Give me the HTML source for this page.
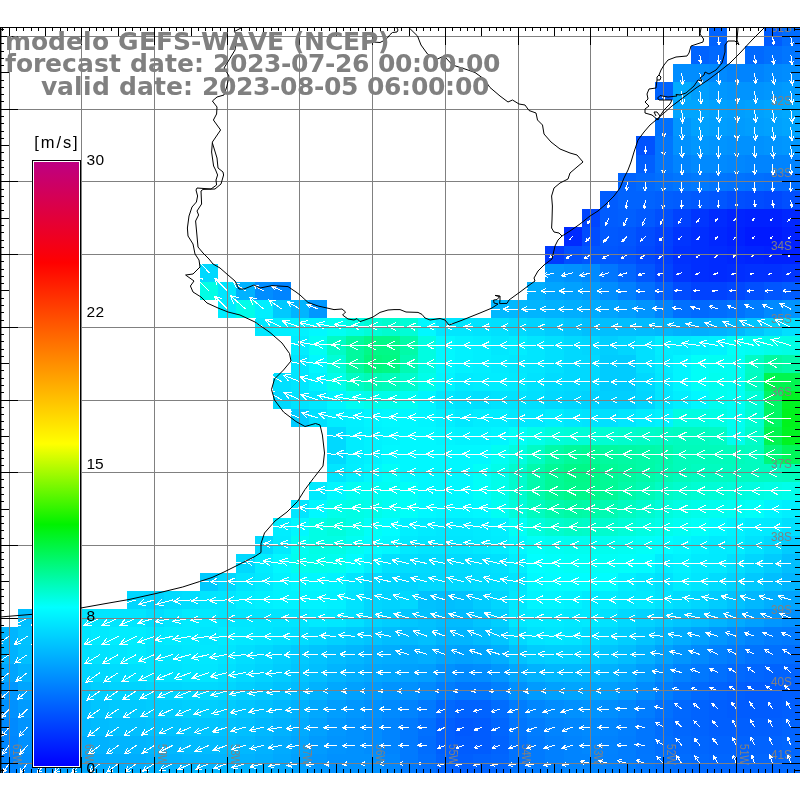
<!DOCTYPE html>
<html><head><meta charset="utf-8"><title>GEFS-WAVE wind forecast</title>
<style>html,body{margin:0;padding:0;background:#fff}body{width:800px;height:800px;overflow:hidden}svg{display:block;will-change:transform}.t{font-family:"DejaVu Sans","Liberation Sans",sans-serif;font-weight:bold;font-size:25px;fill:#808080;font-kerning:none}.n{font-family:"Liberation Sans","DejaVu Sans",sans-serif;font-size:15.5px;fill:#000}.g{font-family:"Liberation Sans","DejaVu Sans",sans-serif;font-size:12.5px;fill:#808080}</style></head><body>
<svg width="800" height="800" viewBox="0 0 800 800">
<rect width="800" height="800" fill="#fff"/>
<g shape-rendering="crispEdges">
<rect x="709" y="27" width="18" height="19" fill="#0063ff"/>
<rect x="764" y="27" width="18" height="19" fill="#005cff"/>
<rect x="782" y="27" width="18" height="19" fill="#006dff"/>
<rect x="691" y="46" width="18" height="18" fill="#0063ff"/>
<rect x="709" y="46" width="18" height="18" fill="#0069ff"/>
<rect x="745" y="46" width="19" height="18" fill="#0069ff"/>
<rect x="764" y="46" width="18" height="18" fill="#0070ff"/>
<rect x="782" y="46" width="18" height="18" fill="#0076ff"/>
<rect x="673" y="64" width="36" height="18" fill="#008dff"/>
<rect x="709" y="64" width="18" height="18" fill="#008aff"/>
<rect x="727" y="64" width="37" height="18" fill="#0084ff"/>
<rect x="764" y="64" width="18" height="18" fill="#008aff"/>
<rect x="782" y="64" width="18" height="18" fill="#008dff"/>
<rect x="655" y="82" width="18" height="18" fill="#0063ff"/>
<rect x="673" y="82" width="18" height="18" fill="#00abff"/>
<rect x="691" y="82" width="18" height="18" fill="#009eff"/>
<rect x="709" y="82" width="18" height="18" fill="#0097ff"/>
<rect x="727" y="82" width="37" height="18" fill="#0094ff"/>
<rect x="764" y="82" width="18" height="18" fill="#0097ff"/>
<rect x="782" y="82" width="18" height="18" fill="#009bff"/>
<rect x="673" y="100" width="36" height="18" fill="#00a5ff"/>
<rect x="709" y="100" width="18" height="18" fill="#00a1ff"/>
<rect x="727" y="100" width="18" height="18" fill="#009eff"/>
<rect x="745" y="100" width="19" height="18" fill="#00a1ff"/>
<rect x="764" y="100" width="18" height="18" fill="#00a5ff"/>
<rect x="782" y="100" width="18" height="18" fill="#00a8ff"/>
<rect x="655" y="118" width="18" height="18" fill="#0070ff"/>
<rect x="673" y="118" width="18" height="18" fill="#0097ff"/>
<rect x="691" y="118" width="18" height="18" fill="#00a1ff"/>
<rect x="709" y="118" width="18" height="18" fill="#009eff"/>
<rect x="727" y="118" width="18" height="18" fill="#009bff"/>
<rect x="745" y="118" width="19" height="18" fill="#009eff"/>
<rect x="764" y="118" width="18" height="18" fill="#00a1ff"/>
<rect x="782" y="118" width="18" height="18" fill="#00a5ff"/>
<rect x="636" y="136" width="19" height="19" fill="#0052ff"/>
<rect x="655" y="136" width="18" height="19" fill="#0076ff"/>
<rect x="673" y="136" width="18" height="19" fill="#0091ff"/>
<rect x="691" y="136" width="18" height="19" fill="#0097ff"/>
<rect x="709" y="136" width="18" height="19" fill="#0094ff"/>
<rect x="727" y="136" width="37" height="19" fill="#0091ff"/>
<rect x="764" y="136" width="18" height="19" fill="#0094ff"/>
<rect x="782" y="136" width="18" height="19" fill="#0097ff"/>
<rect x="636" y="155" width="19" height="18" fill="#005fff"/>
<rect x="655" y="155" width="18" height="18" fill="#0076ff"/>
<rect x="673" y="155" width="18" height="18" fill="#0084ff"/>
<rect x="691" y="155" width="36" height="18" fill="#008aff"/>
<rect x="727" y="155" width="18" height="18" fill="#0087ff"/>
<rect x="745" y="155" width="55" height="18" fill="#0084ff"/>
<rect x="618" y="173" width="18" height="18" fill="#0063ff"/>
<rect x="636" y="173" width="19" height="18" fill="#0069ff"/>
<rect x="655" y="173" width="18" height="18" fill="#0070ff"/>
<rect x="673" y="173" width="18" height="18" fill="#0076ff"/>
<rect x="691" y="173" width="18" height="18" fill="#007aff"/>
<rect x="709" y="173" width="18" height="18" fill="#0076ff"/>
<rect x="727" y="173" width="18" height="18" fill="#0073ff"/>
<rect x="745" y="173" width="19" height="18" fill="#0070ff"/>
<rect x="764" y="173" width="36" height="18" fill="#006dff"/>
<rect x="600" y="191" width="18" height="18" fill="#005cff"/>
<rect x="618" y="191" width="37" height="18" fill="#0063ff"/>
<rect x="655" y="191" width="18" height="18" fill="#005fff"/>
<rect x="673" y="191" width="18" height="18" fill="#005cff"/>
<rect x="691" y="191" width="18" height="18" fill="#0059ff"/>
<rect x="709" y="191" width="18" height="18" fill="#0056ff"/>
<rect x="727" y="191" width="18" height="18" fill="#004fff"/>
<rect x="745" y="191" width="19" height="18" fill="#004cff"/>
<rect x="764" y="191" width="18" height="18" fill="#0048ff"/>
<rect x="782" y="191" width="18" height="18" fill="#004fff"/>
<rect x="582" y="209" width="18" height="18" fill="#0045ff"/>
<rect x="600" y="209" width="18" height="18" fill="#005cff"/>
<rect x="618" y="209" width="18" height="18" fill="#005fff"/>
<rect x="636" y="209" width="19" height="18" fill="#0059ff"/>
<rect x="655" y="209" width="18" height="18" fill="#004fff"/>
<rect x="673" y="209" width="18" height="18" fill="#0042ff"/>
<rect x="691" y="209" width="18" height="18" fill="#0035ff"/>
<rect x="709" y="209" width="18" height="18" fill="#002bff"/>
<rect x="727" y="209" width="18" height="18" fill="#0024ff"/>
<rect x="745" y="209" width="37" height="18" fill="#0021ff"/>
<rect x="782" y="209" width="18" height="18" fill="#0027ff"/>
<rect x="564" y="227" width="18" height="19" fill="#002bff"/>
<rect x="582" y="227" width="18" height="19" fill="#004cff"/>
<rect x="600" y="227" width="18" height="19" fill="#0059ff"/>
<rect x="618" y="227" width="18" height="19" fill="#0056ff"/>
<rect x="636" y="227" width="19" height="19" fill="#004cff"/>
<rect x="655" y="227" width="18" height="19" fill="#0042ff"/>
<rect x="673" y="227" width="18" height="19" fill="#0035ff"/>
<rect x="691" y="227" width="18" height="19" fill="#002eff"/>
<rect x="709" y="227" width="18" height="19" fill="#0027ff"/>
<rect x="727" y="227" width="18" height="19" fill="#0021ff"/>
<rect x="745" y="227" width="37" height="19" fill="#001aff"/>
<rect x="782" y="227" width="18" height="19" fill="#0021ff"/>
<rect x="545" y="246" width="19" height="18" fill="#003bff"/>
<rect x="564" y="246" width="18" height="18" fill="#004fff"/>
<rect x="582" y="246" width="36" height="18" fill="#0056ff"/>
<rect x="618" y="246" width="18" height="18" fill="#0052ff"/>
<rect x="636" y="246" width="19" height="18" fill="#0048ff"/>
<rect x="655" y="246" width="18" height="18" fill="#003fff"/>
<rect x="673" y="246" width="18" height="18" fill="#0031ff"/>
<rect x="691" y="246" width="18" height="18" fill="#002eff"/>
<rect x="709" y="246" width="18" height="18" fill="#002bff"/>
<rect x="727" y="246" width="18" height="18" fill="#0027ff"/>
<rect x="745" y="246" width="19" height="18" fill="#0024ff"/>
<rect x="764" y="246" width="36" height="18" fill="#0021ff"/>
<rect x="200" y="264" width="18" height="18" fill="#00d9ff"/>
<rect x="545" y="264" width="19" height="18" fill="#0097ff"/>
<rect x="564" y="264" width="18" height="18" fill="#0091ff"/>
<rect x="582" y="264" width="18" height="18" fill="#008aff"/>
<rect x="600" y="264" width="18" height="18" fill="#0076ff"/>
<rect x="618" y="264" width="18" height="18" fill="#0066ff"/>
<rect x="636" y="264" width="19" height="18" fill="#0056ff"/>
<rect x="655" y="264" width="18" height="18" fill="#0045ff"/>
<rect x="673" y="264" width="18" height="18" fill="#0035ff"/>
<rect x="691" y="264" width="18" height="18" fill="#002eff"/>
<rect x="709" y="264" width="18" height="18" fill="#002bff"/>
<rect x="727" y="264" width="18" height="18" fill="#002eff"/>
<rect x="745" y="264" width="37" height="18" fill="#0031ff"/>
<rect x="782" y="264" width="18" height="18" fill="#0035ff"/>
<rect x="200" y="282" width="18" height="18" fill="#00fee5"/>
<rect x="218" y="282" width="18" height="18" fill="#00e6ff"/>
<rect x="236" y="282" width="19" height="18" fill="#00b2ff"/>
<rect x="255" y="282" width="18" height="18" fill="#008dff"/>
<rect x="273" y="282" width="18" height="18" fill="#0084ff"/>
<rect x="527" y="282" width="18" height="18" fill="#00aeff"/>
<rect x="545" y="282" width="19" height="18" fill="#00a5ff"/>
<rect x="564" y="282" width="18" height="18" fill="#00a1ff"/>
<rect x="582" y="282" width="18" height="18" fill="#009bff"/>
<rect x="600" y="282" width="18" height="18" fill="#008dff"/>
<rect x="618" y="282" width="18" height="18" fill="#0080ff"/>
<rect x="636" y="282" width="19" height="18" fill="#0070ff"/>
<rect x="655" y="282" width="18" height="18" fill="#005fff"/>
<rect x="673" y="282" width="18" height="18" fill="#004cff"/>
<rect x="691" y="282" width="36" height="18" fill="#0042ff"/>
<rect x="727" y="282" width="18" height="18" fill="#0048ff"/>
<rect x="745" y="282" width="19" height="18" fill="#004fff"/>
<rect x="764" y="282" width="18" height="18" fill="#0056ff"/>
<rect x="782" y="282" width="18" height="18" fill="#005cff"/>
<rect x="218" y="300" width="18" height="18" fill="#00edff"/>
<rect x="236" y="300" width="19" height="18" fill="#00feea"/>
<rect x="255" y="300" width="18" height="18" fill="#00efff"/>
<rect x="273" y="300" width="18" height="18" fill="#00c9ff"/>
<rect x="291" y="300" width="18" height="18" fill="#00b5ff"/>
<rect x="309" y="300" width="18" height="18" fill="#0097ff"/>
<rect x="491" y="300" width="36" height="18" fill="#00b8ff"/>
<rect x="527" y="300" width="18" height="18" fill="#00b5ff"/>
<rect x="545" y="300" width="19" height="18" fill="#00b2ff"/>
<rect x="564" y="300" width="18" height="18" fill="#00aeff"/>
<rect x="582" y="300" width="18" height="18" fill="#00abff"/>
<rect x="600" y="300" width="18" height="18" fill="#00a5ff"/>
<rect x="618" y="300" width="18" height="18" fill="#009eff"/>
<rect x="636" y="300" width="19" height="18" fill="#0094ff"/>
<rect x="655" y="300" width="18" height="18" fill="#0084ff"/>
<rect x="673" y="300" width="18" height="18" fill="#0070ff"/>
<rect x="691" y="300" width="18" height="18" fill="#0069ff"/>
<rect x="709" y="300" width="18" height="18" fill="#006dff"/>
<rect x="727" y="300" width="18" height="18" fill="#0073ff"/>
<rect x="745" y="300" width="19" height="18" fill="#007dff"/>
<rect x="764" y="300" width="18" height="18" fill="#008aff"/>
<rect x="782" y="300" width="18" height="18" fill="#0094ff"/>
<rect x="255" y="318" width="18" height="18" fill="#00e8ff"/>
<rect x="273" y="318" width="18" height="18" fill="#00efff"/>
<rect x="291" y="318" width="18" height="18" fill="#00f2ff"/>
<rect x="309" y="318" width="18" height="18" fill="#00f8ff"/>
<rect x="327" y="318" width="19" height="18" fill="#00fef3"/>
<rect x="346" y="318" width="18" height="18" fill="#00fee5"/>
<rect x="364" y="318" width="18" height="18" fill="#00fdd7"/>
<rect x="382" y="318" width="18" height="18" fill="#00fcce"/>
<rect x="400" y="318" width="18" height="18" fill="#00fdd7"/>
<rect x="418" y="318" width="18" height="18" fill="#00f8ff"/>
<rect x="436" y="318" width="37" height="18" fill="#00e6ff"/>
<rect x="473" y="318" width="18" height="18" fill="#00e3ff"/>
<rect x="491" y="318" width="18" height="18" fill="#00e0ff"/>
<rect x="509" y="318" width="18" height="18" fill="#00d9ff"/>
<rect x="527" y="318" width="18" height="18" fill="#00d3ff"/>
<rect x="545" y="318" width="19" height="18" fill="#00ccff"/>
<rect x="564" y="318" width="18" height="18" fill="#00c5ff"/>
<rect x="582" y="318" width="54" height="18" fill="#00bfff"/>
<rect x="636" y="318" width="19" height="18" fill="#00bcff"/>
<rect x="655" y="318" width="18" height="18" fill="#00b8ff"/>
<rect x="673" y="318" width="18" height="18" fill="#00b2ff"/>
<rect x="691" y="318" width="18" height="18" fill="#00aeff"/>
<rect x="709" y="318" width="18" height="18" fill="#00b2ff"/>
<rect x="727" y="318" width="18" height="18" fill="#00b8ff"/>
<rect x="745" y="318" width="19" height="18" fill="#00c5ff"/>
<rect x="764" y="318" width="18" height="18" fill="#00d3ff"/>
<rect x="782" y="318" width="18" height="18" fill="#00e0ff"/>
<rect x="291" y="336" width="18" height="19" fill="#00edff"/>
<rect x="309" y="336" width="18" height="19" fill="#00fef3"/>
<rect x="327" y="336" width="19" height="19" fill="#00fcc5"/>
<rect x="346" y="336" width="18" height="19" fill="#00fa9f"/>
<rect x="364" y="336" width="36" height="19" fill="#00f988"/>
<rect x="400" y="336" width="18" height="19" fill="#00fba8"/>
<rect x="418" y="336" width="18" height="19" fill="#00fde1"/>
<rect x="436" y="336" width="19" height="19" fill="#00f8ff"/>
<rect x="455" y="336" width="18" height="19" fill="#00f2ff"/>
<rect x="473" y="336" width="18" height="19" fill="#00efff"/>
<rect x="491" y="336" width="18" height="19" fill="#00e8ff"/>
<rect x="509" y="336" width="18" height="19" fill="#00edff"/>
<rect x="527" y="336" width="18" height="19" fill="#00e6ff"/>
<rect x="545" y="336" width="19" height="19" fill="#00e0ff"/>
<rect x="564" y="336" width="18" height="19" fill="#00d9ff"/>
<rect x="582" y="336" width="18" height="19" fill="#00d6ff"/>
<rect x="600" y="336" width="18" height="19" fill="#00cfff"/>
<rect x="618" y="336" width="18" height="19" fill="#00d6ff"/>
<rect x="636" y="336" width="19" height="19" fill="#00e0ff"/>
<rect x="655" y="336" width="18" height="19" fill="#00edff"/>
<rect x="673" y="336" width="18" height="19" fill="#00ebff"/>
<rect x="691" y="336" width="18" height="19" fill="#00efff"/>
<rect x="709" y="336" width="18" height="19" fill="#00f2ff"/>
<rect x="727" y="336" width="18" height="19" fill="#00fff8"/>
<rect x="745" y="336" width="19" height="19" fill="#00fef3"/>
<rect x="764" y="336" width="18" height="19" fill="#00feea"/>
<rect x="782" y="336" width="18" height="19" fill="#00fee5"/>
<rect x="291" y="355" width="18" height="18" fill="#00e6ff"/>
<rect x="309" y="355" width="18" height="18" fill="#00f8ff"/>
<rect x="327" y="355" width="19" height="18" fill="#00fdd7"/>
<rect x="346" y="355" width="18" height="18" fill="#00fa9f"/>
<rect x="364" y="355" width="18" height="18" fill="#00f87e"/>
<rect x="382" y="355" width="18" height="18" fill="#00f983"/>
<rect x="400" y="355" width="18" height="18" fill="#00fbb2"/>
<rect x="418" y="355" width="18" height="18" fill="#00fde1"/>
<rect x="436" y="355" width="19" height="18" fill="#00f8ff"/>
<rect x="455" y="355" width="18" height="18" fill="#00f2ff"/>
<rect x="473" y="355" width="18" height="18" fill="#00efff"/>
<rect x="491" y="355" width="18" height="18" fill="#00ebff"/>
<rect x="509" y="355" width="18" height="18" fill="#00e8ff"/>
<rect x="527" y="355" width="18" height="18" fill="#00e6ff"/>
<rect x="545" y="355" width="19" height="18" fill="#00e0ff"/>
<rect x="564" y="355" width="36" height="18" fill="#00d9ff"/>
<rect x="600" y="355" width="36" height="18" fill="#00ccff"/>
<rect x="636" y="355" width="19" height="18" fill="#00e0ff"/>
<rect x="655" y="355" width="18" height="18" fill="#00ebff"/>
<rect x="673" y="355" width="18" height="18" fill="#00f5ff"/>
<rect x="691" y="355" width="18" height="18" fill="#00fff8"/>
<rect x="709" y="355" width="36" height="18" fill="#00fef3"/>
<rect x="745" y="355" width="19" height="18" fill="#00fcc5"/>
<rect x="764" y="355" width="18" height="18" fill="#00fa9f"/>
<rect x="782" y="355" width="18" height="18" fill="#00fba8"/>
<rect x="273" y="373" width="18" height="18" fill="#00e0ff"/>
<rect x="291" y="373" width="18" height="18" fill="#00e6ff"/>
<rect x="309" y="373" width="18" height="18" fill="#00f2ff"/>
<rect x="327" y="373" width="19" height="18" fill="#00feea"/>
<rect x="346" y="373" width="18" height="18" fill="#00fcc5"/>
<rect x="364" y="373" width="18" height="18" fill="#00fbb6"/>
<rect x="382" y="373" width="18" height="18" fill="#00fcbb"/>
<rect x="400" y="373" width="18" height="18" fill="#00fcce"/>
<rect x="418" y="373" width="18" height="18" fill="#00feea"/>
<rect x="436" y="373" width="19" height="18" fill="#00f5ff"/>
<rect x="455" y="373" width="18" height="18" fill="#00ebff"/>
<rect x="473" y="373" width="36" height="18" fill="#00edff"/>
<rect x="509" y="373" width="18" height="18" fill="#00eaff"/>
<rect x="527" y="373" width="18" height="18" fill="#00e3ff"/>
<rect x="545" y="373" width="19" height="18" fill="#00dcff"/>
<rect x="564" y="373" width="36" height="18" fill="#00d9ff"/>
<rect x="600" y="373" width="36" height="18" fill="#00ccff"/>
<rect x="636" y="373" width="19" height="18" fill="#00d9ff"/>
<rect x="655" y="373" width="18" height="18" fill="#00e8ff"/>
<rect x="673" y="373" width="18" height="18" fill="#00f5ff"/>
<rect x="691" y="373" width="18" height="18" fill="#00fff8"/>
<rect x="709" y="373" width="18" height="18" fill="#00feef"/>
<rect x="727" y="373" width="18" height="18" fill="#00fef3"/>
<rect x="745" y="373" width="19" height="18" fill="#00fcc0"/>
<rect x="764" y="373" width="36" height="18" fill="#00f64f"/>
<rect x="273" y="391" width="18" height="18" fill="#00d9ff"/>
<rect x="291" y="391" width="18" height="18" fill="#00e3ff"/>
<rect x="309" y="391" width="18" height="18" fill="#00e8ff"/>
<rect x="327" y="391" width="19" height="18" fill="#00f5ff"/>
<rect x="346" y="391" width="18" height="18" fill="#00fef3"/>
<rect x="364" y="391" width="36" height="18" fill="#00feea"/>
<rect x="400" y="391" width="18" height="18" fill="#00fef3"/>
<rect x="418" y="391" width="18" height="18" fill="#00f5ff"/>
<rect x="436" y="391" width="19" height="18" fill="#00e8ff"/>
<rect x="455" y="391" width="18" height="18" fill="#00e3ff"/>
<rect x="473" y="391" width="18" height="18" fill="#00e0ff"/>
<rect x="491" y="391" width="36" height="18" fill="#00e3ff"/>
<rect x="527" y="391" width="18" height="18" fill="#00e0ff"/>
<rect x="545" y="391" width="19" height="18" fill="#00d9ff"/>
<rect x="564" y="391" width="18" height="18" fill="#00d6ff"/>
<rect x="582" y="391" width="18" height="18" fill="#00d3ff"/>
<rect x="600" y="391" width="36" height="18" fill="#00cfff"/>
<rect x="636" y="391" width="19" height="18" fill="#00d6ff"/>
<rect x="655" y="391" width="18" height="18" fill="#00e6ff"/>
<rect x="673" y="391" width="18" height="18" fill="#00efff"/>
<rect x="691" y="391" width="18" height="18" fill="#00f8ff"/>
<rect x="709" y="391" width="18" height="18" fill="#00feef"/>
<rect x="727" y="391" width="18" height="18" fill="#00fff6"/>
<rect x="745" y="391" width="19" height="18" fill="#00fdd7"/>
<rect x="764" y="391" width="18" height="18" fill="#00f762"/>
<rect x="782" y="391" width="18" height="18" fill="#00f421"/>
<rect x="291" y="409" width="18" height="18" fill="#00ccff"/>
<rect x="309" y="409" width="18" height="18" fill="#00e0ff"/>
<rect x="327" y="409" width="19" height="18" fill="#00edff"/>
<rect x="346" y="409" width="18" height="18" fill="#00efff"/>
<rect x="364" y="409" width="18" height="18" fill="#00f5ff"/>
<rect x="382" y="409" width="36" height="18" fill="#00f8ff"/>
<rect x="418" y="409" width="18" height="18" fill="#00f5ff"/>
<rect x="436" y="409" width="19" height="18" fill="#00efff"/>
<rect x="455" y="409" width="18" height="18" fill="#00e8ff"/>
<rect x="473" y="409" width="36" height="18" fill="#00edff"/>
<rect x="509" y="409" width="36" height="18" fill="#00e8ff"/>
<rect x="545" y="409" width="19" height="18" fill="#00edff"/>
<rect x="564" y="409" width="18" height="18" fill="#00e6ff"/>
<rect x="582" y="409" width="18" height="18" fill="#00e3ff"/>
<rect x="600" y="409" width="18" height="18" fill="#00e0ff"/>
<rect x="618" y="409" width="18" height="18" fill="#00e6ff"/>
<rect x="636" y="409" width="19" height="18" fill="#00edff"/>
<rect x="655" y="409" width="18" height="18" fill="#00f2ff"/>
<rect x="673" y="409" width="36" height="18" fill="#00fde1"/>
<rect x="709" y="409" width="18" height="18" fill="#00fee5"/>
<rect x="727" y="409" width="18" height="18" fill="#00fef3"/>
<rect x="745" y="409" width="19" height="18" fill="#00fdd3"/>
<rect x="764" y="409" width="18" height="18" fill="#00f762"/>
<rect x="782" y="409" width="18" height="18" fill="#00f31c"/>
<rect x="327" y="427" width="19" height="18" fill="#00d9ff"/>
<rect x="346" y="427" width="18" height="18" fill="#00edff"/>
<rect x="364" y="427" width="18" height="18" fill="#00f2ff"/>
<rect x="382" y="427" width="18" height="18" fill="#00f5ff"/>
<rect x="400" y="427" width="36" height="18" fill="#00f8ff"/>
<rect x="436" y="427" width="19" height="18" fill="#00f5ff"/>
<rect x="455" y="427" width="36" height="18" fill="#00f2ff"/>
<rect x="491" y="427" width="18" height="18" fill="#00f5ff"/>
<rect x="509" y="427" width="18" height="18" fill="#00fff8"/>
<rect x="527" y="427" width="18" height="18" fill="#00feea"/>
<rect x="545" y="427" width="19" height="18" fill="#00fddc"/>
<rect x="564" y="427" width="36" height="18" fill="#00fdd7"/>
<rect x="600" y="427" width="18" height="18" fill="#00fdd3"/>
<rect x="618" y="427" width="18" height="18" fill="#00fcce"/>
<rect x="636" y="427" width="19" height="18" fill="#00fcc9"/>
<rect x="655" y="427" width="18" height="18" fill="#00fcc5"/>
<rect x="673" y="427" width="36" height="18" fill="#00fcc0"/>
<rect x="709" y="427" width="18" height="18" fill="#00fcc5"/>
<rect x="727" y="427" width="18" height="18" fill="#00feef"/>
<rect x="745" y="427" width="19" height="18" fill="#00fcc9"/>
<rect x="764" y="427" width="18" height="18" fill="#00f64f"/>
<rect x="782" y="427" width="18" height="18" fill="#00f421"/>
<rect x="327" y="445" width="19" height="19" fill="#00d9ff"/>
<rect x="346" y="445" width="18" height="19" fill="#00edff"/>
<rect x="364" y="445" width="18" height="19" fill="#00f2ff"/>
<rect x="382" y="445" width="109" height="19" fill="#00f8ff"/>
<rect x="491" y="445" width="18" height="19" fill="#00fef3"/>
<rect x="509" y="445" width="18" height="19" fill="#00fde1"/>
<rect x="527" y="445" width="18" height="19" fill="#00fcc5"/>
<rect x="545" y="445" width="19" height="19" fill="#00fba8"/>
<rect x="564" y="445" width="18" height="19" fill="#00fa9a"/>
<rect x="582" y="445" width="18" height="19" fill="#00fa96"/>
<rect x="600" y="445" width="18" height="19" fill="#00fa9f"/>
<rect x="618" y="445" width="18" height="19" fill="#00faa4"/>
<rect x="636" y="445" width="19" height="19" fill="#00fba8"/>
<rect x="655" y="445" width="18" height="19" fill="#00fbad"/>
<rect x="673" y="445" width="72" height="19" fill="#00fcbb"/>
<rect x="745" y="445" width="19" height="19" fill="#00fcc0"/>
<rect x="764" y="445" width="18" height="19" fill="#00f87a"/>
<rect x="782" y="445" width="18" height="19" fill="#00f759"/>
<rect x="327" y="464" width="19" height="18" fill="#00e6ff"/>
<rect x="346" y="464" width="18" height="18" fill="#00efff"/>
<rect x="364" y="464" width="18" height="18" fill="#00f8ff"/>
<rect x="382" y="464" width="18" height="18" fill="#00fff8"/>
<rect x="400" y="464" width="73" height="18" fill="#00f8ff"/>
<rect x="473" y="464" width="18" height="18" fill="#00fff8"/>
<rect x="491" y="464" width="18" height="18" fill="#00feea"/>
<rect x="509" y="464" width="18" height="18" fill="#00fcce"/>
<rect x="527" y="464" width="18" height="18" fill="#00fbad"/>
<rect x="545" y="464" width="19" height="18" fill="#00fa96"/>
<rect x="564" y="464" width="36" height="18" fill="#00f988"/>
<rect x="600" y="464" width="18" height="18" fill="#00fa96"/>
<rect x="618" y="464" width="18" height="18" fill="#00fa9f"/>
<rect x="636" y="464" width="19" height="18" fill="#00fba8"/>
<rect x="655" y="464" width="18" height="18" fill="#00fbb2"/>
<rect x="673" y="464" width="18" height="18" fill="#00fcbb"/>
<rect x="691" y="464" width="91" height="18" fill="#00fcc0"/>
<rect x="782" y="464" width="18" height="18" fill="#00fcbb"/>
<rect x="309" y="482" width="18" height="18" fill="#00ebff"/>
<rect x="327" y="482" width="19" height="18" fill="#00f8ff"/>
<rect x="346" y="482" width="54" height="18" fill="#00fef3"/>
<rect x="400" y="482" width="18" height="18" fill="#00fff8"/>
<rect x="418" y="482" width="55" height="18" fill="#00f8ff"/>
<rect x="473" y="482" width="18" height="18" fill="#00fff8"/>
<rect x="491" y="482" width="18" height="18" fill="#00feea"/>
<rect x="509" y="482" width="18" height="18" fill="#00fcce"/>
<rect x="527" y="482" width="18" height="18" fill="#00fbad"/>
<rect x="545" y="482" width="19" height="18" fill="#00fa96"/>
<rect x="564" y="482" width="36" height="18" fill="#00f98c"/>
<rect x="600" y="482" width="18" height="18" fill="#00fa96"/>
<rect x="618" y="482" width="18" height="18" fill="#00fba8"/>
<rect x="636" y="482" width="19" height="18" fill="#00fbb6"/>
<rect x="655" y="482" width="18" height="18" fill="#00fcc5"/>
<rect x="673" y="482" width="18" height="18" fill="#00fcce"/>
<rect x="691" y="482" width="18" height="18" fill="#00fdd3"/>
<rect x="709" y="482" width="18" height="18" fill="#00fdd7"/>
<rect x="727" y="482" width="18" height="18" fill="#00fddc"/>
<rect x="745" y="482" width="19" height="18" fill="#00fde1"/>
<rect x="764" y="482" width="18" height="18" fill="#00fee5"/>
<rect x="782" y="482" width="18" height="18" fill="#00feea"/>
<rect x="291" y="500" width="18" height="18" fill="#00e6ff"/>
<rect x="309" y="500" width="18" height="18" fill="#00f8ff"/>
<rect x="327" y="500" width="19" height="18" fill="#00feea"/>
<rect x="346" y="500" width="18" height="18" fill="#00fee5"/>
<rect x="364" y="500" width="18" height="18" fill="#00feea"/>
<rect x="382" y="500" width="18" height="18" fill="#00fef3"/>
<rect x="400" y="500" width="18" height="18" fill="#00fff8"/>
<rect x="418" y="500" width="18" height="18" fill="#00f8ff"/>
<rect x="436" y="500" width="37" height="18" fill="#00f5ff"/>
<rect x="473" y="500" width="18" height="18" fill="#00f8ff"/>
<rect x="491" y="500" width="18" height="18" fill="#00fef3"/>
<rect x="509" y="500" width="18" height="18" fill="#00fddc"/>
<rect x="527" y="500" width="18" height="18" fill="#00fcc0"/>
<rect x="545" y="500" width="19" height="18" fill="#00fbad"/>
<rect x="564" y="500" width="18" height="18" fill="#00faa4"/>
<rect x="582" y="500" width="18" height="18" fill="#00fba8"/>
<rect x="600" y="500" width="18" height="18" fill="#00fbb2"/>
<rect x="618" y="500" width="18" height="18" fill="#00fcc0"/>
<rect x="636" y="500" width="19" height="18" fill="#00fcce"/>
<rect x="655" y="500" width="18" height="18" fill="#00fddc"/>
<rect x="673" y="500" width="18" height="18" fill="#00fee5"/>
<rect x="691" y="500" width="18" height="18" fill="#00feea"/>
<rect x="709" y="500" width="18" height="18" fill="#00feef"/>
<rect x="727" y="500" width="18" height="18" fill="#00fef3"/>
<rect x="745" y="500" width="19" height="18" fill="#00fff8"/>
<rect x="764" y="500" width="18" height="18" fill="#00f5ff"/>
<rect x="782" y="500" width="18" height="18" fill="#00efff"/>
<rect x="273" y="518" width="18" height="18" fill="#00edff"/>
<rect x="291" y="518" width="18" height="18" fill="#00f8ff"/>
<rect x="309" y="518" width="18" height="18" fill="#00fee5"/>
<rect x="327" y="518" width="19" height="18" fill="#00fddc"/>
<rect x="346" y="518" width="18" height="18" fill="#00fee8"/>
<rect x="364" y="518" width="18" height="18" fill="#00fff8"/>
<rect x="382" y="518" width="18" height="18" fill="#00fdff"/>
<rect x="400" y="518" width="18" height="18" fill="#00efff"/>
<rect x="418" y="518" width="18" height="18" fill="#00ebff"/>
<rect x="436" y="518" width="37" height="18" fill="#00e8ff"/>
<rect x="473" y="518" width="18" height="18" fill="#00ebff"/>
<rect x="491" y="518" width="18" height="18" fill="#00efff"/>
<rect x="509" y="518" width="18" height="18" fill="#00fff6"/>
<rect x="527" y="518" width="18" height="18" fill="#00fddc"/>
<rect x="545" y="518" width="19" height="18" fill="#00fcce"/>
<rect x="564" y="518" width="18" height="18" fill="#00fcc5"/>
<rect x="582" y="518" width="18" height="18" fill="#00fcc9"/>
<rect x="600" y="518" width="18" height="18" fill="#00fcce"/>
<rect x="618" y="518" width="18" height="18" fill="#00fdd7"/>
<rect x="636" y="518" width="19" height="18" fill="#00fde1"/>
<rect x="655" y="518" width="18" height="18" fill="#00feea"/>
<rect x="673" y="518" width="18" height="18" fill="#00fef3"/>
<rect x="691" y="518" width="18" height="18" fill="#00fff8"/>
<rect x="709" y="518" width="18" height="18" fill="#00f8ff"/>
<rect x="727" y="518" width="18" height="18" fill="#00f2ff"/>
<rect x="745" y="518" width="19" height="18" fill="#00ebff"/>
<rect x="764" y="518" width="18" height="18" fill="#00eaff"/>
<rect x="782" y="518" width="18" height="18" fill="#00e0ff"/>
<rect x="255" y="536" width="18" height="18" fill="#00d9ff"/>
<rect x="273" y="536" width="18" height="18" fill="#00ebff"/>
<rect x="291" y="536" width="18" height="18" fill="#00fef3"/>
<rect x="309" y="536" width="37" height="18" fill="#00fee5"/>
<rect x="346" y="536" width="18" height="18" fill="#00fef2"/>
<rect x="364" y="536" width="18" height="18" fill="#00fcff"/>
<rect x="382" y="536" width="18" height="18" fill="#00f8ff"/>
<rect x="400" y="536" width="18" height="18" fill="#00eaff"/>
<rect x="418" y="536" width="55" height="18" fill="#00e6ff"/>
<rect x="473" y="536" width="18" height="18" fill="#00eaff"/>
<rect x="491" y="536" width="18" height="18" fill="#00edff"/>
<rect x="509" y="536" width="18" height="18" fill="#00f8ff"/>
<rect x="527" y="536" width="18" height="18" fill="#00fff8"/>
<rect x="545" y="536" width="19" height="18" fill="#00fef3"/>
<rect x="564" y="536" width="54" height="18" fill="#00feef"/>
<rect x="618" y="536" width="18" height="18" fill="#00fef3"/>
<rect x="636" y="536" width="19" height="18" fill="#00fff8"/>
<rect x="655" y="536" width="18" height="18" fill="#00fdff"/>
<rect x="673" y="536" width="18" height="18" fill="#00f8ff"/>
<rect x="691" y="536" width="18" height="18" fill="#00f2ff"/>
<rect x="709" y="536" width="18" height="18" fill="#00ebff"/>
<rect x="727" y="536" width="18" height="18" fill="#00edff"/>
<rect x="745" y="536" width="19" height="18" fill="#00e3ff"/>
<rect x="764" y="536" width="18" height="18" fill="#00d9ff"/>
<rect x="782" y="536" width="18" height="18" fill="#00ccff"/>
<rect x="236" y="554" width="19" height="19" fill="#00d9ff"/>
<rect x="255" y="554" width="18" height="19" fill="#00edff"/>
<rect x="273" y="554" width="18" height="19" fill="#00f8ff"/>
<rect x="291" y="554" width="18" height="19" fill="#00feef"/>
<rect x="309" y="554" width="18" height="19" fill="#00feea"/>
<rect x="327" y="554" width="19" height="19" fill="#00feef"/>
<rect x="346" y="554" width="18" height="19" fill="#00fdff"/>
<rect x="364" y="554" width="18" height="19" fill="#00f0ff"/>
<rect x="382" y="554" width="18" height="19" fill="#00e1ff"/>
<rect x="400" y="554" width="18" height="19" fill="#00deff"/>
<rect x="418" y="554" width="55" height="19" fill="#00dbff"/>
<rect x="473" y="554" width="18" height="19" fill="#00deff"/>
<rect x="491" y="554" width="18" height="19" fill="#00e1ff"/>
<rect x="509" y="554" width="18" height="19" fill="#00efff"/>
<rect x="527" y="554" width="18" height="19" fill="#00ffff"/>
<rect x="545" y="554" width="19" height="19" fill="#00fffa"/>
<rect x="564" y="554" width="54" height="19" fill="#00fff6"/>
<rect x="618" y="554" width="18" height="19" fill="#00fffa"/>
<rect x="636" y="554" width="19" height="19" fill="#00fcff"/>
<rect x="655" y="554" width="18" height="19" fill="#00edff"/>
<rect x="673" y="554" width="18" height="19" fill="#00f2ff"/>
<rect x="691" y="554" width="18" height="19" fill="#00ebff"/>
<rect x="709" y="554" width="18" height="19" fill="#00eaff"/>
<rect x="727" y="554" width="18" height="19" fill="#00e0ff"/>
<rect x="745" y="554" width="19" height="19" fill="#00d6ff"/>
<rect x="764" y="554" width="18" height="19" fill="#00ccff"/>
<rect x="782" y="554" width="18" height="19" fill="#00bfff"/>
<rect x="200" y="573" width="18" height="18" fill="#00caff"/>
<rect x="218" y="573" width="18" height="18" fill="#00d8ff"/>
<rect x="236" y="573" width="19" height="18" fill="#00e5ff"/>
<rect x="255" y="573" width="18" height="18" fill="#00eaff"/>
<rect x="273" y="573" width="18" height="18" fill="#00f3ff"/>
<rect x="291" y="573" width="36" height="18" fill="#00f7ff"/>
<rect x="327" y="573" width="19" height="18" fill="#00f3ff"/>
<rect x="346" y="573" width="18" height="18" fill="#00e6ff"/>
<rect x="364" y="573" width="18" height="18" fill="#00d9ff"/>
<rect x="382" y="573" width="18" height="18" fill="#00d6ff"/>
<rect x="400" y="573" width="18" height="18" fill="#00d3ff"/>
<rect x="418" y="573" width="55" height="18" fill="#00d8ff"/>
<rect x="473" y="573" width="18" height="18" fill="#00dbff"/>
<rect x="491" y="573" width="18" height="18" fill="#00deff"/>
<rect x="509" y="573" width="18" height="18" fill="#00e5ff"/>
<rect x="527" y="573" width="18" height="18" fill="#00faff"/>
<rect x="545" y="573" width="73" height="18" fill="#00fdff"/>
<rect x="618" y="573" width="18" height="18" fill="#00efff"/>
<rect x="636" y="573" width="19" height="18" fill="#00e8ff"/>
<rect x="655" y="573" width="18" height="18" fill="#00e1ff"/>
<rect x="673" y="573" width="18" height="18" fill="#00edff"/>
<rect x="691" y="573" width="18" height="18" fill="#00e6ff"/>
<rect x="709" y="573" width="18" height="18" fill="#00dcff"/>
<rect x="727" y="573" width="18" height="18" fill="#00d3ff"/>
<rect x="745" y="573" width="19" height="18" fill="#00c9ff"/>
<rect x="764" y="573" width="18" height="18" fill="#00bfff"/>
<rect x="782" y="573" width="18" height="18" fill="#00b5ff"/>
<rect x="127" y="591" width="19" height="18" fill="#00d6ff"/>
<rect x="146" y="591" width="18" height="18" fill="#00d4ff"/>
<rect x="164" y="591" width="18" height="18" fill="#00dbff"/>
<rect x="182" y="591" width="18" height="18" fill="#00deff"/>
<rect x="200" y="591" width="18" height="18" fill="#00e5ff"/>
<rect x="218" y="591" width="18" height="18" fill="#00e6ff"/>
<rect x="236" y="591" width="19" height="18" fill="#00edff"/>
<rect x="255" y="591" width="18" height="18" fill="#00f0ff"/>
<rect x="273" y="591" width="54" height="18" fill="#00f3ff"/>
<rect x="327" y="591" width="19" height="18" fill="#00f0ff"/>
<rect x="346" y="591" width="18" height="18" fill="#00e3ff"/>
<rect x="364" y="591" width="18" height="18" fill="#00d6ff"/>
<rect x="382" y="591" width="18" height="18" fill="#00d3ff"/>
<rect x="400" y="591" width="18" height="18" fill="#00d8ff"/>
<rect x="418" y="591" width="18" height="18" fill="#00c2ff"/>
<rect x="436" y="591" width="19" height="18" fill="#00bfff"/>
<rect x="455" y="591" width="18" height="18" fill="#00c2ff"/>
<rect x="473" y="591" width="18" height="18" fill="#00ccff"/>
<rect x="491" y="591" width="18" height="18" fill="#00d6ff"/>
<rect x="509" y="591" width="18" height="18" fill="#00e8ff"/>
<rect x="527" y="591" width="37" height="18" fill="#00f5ff"/>
<rect x="564" y="591" width="18" height="18" fill="#00f2ff"/>
<rect x="582" y="591" width="18" height="18" fill="#00ebff"/>
<rect x="600" y="591" width="18" height="18" fill="#00edff"/>
<rect x="618" y="591" width="18" height="18" fill="#00e8ff"/>
<rect x="636" y="591" width="19" height="18" fill="#00eaff"/>
<rect x="655" y="591" width="18" height="18" fill="#00e3ff"/>
<rect x="673" y="591" width="18" height="18" fill="#00dcff"/>
<rect x="691" y="591" width="18" height="18" fill="#00d6ff"/>
<rect x="709" y="591" width="18" height="18" fill="#00ccff"/>
<rect x="727" y="591" width="18" height="18" fill="#00c2ff"/>
<rect x="745" y="591" width="19" height="18" fill="#00b8ff"/>
<rect x="764" y="591" width="18" height="18" fill="#00aeff"/>
<rect x="782" y="591" width="18" height="18" fill="#00a5ff"/>
<rect x="18" y="609" width="19" height="18" fill="#00bfff"/>
<rect x="37" y="609" width="18" height="18" fill="#00ccff"/>
<rect x="55" y="609" width="18" height="18" fill="#00d9ff"/>
<rect x="73" y="609" width="18" height="18" fill="#00e3ff"/>
<rect x="91" y="609" width="55" height="18" fill="#00e6ff"/>
<rect x="146" y="609" width="18" height="18" fill="#00deff"/>
<rect x="164" y="609" width="18" height="18" fill="#00e5ff"/>
<rect x="182" y="609" width="18" height="18" fill="#00ebff"/>
<rect x="200" y="609" width="18" height="18" fill="#00eaff"/>
<rect x="218" y="609" width="91" height="18" fill="#00e6ff"/>
<rect x="309" y="609" width="18" height="18" fill="#00ebff"/>
<rect x="327" y="609" width="19" height="18" fill="#00e8ff"/>
<rect x="346" y="609" width="18" height="18" fill="#00e0ff"/>
<rect x="364" y="609" width="18" height="18" fill="#00d4ff"/>
<rect x="382" y="609" width="18" height="18" fill="#00ceff"/>
<rect x="400" y="609" width="18" height="18" fill="#00c7ff"/>
<rect x="418" y="609" width="18" height="18" fill="#00c2ff"/>
<rect x="436" y="609" width="37" height="18" fill="#00bcff"/>
<rect x="473" y="609" width="18" height="18" fill="#00c5ff"/>
<rect x="491" y="609" width="18" height="18" fill="#00cfff"/>
<rect x="509" y="609" width="18" height="18" fill="#00e8ff"/>
<rect x="527" y="609" width="37" height="18" fill="#00ebff"/>
<rect x="564" y="609" width="18" height="18" fill="#00e8ff"/>
<rect x="582" y="609" width="18" height="18" fill="#00eaff"/>
<rect x="600" y="609" width="18" height="18" fill="#00e3ff"/>
<rect x="618" y="609" width="18" height="18" fill="#00d9ff"/>
<rect x="636" y="609" width="19" height="18" fill="#00d3ff"/>
<rect x="655" y="609" width="18" height="18" fill="#00ccff"/>
<rect x="673" y="609" width="18" height="18" fill="#00c5ff"/>
<rect x="691" y="609" width="18" height="18" fill="#00bfff"/>
<rect x="709" y="609" width="18" height="18" fill="#00b5ff"/>
<rect x="727" y="609" width="18" height="18" fill="#00abff"/>
<rect x="745" y="609" width="19" height="18" fill="#00a1ff"/>
<rect x="764" y="609" width="18" height="18" fill="#0097ff"/>
<rect x="782" y="609" width="18" height="18" fill="#0091ff"/>
<rect x="0" y="627" width="18" height="18" fill="#00b5ff"/>
<rect x="18" y="627" width="19" height="18" fill="#00c2ff"/>
<rect x="37" y="627" width="18" height="18" fill="#00cfff"/>
<rect x="55" y="627" width="18" height="18" fill="#00dcff"/>
<rect x="73" y="627" width="18" height="18" fill="#00e6ff"/>
<rect x="91" y="627" width="18" height="18" fill="#00eaff"/>
<rect x="109" y="627" width="37" height="18" fill="#00edff"/>
<rect x="146" y="627" width="18" height="18" fill="#00e8ff"/>
<rect x="164" y="627" width="36" height="18" fill="#00ebff"/>
<rect x="200" y="627" width="18" height="18" fill="#00e6ff"/>
<rect x="218" y="627" width="18" height="18" fill="#00ebff"/>
<rect x="236" y="627" width="19" height="18" fill="#00e8ff"/>
<rect x="255" y="627" width="18" height="18" fill="#00e5ff"/>
<rect x="273" y="627" width="18" height="18" fill="#00e1ff"/>
<rect x="291" y="627" width="18" height="18" fill="#00deff"/>
<rect x="309" y="627" width="18" height="18" fill="#00d8ff"/>
<rect x="327" y="627" width="19" height="18" fill="#00d1ff"/>
<rect x="346" y="627" width="18" height="18" fill="#00caff"/>
<rect x="364" y="627" width="18" height="18" fill="#00c4ff"/>
<rect x="382" y="627" width="18" height="18" fill="#00bdff"/>
<rect x="400" y="627" width="18" height="18" fill="#00baff"/>
<rect x="418" y="627" width="18" height="18" fill="#00bfff"/>
<rect x="436" y="627" width="37" height="18" fill="#00b5ff"/>
<rect x="473" y="627" width="18" height="18" fill="#00bcff"/>
<rect x="491" y="627" width="18" height="18" fill="#00c5ff"/>
<rect x="509" y="627" width="18" height="18" fill="#00d9ff"/>
<rect x="527" y="627" width="18" height="18" fill="#00e3ff"/>
<rect x="545" y="627" width="19" height="18" fill="#00e6ff"/>
<rect x="564" y="627" width="18" height="18" fill="#00e3ff"/>
<rect x="582" y="627" width="18" height="18" fill="#00dcff"/>
<rect x="600" y="627" width="18" height="18" fill="#00d6ff"/>
<rect x="618" y="627" width="18" height="18" fill="#00ceff"/>
<rect x="636" y="627" width="19" height="18" fill="#00c4ff"/>
<rect x="655" y="627" width="18" height="18" fill="#00b8ff"/>
<rect x="673" y="627" width="18" height="18" fill="#00acff"/>
<rect x="691" y="627" width="18" height="18" fill="#00a1ff"/>
<rect x="709" y="627" width="18" height="18" fill="#0097ff"/>
<rect x="727" y="627" width="18" height="18" fill="#008dff"/>
<rect x="745" y="627" width="19" height="18" fill="#0084ff"/>
<rect x="764" y="627" width="18" height="18" fill="#007dff"/>
<rect x="782" y="627" width="18" height="18" fill="#007aff"/>
<rect x="0" y="645" width="18" height="19" fill="#00b2ff"/>
<rect x="18" y="645" width="19" height="19" fill="#00bfff"/>
<rect x="37" y="645" width="18" height="19" fill="#00c9ff"/>
<rect x="55" y="645" width="18" height="19" fill="#00d6ff"/>
<rect x="73" y="645" width="18" height="19" fill="#00e0ff"/>
<rect x="91" y="645" width="18" height="19" fill="#00e3ff"/>
<rect x="109" y="645" width="18" height="19" fill="#00e6ff"/>
<rect x="127" y="645" width="19" height="19" fill="#00eaff"/>
<rect x="146" y="645" width="36" height="19" fill="#00e5ff"/>
<rect x="182" y="645" width="36" height="19" fill="#00e8ff"/>
<rect x="218" y="645" width="18" height="19" fill="#00e5ff"/>
<rect x="236" y="645" width="19" height="19" fill="#00deff"/>
<rect x="255" y="645" width="18" height="19" fill="#00d8ff"/>
<rect x="273" y="645" width="18" height="19" fill="#00d1ff"/>
<rect x="291" y="645" width="18" height="19" fill="#00caff"/>
<rect x="309" y="645" width="18" height="19" fill="#00c4ff"/>
<rect x="327" y="645" width="19" height="19" fill="#00bdff"/>
<rect x="346" y="645" width="18" height="19" fill="#00b7ff"/>
<rect x="364" y="645" width="18" height="19" fill="#00b0ff"/>
<rect x="382" y="645" width="18" height="19" fill="#00adff"/>
<rect x="400" y="645" width="18" height="19" fill="#00a9ff"/>
<rect x="418" y="645" width="18" height="19" fill="#00aeff"/>
<rect x="436" y="645" width="19" height="19" fill="#00a5ff"/>
<rect x="455" y="645" width="18" height="19" fill="#00a1ff"/>
<rect x="473" y="645" width="18" height="19" fill="#00a5ff"/>
<rect x="491" y="645" width="18" height="19" fill="#00aeff"/>
<rect x="509" y="645" width="18" height="19" fill="#00c2ff"/>
<rect x="527" y="645" width="18" height="19" fill="#00ccff"/>
<rect x="545" y="645" width="37" height="19" fill="#00cfff"/>
<rect x="582" y="645" width="18" height="19" fill="#00ccff"/>
<rect x="600" y="645" width="18" height="19" fill="#00c5ff"/>
<rect x="618" y="645" width="18" height="19" fill="#00bdff"/>
<rect x="636" y="645" width="19" height="19" fill="#00b1ff"/>
<rect x="655" y="645" width="18" height="19" fill="#00a2ff"/>
<rect x="673" y="645" width="18" height="19" fill="#0095ff"/>
<rect x="691" y="645" width="18" height="19" fill="#008aff"/>
<rect x="709" y="645" width="18" height="19" fill="#0080ff"/>
<rect x="727" y="645" width="18" height="19" fill="#007aff"/>
<rect x="745" y="645" width="19" height="19" fill="#0073ff"/>
<rect x="764" y="645" width="18" height="19" fill="#0070ff"/>
<rect x="782" y="645" width="18" height="19" fill="#006dff"/>
<rect x="0" y="664" width="18" height="18" fill="#00a5ff"/>
<rect x="18" y="664" width="19" height="18" fill="#00b2ff"/>
<rect x="37" y="664" width="18" height="18" fill="#00bfff"/>
<rect x="55" y="664" width="18" height="18" fill="#00ccff"/>
<rect x="73" y="664" width="18" height="18" fill="#00d6ff"/>
<rect x="91" y="664" width="18" height="18" fill="#00d9ff"/>
<rect x="109" y="664" width="18" height="18" fill="#00dcff"/>
<rect x="127" y="664" width="19" height="18" fill="#00e0ff"/>
<rect x="146" y="664" width="36" height="18" fill="#00e3ff"/>
<rect x="182" y="664" width="36" height="18" fill="#00e6ff"/>
<rect x="218" y="664" width="18" height="18" fill="#00e0ff"/>
<rect x="236" y="664" width="19" height="18" fill="#00d9ff"/>
<rect x="255" y="664" width="18" height="18" fill="#00d3ff"/>
<rect x="273" y="664" width="18" height="18" fill="#00ccff"/>
<rect x="291" y="664" width="18" height="18" fill="#00c5ff"/>
<rect x="309" y="664" width="18" height="18" fill="#00bfff"/>
<rect x="327" y="664" width="19" height="18" fill="#00b5ff"/>
<rect x="346" y="664" width="18" height="18" fill="#00aeff"/>
<rect x="364" y="664" width="18" height="18" fill="#00a8ff"/>
<rect x="382" y="664" width="18" height="18" fill="#00a5ff"/>
<rect x="400" y="664" width="18" height="18" fill="#00a1ff"/>
<rect x="418" y="664" width="18" height="18" fill="#009eff"/>
<rect x="436" y="664" width="19" height="18" fill="#0091ff"/>
<rect x="455" y="664" width="18" height="18" fill="#008aff"/>
<rect x="473" y="664" width="18" height="18" fill="#008dff"/>
<rect x="491" y="664" width="18" height="18" fill="#0097ff"/>
<rect x="509" y="664" width="18" height="18" fill="#00a8ff"/>
<rect x="527" y="664" width="18" height="18" fill="#00b2ff"/>
<rect x="545" y="664" width="55" height="18" fill="#00b8ff"/>
<rect x="600" y="664" width="18" height="18" fill="#00b1ff"/>
<rect x="618" y="664" width="18" height="18" fill="#00a9ff"/>
<rect x="636" y="664" width="19" height="18" fill="#009dff"/>
<rect x="655" y="664" width="18" height="18" fill="#008eff"/>
<rect x="673" y="664" width="18" height="18" fill="#0081ff"/>
<rect x="691" y="664" width="18" height="18" fill="#0078ff"/>
<rect x="709" y="664" width="18" height="18" fill="#0070ff"/>
<rect x="727" y="664" width="18" height="18" fill="#0069ff"/>
<rect x="745" y="664" width="19" height="18" fill="#0066ff"/>
<rect x="764" y="664" width="36" height="18" fill="#0063ff"/>
<rect x="0" y="682" width="18" height="18" fill="#0097ff"/>
<rect x="18" y="682" width="19" height="18" fill="#00a5ff"/>
<rect x="37" y="682" width="18" height="18" fill="#00b2ff"/>
<rect x="55" y="682" width="18" height="18" fill="#00bfff"/>
<rect x="73" y="682" width="18" height="18" fill="#00c9ff"/>
<rect x="91" y="682" width="18" height="18" fill="#00cfff"/>
<rect x="109" y="682" width="37" height="18" fill="#00d3ff"/>
<rect x="146" y="682" width="36" height="18" fill="#00d6ff"/>
<rect x="182" y="682" width="36" height="18" fill="#00d9ff"/>
<rect x="218" y="682" width="18" height="18" fill="#00d6ff"/>
<rect x="236" y="682" width="19" height="18" fill="#00cfff"/>
<rect x="255" y="682" width="18" height="18" fill="#00c9ff"/>
<rect x="273" y="682" width="18" height="18" fill="#00c2ff"/>
<rect x="291" y="682" width="18" height="18" fill="#00bcff"/>
<rect x="309" y="682" width="18" height="18" fill="#00b2ff"/>
<rect x="327" y="682" width="19" height="18" fill="#00a8ff"/>
<rect x="346" y="682" width="18" height="18" fill="#00a1ff"/>
<rect x="364" y="682" width="18" height="18" fill="#009bff"/>
<rect x="382" y="682" width="18" height="18" fill="#0094ff"/>
<rect x="400" y="682" width="18" height="18" fill="#0091ff"/>
<rect x="418" y="682" width="18" height="18" fill="#008aff"/>
<rect x="436" y="682" width="19" height="18" fill="#007dff"/>
<rect x="455" y="682" width="36" height="18" fill="#0076ff"/>
<rect x="491" y="682" width="18" height="18" fill="#0080ff"/>
<rect x="509" y="682" width="18" height="18" fill="#0091ff"/>
<rect x="527" y="682" width="18" height="18" fill="#009bff"/>
<rect x="545" y="682" width="19" height="18" fill="#00a1ff"/>
<rect x="564" y="682" width="36" height="18" fill="#00a5ff"/>
<rect x="600" y="682" width="18" height="18" fill="#00a0ff"/>
<rect x="618" y="682" width="18" height="18" fill="#0098ff"/>
<rect x="636" y="682" width="19" height="18" fill="#008cff"/>
<rect x="655" y="682" width="18" height="18" fill="#007eff"/>
<rect x="673" y="682" width="18" height="18" fill="#0072ff"/>
<rect x="691" y="682" width="18" height="18" fill="#0069ff"/>
<rect x="709" y="682" width="18" height="18" fill="#0063ff"/>
<rect x="727" y="682" width="18" height="18" fill="#005fff"/>
<rect x="745" y="682" width="37" height="18" fill="#005cff"/>
<rect x="782" y="682" width="18" height="18" fill="#005fff"/>
<rect x="0" y="700" width="18" height="18" fill="#0091ff"/>
<rect x="18" y="700" width="19" height="18" fill="#009bff"/>
<rect x="37" y="700" width="18" height="18" fill="#00a8ff"/>
<rect x="55" y="700" width="18" height="18" fill="#00b5ff"/>
<rect x="73" y="700" width="18" height="18" fill="#00bfff"/>
<rect x="91" y="700" width="18" height="18" fill="#00c5ff"/>
<rect x="109" y="700" width="37" height="18" fill="#00c9ff"/>
<rect x="146" y="700" width="36" height="18" fill="#00ccff"/>
<rect x="182" y="700" width="36" height="18" fill="#00cfff"/>
<rect x="218" y="700" width="18" height="18" fill="#00ccff"/>
<rect x="236" y="700" width="19" height="18" fill="#00c5ff"/>
<rect x="255" y="700" width="18" height="18" fill="#00bfff"/>
<rect x="273" y="700" width="18" height="18" fill="#00b8ff"/>
<rect x="291" y="700" width="18" height="18" fill="#00b2ff"/>
<rect x="309" y="700" width="18" height="18" fill="#00a8ff"/>
<rect x="327" y="700" width="19" height="18" fill="#009eff"/>
<rect x="346" y="700" width="18" height="18" fill="#0097ff"/>
<rect x="364" y="700" width="18" height="18" fill="#0091ff"/>
<rect x="382" y="700" width="18" height="18" fill="#008aff"/>
<rect x="400" y="700" width="18" height="18" fill="#0084ff"/>
<rect x="418" y="700" width="18" height="18" fill="#007aff"/>
<rect x="436" y="700" width="19" height="18" fill="#0069ff"/>
<rect x="455" y="700" width="36" height="18" fill="#0063ff"/>
<rect x="491" y="700" width="18" height="18" fill="#006dff"/>
<rect x="509" y="700" width="18" height="18" fill="#007dff"/>
<rect x="527" y="700" width="18" height="18" fill="#0087ff"/>
<rect x="545" y="700" width="19" height="18" fill="#008dff"/>
<rect x="564" y="700" width="18" height="18" fill="#0091ff"/>
<rect x="582" y="700" width="18" height="18" fill="#0094ff"/>
<rect x="600" y="700" width="18" height="18" fill="#008fff"/>
<rect x="618" y="700" width="18" height="18" fill="#0088ff"/>
<rect x="636" y="700" width="19" height="18" fill="#007dff"/>
<rect x="655" y="700" width="18" height="18" fill="#0071ff"/>
<rect x="673" y="700" width="18" height="18" fill="#0068ff"/>
<rect x="691" y="700" width="18" height="18" fill="#0063ff"/>
<rect x="709" y="700" width="18" height="18" fill="#005fff"/>
<rect x="727" y="700" width="55" height="18" fill="#005cff"/>
<rect x="782" y="700" width="18" height="18" fill="#005fff"/>
<rect x="0" y="718" width="18" height="18" fill="#008aff"/>
<rect x="18" y="718" width="19" height="18" fill="#0094ff"/>
<rect x="37" y="718" width="18" height="18" fill="#00a1ff"/>
<rect x="55" y="718" width="18" height="18" fill="#00aeff"/>
<rect x="73" y="718" width="18" height="18" fill="#00b8ff"/>
<rect x="91" y="718" width="18" height="18" fill="#00bcff"/>
<rect x="109" y="718" width="37" height="18" fill="#00bfff"/>
<rect x="146" y="718" width="36" height="18" fill="#00c2ff"/>
<rect x="182" y="718" width="36" height="18" fill="#00c5ff"/>
<rect x="218" y="718" width="18" height="18" fill="#00c2ff"/>
<rect x="236" y="718" width="19" height="18" fill="#00bfff"/>
<rect x="255" y="718" width="18" height="18" fill="#00b8ff"/>
<rect x="273" y="718" width="18" height="18" fill="#00b2ff"/>
<rect x="291" y="718" width="18" height="18" fill="#00abff"/>
<rect x="309" y="718" width="18" height="18" fill="#00a1ff"/>
<rect x="327" y="718" width="19" height="18" fill="#0097ff"/>
<rect x="346" y="718" width="18" height="18" fill="#0091ff"/>
<rect x="364" y="718" width="18" height="18" fill="#008dff"/>
<rect x="382" y="718" width="18" height="18" fill="#0084ff"/>
<rect x="400" y="718" width="18" height="18" fill="#007aff"/>
<rect x="418" y="718" width="18" height="18" fill="#0070ff"/>
<rect x="436" y="718" width="19" height="18" fill="#005fff"/>
<rect x="455" y="718" width="18" height="18" fill="#0059ff"/>
<rect x="473" y="718" width="18" height="18" fill="#005cff"/>
<rect x="491" y="718" width="18" height="18" fill="#0066ff"/>
<rect x="509" y="718" width="18" height="18" fill="#0076ff"/>
<rect x="527" y="718" width="18" height="18" fill="#007dff"/>
<rect x="545" y="718" width="19" height="18" fill="#0084ff"/>
<rect x="564" y="718" width="18" height="18" fill="#0087ff"/>
<rect x="582" y="718" width="18" height="18" fill="#008aff"/>
<rect x="600" y="718" width="18" height="18" fill="#0085ff"/>
<rect x="618" y="718" width="18" height="18" fill="#007fff"/>
<rect x="636" y="718" width="19" height="18" fill="#0076ff"/>
<rect x="655" y="718" width="18" height="18" fill="#006dff"/>
<rect x="673" y="718" width="18" height="18" fill="#0067ff"/>
<rect x="691" y="718" width="18" height="18" fill="#0063ff"/>
<rect x="709" y="718" width="73" height="18" fill="#005fff"/>
<rect x="782" y="718" width="18" height="18" fill="#0063ff"/>
<rect x="0" y="736" width="18" height="18" fill="#0087ff"/>
<rect x="18" y="736" width="19" height="18" fill="#0091ff"/>
<rect x="37" y="736" width="18" height="18" fill="#009bff"/>
<rect x="55" y="736" width="18" height="18" fill="#00a8ff"/>
<rect x="73" y="736" width="18" height="18" fill="#00aeff"/>
<rect x="91" y="736" width="18" height="18" fill="#00b2ff"/>
<rect x="109" y="736" width="37" height="18" fill="#00b5ff"/>
<rect x="146" y="736" width="36" height="18" fill="#00b8ff"/>
<rect x="182" y="736" width="54" height="18" fill="#00bcff"/>
<rect x="236" y="736" width="19" height="18" fill="#00b8ff"/>
<rect x="255" y="736" width="18" height="18" fill="#00b2ff"/>
<rect x="273" y="736" width="18" height="18" fill="#00abff"/>
<rect x="291" y="736" width="18" height="18" fill="#00a5ff"/>
<rect x="309" y="736" width="18" height="18" fill="#009bff"/>
<rect x="327" y="736" width="19" height="18" fill="#0094ff"/>
<rect x="346" y="736" width="18" height="18" fill="#0091ff"/>
<rect x="364" y="736" width="18" height="18" fill="#008dff"/>
<rect x="382" y="736" width="18" height="18" fill="#0084ff"/>
<rect x="400" y="736" width="18" height="18" fill="#007aff"/>
<rect x="418" y="736" width="18" height="18" fill="#006dff"/>
<rect x="436" y="736" width="19" height="18" fill="#005fff"/>
<rect x="455" y="736" width="36" height="18" fill="#005cff"/>
<rect x="491" y="736" width="18" height="18" fill="#0063ff"/>
<rect x="509" y="736" width="18" height="18" fill="#0073ff"/>
<rect x="527" y="736" width="18" height="18" fill="#007aff"/>
<rect x="545" y="736" width="19" height="18" fill="#0080ff"/>
<rect x="564" y="736" width="18" height="18" fill="#0084ff"/>
<rect x="582" y="736" width="18" height="18" fill="#0087ff"/>
<rect x="600" y="736" width="18" height="18" fill="#0082ff"/>
<rect x="618" y="736" width="18" height="18" fill="#007dff"/>
<rect x="636" y="736" width="19" height="18" fill="#0076ff"/>
<rect x="655" y="736" width="18" height="18" fill="#006fff"/>
<rect x="673" y="736" width="18" height="18" fill="#006aff"/>
<rect x="691" y="736" width="18" height="18" fill="#0066ff"/>
<rect x="709" y="736" width="73" height="18" fill="#0063ff"/>
<rect x="782" y="736" width="18" height="18" fill="#0066ff"/>
<rect x="0" y="754" width="18" height="19" fill="#0084ff"/>
<rect x="18" y="754" width="19" height="19" fill="#008dff"/>
<rect x="37" y="754" width="18" height="19" fill="#0097ff"/>
<rect x="55" y="754" width="18" height="19" fill="#00a1ff"/>
<rect x="73" y="754" width="18" height="19" fill="#00a8ff"/>
<rect x="91" y="754" width="18" height="19" fill="#00abff"/>
<rect x="109" y="754" width="37" height="19" fill="#00aeff"/>
<rect x="146" y="754" width="36" height="19" fill="#00b2ff"/>
<rect x="182" y="754" width="54" height="19" fill="#00b5ff"/>
<rect x="236" y="754" width="19" height="19" fill="#00b2ff"/>
<rect x="255" y="754" width="18" height="19" fill="#00aeff"/>
<rect x="273" y="754" width="18" height="19" fill="#00a8ff"/>
<rect x="291" y="754" width="18" height="19" fill="#00a1ff"/>
<rect x="309" y="754" width="18" height="19" fill="#0097ff"/>
<rect x="327" y="754" width="55" height="19" fill="#0091ff"/>
<rect x="382" y="754" width="18" height="19" fill="#0087ff"/>
<rect x="400" y="754" width="18" height="19" fill="#007aff"/>
<rect x="418" y="754" width="18" height="19" fill="#0070ff"/>
<rect x="436" y="754" width="19" height="19" fill="#0063ff"/>
<rect x="455" y="754" width="18" height="19" fill="#005fff"/>
<rect x="473" y="754" width="18" height="19" fill="#0063ff"/>
<rect x="491" y="754" width="18" height="19" fill="#0066ff"/>
<rect x="509" y="754" width="18" height="19" fill="#0073ff"/>
<rect x="527" y="754" width="18" height="19" fill="#007aff"/>
<rect x="545" y="754" width="19" height="19" fill="#0080ff"/>
<rect x="564" y="754" width="36" height="19" fill="#0084ff"/>
<rect x="600" y="754" width="18" height="19" fill="#0081ff"/>
<rect x="618" y="754" width="18" height="19" fill="#007dff"/>
<rect x="636" y="754" width="19" height="19" fill="#0077ff"/>
<rect x="655" y="754" width="18" height="19" fill="#0071ff"/>
<rect x="673" y="754" width="18" height="19" fill="#006dff"/>
<rect x="691" y="754" width="18" height="19" fill="#0069ff"/>
<rect x="709" y="754" width="73" height="19" fill="#0066ff"/>
<rect x="782" y="754" width="18" height="19" fill="#0069ff"/>
</g>
<clipPath id="pc"><rect x="0" y="27" width="800" height="746"/></clipPath>
<text class="g" clip-path="url(#pc)" x="771" y="32" textLength="21" lengthAdjust="spacingAndGlyphs">31S</text>
<text class="g" clip-path="url(#pc)" x="771" y="105" textLength="21" lengthAdjust="spacingAndGlyphs">32S</text>
<text class="g" clip-path="url(#pc)" x="771" y="177" textLength="21" lengthAdjust="spacingAndGlyphs">33S</text>
<text class="g" clip-path="url(#pc)" x="771" y="250" textLength="21" lengthAdjust="spacingAndGlyphs">34S</text>
<text class="g" clip-path="url(#pc)" x="771" y="323" textLength="21" lengthAdjust="spacingAndGlyphs">35S</text>
<text class="g" clip-path="url(#pc)" x="771" y="396" textLength="21" lengthAdjust="spacingAndGlyphs">36S</text>
<text class="g" clip-path="url(#pc)" x="771" y="468" textLength="21" lengthAdjust="spacingAndGlyphs">37S</text>
<text class="g" clip-path="url(#pc)" x="771" y="541" textLength="21" lengthAdjust="spacingAndGlyphs">38S</text>
<text class="g" clip-path="url(#pc)" x="771" y="614" textLength="21" lengthAdjust="spacingAndGlyphs">39S</text>
<text class="g" clip-path="url(#pc)" x="771" y="686" textLength="21" lengthAdjust="spacingAndGlyphs">40S</text>
<text class="g" clip-path="url(#pc)" x="771" y="759" textLength="21" lengthAdjust="spacingAndGlyphs">41S</text>
<text class="g" transform="translate(13,744) rotate(90)" textLength="21" lengthAdjust="spacingAndGlyphs">61W</text>
<text class="g" transform="translate(85,744) rotate(90)" textLength="21" lengthAdjust="spacingAndGlyphs">60W</text>
<text class="g" transform="translate(158,744) rotate(90)" textLength="21" lengthAdjust="spacingAndGlyphs">59W</text>
<text class="g" transform="translate(231,744) rotate(90)" textLength="21" lengthAdjust="spacingAndGlyphs">58W</text>
<text class="g" transform="translate(303,744) rotate(90)" textLength="21" lengthAdjust="spacingAndGlyphs">57W</text>
<text class="g" transform="translate(376,744) rotate(90)" textLength="21" lengthAdjust="spacingAndGlyphs">56W</text>
<text class="g" transform="translate(449,744) rotate(90)" textLength="21" lengthAdjust="spacingAndGlyphs">55W</text>
<text class="g" transform="translate(522,744) rotate(90)" textLength="21" lengthAdjust="spacingAndGlyphs">54W</text>
<text class="g" transform="translate(594,744) rotate(90)" textLength="21" lengthAdjust="spacingAndGlyphs">53W</text>
<text class="g" transform="translate(667,744) rotate(90)" textLength="21" lengthAdjust="spacingAndGlyphs">52W</text>
<text class="g" transform="translate(740,744) rotate(90)" textLength="21" lengthAdjust="spacingAndGlyphs">51W</text>
<path clip-path="url(#pc)" d="M718.1 36.5L719.1 45.0M717.1 41.9L719.1 45.0L720.4 41.6M772.6 36.5L773.7 44.5M771.8 41.7L773.7 44.5L774.9 41.2M790.8 36.5L792.1 45.7M789.8 42.4L792.1 45.7L793.4 41.9M699.9 54.7L700.8 63.2M698.8 60.1L700.8 63.2L702.1 59.8M718.1 54.7L719.1 63.7M717.0 60.4L719.1 63.7L720.5 60.1M754.5 54.7L755.6 63.7M753.4 60.5L755.6 63.7L756.9 60.0M772.6 54.7L773.9 64.2M771.6 60.8L773.9 64.2L775.3 60.3M790.8 54.7L792.2 64.6M789.7 61.1L792.2 64.6L793.6 60.6M681.8 72.8L682.6 84.6M680.0 80.2L682.6 84.6L684.6 79.9M699.9 72.8L701.0 84.5M698.3 80.3L701.0 84.5L702.9 79.9M718.1 72.8L719.3 84.3M716.6 80.1L719.3 84.3L721.1 79.7M736.3 72.8L737.5 83.8M734.9 79.8L737.5 83.8L739.2 79.4M754.5 72.8L755.8 83.8M753.1 79.9L755.8 83.8L757.4 79.3M772.6 72.8L774.1 84.3M771.3 80.2L774.1 84.3L775.8 79.6M790.8 72.8L792.4 84.5M789.5 80.3L792.4 84.5L794.0 79.7M663.6 91.0L664.0 99.6M662.2 96.4L664.0 99.6L665.5 96.2M681.8 91.0L682.7 104.8M679.6 99.7L682.7 104.8L685.0 99.4M699.9 91.0L701.0 103.9M698.1 99.2L701.0 103.9L703.1 98.8M718.1 91.0L719.3 103.4M716.4 98.9L719.3 103.4L721.3 98.4M736.3 91.0L737.6 103.2M734.8 98.8L737.6 103.2L739.5 98.3M754.5 91.0L755.9 103.2M753.0 98.8L755.9 103.2L757.7 98.2M772.6 91.0L774.1 103.4M771.2 98.9L774.1 103.4L776.0 98.4M790.8 91.0L792.4 103.6M789.4 99.1L792.4 103.6L794.3 98.5M681.8 109.2L682.5 122.6M679.6 117.6L682.5 122.6L684.8 117.3M699.9 109.2L700.9 122.6M697.9 117.6L700.9 122.6L703.1 117.3M718.1 109.2L719.3 122.3M716.3 117.5L719.3 122.3L721.4 117.1M736.3 109.2L737.7 122.0M734.6 117.4L737.7 122.0L739.6 116.9M754.5 109.2L755.9 122.3M752.8 117.5L755.9 122.3L757.9 117.0M772.6 109.2L774.2 122.5M771.0 117.7L774.2 122.5L776.2 117.1M790.8 109.2L792.5 122.7M789.2 117.9L792.5 122.7L794.5 117.2M663.6 127.4L663.8 136.9M661.9 133.3L663.8 136.9L665.6 133.2M681.8 127.4L682.2 139.8M679.6 135.1L682.2 139.8L684.5 135.0M699.9 127.4L700.6 140.5M697.8 135.6L700.6 140.5L702.9 135.3M718.1 127.4L719.0 140.3M716.1 135.5L719.0 140.3L721.2 135.2M736.3 127.4L737.3 140.0M734.4 135.4L737.3 140.0L739.4 135.0M754.5 127.4L755.5 140.2M752.6 135.5L755.5 140.2L757.6 135.1M772.6 127.4L773.8 140.5M770.8 135.7L773.8 140.5L775.9 135.2M790.8 127.4L792.1 140.7M789.0 135.8L792.1 140.7L794.2 135.4M645.4 145.6L645.5 152.9M644.0 150.1L645.5 152.9L646.9 150.1M663.6 145.6L663.7 155.6M661.7 151.8L663.7 155.6L665.7 151.7M681.8 145.6L682.1 157.5M679.6 153.0L682.1 157.5L684.3 152.9M699.9 145.6L700.3 158.0M697.8 153.3L700.3 158.0L702.6 153.1M718.1 145.6L718.6 157.8M716.0 153.2L718.6 157.8L720.8 153.0M736.3 145.6L736.9 157.5M734.3 153.0L736.9 157.5L739.0 152.8M754.5 145.6L755.1 157.5M752.5 153.1L755.1 157.5L757.2 152.8M772.6 145.6L773.4 157.7M770.7 153.2L773.4 157.7L775.5 152.9M790.8 145.6L791.6 158.0M788.9 153.4L791.6 158.0L793.7 153.1M645.4 163.7L645.4 172.1M643.8 168.9L645.4 172.1L647.1 168.9M663.6 163.7L663.6 173.8M661.7 169.9L663.6 173.8L665.6 169.9M681.8 163.7L681.9 174.7M679.7 170.5L681.9 174.7L684.0 170.5M699.9 163.7L700.1 175.2M697.8 170.8L700.1 175.2L702.3 170.8M718.1 163.7L718.3 175.2M716.0 170.9L718.3 175.2L720.5 170.8M736.3 163.7L736.5 175.0M734.3 170.7L736.5 175.0L738.6 170.6M754.5 163.7L754.8 174.7M752.5 170.6L754.8 174.7L756.8 170.5M772.6 163.7L773.0 174.7M770.7 170.6L773.0 174.7L775.0 170.5M790.8 163.7L791.2 174.7M788.9 170.6L791.2 174.7L793.2 170.4M627.2 181.9L626.7 190.5M625.2 187.1L626.7 190.5L628.6 187.3M645.4 181.9L644.9 191.0M643.4 187.4L644.9 191.0L646.9 187.6M663.6 181.9L663.3 191.5M661.5 187.7L663.3 191.5L665.3 187.9M681.8 181.9L681.5 192.0M679.7 188.1L681.5 192.0L683.6 188.1M699.9 181.9L699.8 192.2M697.9 188.2L699.8 192.2L701.9 188.3M718.1 181.9L718.1 192.0M716.2 188.1L718.1 192.0L720.1 188.1M736.3 181.9L736.3 191.7M734.4 188.0L736.3 191.7L738.2 188.0M754.5 181.9L754.5 191.5M752.6 187.8L754.5 191.5L756.3 187.8M772.6 181.9L772.6 191.2M770.8 187.7L772.6 191.2L774.5 187.7M790.8 181.9L790.8 191.2M789.0 187.7L790.8 191.2L792.6 187.7M609.1 200.1L608.0 208.1M606.8 204.8L608.0 208.1L609.9 205.2M627.2 200.1L626.1 208.6M624.9 205.1L626.1 208.6L628.2 205.6M645.4 200.1L644.2 208.6M643.0 205.1L644.2 208.6L646.3 205.6M663.6 200.1L662.9 208.4M661.5 205.1L662.9 208.4L664.8 205.3M681.8 200.1L681.5 208.2M680.0 205.0L681.5 208.2L683.2 205.1M699.9 200.1L699.9 207.9M698.4 204.9L699.9 207.9L701.5 204.9M718.1 200.1L718.4 207.6M716.8 204.8L718.4 207.6L719.8 204.7M736.3 200.1L736.7 207.1M735.2 204.5L736.7 207.1L737.9 204.3M754.5 200.1L755.1 206.9M753.5 204.4L755.1 206.9L756.2 204.1M772.6 200.1L773.4 206.6M771.8 204.2L773.4 206.6L774.4 203.9M790.8 200.1L791.8 207.1M790.1 204.6L791.8 207.1L792.8 204.2M590.9 218.2L587.8 223.7M587.9 221.0L587.8 223.7L590.0 222.2M609.1 218.2L605.2 225.4M605.3 221.9L605.2 225.4L608.1 223.4M627.2 218.2L623.5 225.7M623.5 222.1L623.5 225.7L626.4 223.6M645.4 218.2L642.1 225.3M642.0 222.0L642.1 225.3L644.8 223.3M663.6 218.2L660.1 224.4M660.2 221.3L660.1 224.4L662.6 222.7M681.8 218.2L678.3 223.2M678.7 220.6L678.3 223.2L680.6 222.0M699.9 218.2L696.8 222.1M697.2 220.0L696.8 222.1L698.7 221.2M718.1 218.2L715.2 221.2M715.7 219.5L715.2 221.2L716.9 220.6M736.3 218.2L733.8 220.8M734.2 219.3L733.8 220.8L735.2 220.3M754.5 218.2L752.1 220.6M752.6 219.2L752.1 220.6L753.5 220.1M772.6 218.2L770.3 220.6M770.8 219.2L770.3 220.6L771.7 220.1M790.8 218.2L788.1 221.0M788.6 219.4L788.1 221.0L789.7 220.5M572.7 236.4L569.8 239.4M570.3 237.7L569.8 239.4L571.5 238.8M590.9 236.4L586.1 241.2M587.0 238.5L586.1 241.2L588.9 240.3M609.1 236.4L603.5 242.0M604.6 238.8L603.5 242.0L606.7 240.9M627.2 236.4L621.9 241.8M622.9 238.7L621.9 241.8L625.0 240.8M645.4 236.4L640.6 241.2M641.5 238.5L640.6 241.2L643.4 240.3M663.6 236.4L659.3 240.7M660.1 238.2L659.3 240.7L661.8 239.9M681.8 236.4L678.3 239.9M678.9 237.9L678.3 239.9L680.3 239.3M699.9 236.4L696.8 239.6M697.4 237.7L696.8 239.6L698.6 239.0M718.1 236.4L715.4 239.2M715.9 237.6L715.4 239.2L717.0 238.6M736.3 236.4L734.0 238.8M734.4 237.4L734.0 238.8L735.3 238.3M754.5 236.4L752.6 238.3M752.9 237.2L752.6 238.3L753.7 238.0M772.6 236.4L770.7 238.3M771.1 237.2L770.7 238.3L771.8 238.0M790.8 236.4L788.5 238.8M788.9 237.4L788.5 238.8L789.8 238.3M554.5 254.6L549.8 257.4M551.1 255.4L549.8 257.4L552.1 257.2M572.7 254.6L566.6 258.1M568.3 255.6L566.6 258.1L569.6 258.0M590.9 254.6L584.3 258.4M586.1 255.7L584.3 258.4L587.6 258.2M609.1 254.6L602.7 258.7M604.3 255.9L602.7 258.7L605.9 258.4M627.2 254.6L621.3 258.8M622.7 256.0L621.3 258.8L624.4 258.4M645.4 254.6L640.2 258.5M641.4 256.0L640.2 258.5L642.9 258.0M663.6 254.6L659.1 258.2M660.1 255.9L659.1 258.2L661.5 257.7M681.8 254.6L678.2 257.6M679.0 255.8L678.2 257.6L680.1 257.2M699.9 254.6L696.6 257.4M697.3 255.7L696.6 257.4L698.4 257.0M718.1 254.6L714.9 257.3M715.6 255.6L714.9 257.3L716.7 256.9M736.3 254.6L733.3 257.1M734.0 255.6L733.3 257.1L735.0 256.7M754.5 254.6L751.7 256.8M752.3 255.4L751.7 256.8L753.2 256.5M772.6 254.6L770.0 256.6M770.6 255.3L770.0 256.6L771.4 256.3M790.8 254.6L788.1 256.5M788.8 255.2L788.1 256.5L789.5 256.3M209.2 272.8L197.8 260.1M204.7 262.7L197.8 260.1L199.7 267.2M554.5 272.8L542.5 276.0M546.5 272.4L542.5 276.0L547.8 277.1M572.7 272.8L561.2 275.9M565.0 272.4L561.2 275.9L566.2 276.9M590.9 272.8L579.8 275.8M583.5 272.4L579.8 275.8L584.6 276.8M609.1 272.8L599.4 275.4M602.6 272.5L599.4 275.4L603.6 276.3M627.2 272.8L618.8 275.4M621.5 272.8L618.8 275.4L622.6 276.1M645.4 272.8L638.3 275.4M640.5 273.0L638.3 275.4L641.5 275.8M663.6 272.8L657.7 274.9M659.5 272.9L657.7 274.9L660.4 275.3M681.8 272.8L677.1 274.5M678.6 272.9L677.1 274.5L679.2 274.7M699.9 272.8L695.8 274.3M697.1 272.9L695.8 274.3L697.7 274.5M718.1 272.8L714.2 274.2M715.4 272.9L714.2 274.2L716.0 274.4M736.3 272.8L732.2 274.4M733.4 273.0L732.2 274.4L734.1 274.6M754.5 272.8L750.1 274.6M751.4 273.0L750.1 274.6L752.1 274.7M772.6 272.8L768.4 274.7M769.6 273.1L768.4 274.7L770.4 274.8M790.8 272.8L786.3 274.9M787.6 273.2L786.3 274.9L788.5 274.9M209.2 291.0L194.7 276.4M203.1 279.2L194.7 276.4L197.4 284.8M227.4 291.0L214.7 278.3M222.1 280.7L214.7 278.3L217.1 285.6M245.6 291.0L233.9 282.7M239.9 283.6L233.9 282.7L236.7 288.2M263.8 291.0L253.6 285.1M258.6 285.3L253.6 285.1L256.3 289.3M281.9 291.0L271.9 286.3M276.7 286.1L271.9 286.3L274.9 290.0M536.4 291.0L522.3 291.0M527.7 288.2L522.3 291.0L527.7 293.7M554.5 291.0L541.2 291.0M546.3 288.3L541.2 291.0L546.3 293.6M572.7 291.0L559.6 291.0M564.6 288.4L559.6 291.0L564.6 293.5M590.9 291.0L578.2 291.0M583.1 288.5L578.2 291.0L583.1 293.4M609.1 291.0L597.3 291.0M601.8 288.7L597.3 291.0L601.8 293.2M627.2 291.0L616.5 291.0M620.6 288.8L616.5 291.0L620.6 293.1M645.4 291.0L635.9 291.0M639.5 289.1L635.9 291.0L639.5 292.8M663.6 291.0L655.3 291.0M658.5 289.3L655.3 291.0L658.5 292.6M681.8 291.0L675.0 290.8M677.6 289.5L675.0 290.8L677.6 292.2M699.9 291.0L693.9 290.7M696.3 289.6L693.9 290.7L696.2 292.0M718.1 291.0L712.1 290.8M714.4 289.7L712.1 290.8L714.4 292.0M736.3 291.0L729.7 290.8M732.3 289.6L729.7 290.8L732.2 292.1M754.5 291.0L747.4 290.9M750.1 289.5L747.4 290.9L750.1 292.3M772.6 291.0L765.1 290.9M768.0 289.4L765.1 290.9L768.0 292.4M790.8 291.0L782.7 291.0M785.8 289.4L782.7 291.0L785.8 292.5M227.4 309.1L214.4 296.1M221.9 298.6L214.4 296.1L216.8 303.6M245.6 309.1L230.4 295.5M238.9 297.8L230.4 295.5L233.6 303.7M263.8 309.1L249.6 297.2M257.3 299.0L249.6 297.2L252.7 304.6M281.9 309.1L268.9 300.0M275.7 301.0L268.9 300.0L272.1 306.0M300.1 309.1L287.5 301.9M293.8 302.2L287.5 301.9L290.9 307.1M318.3 309.1L306.7 304.5M312.1 304.0L306.7 304.5L310.2 308.5M500.0 309.1L485.3 309.1M490.9 306.2L485.3 309.1L490.9 312.0M518.2 309.1L503.4 309.1M509.1 306.2L503.4 309.1L509.1 312.0M536.4 309.1L521.8 309.1M527.4 306.3L521.8 309.1L527.4 312.0M554.5 309.1L540.2 309.1M545.7 306.3L540.2 309.1L545.7 311.9M572.7 309.1L558.6 309.1M564.0 306.4L558.6 309.1L564.0 311.9M590.9 309.1L577.1 309.1M582.4 306.4L577.1 309.1L582.4 311.8M609.1 309.1L595.7 309.1M600.8 306.5L595.7 309.1L600.8 311.7M627.2 309.1L614.3 309.1M619.3 306.6L614.3 309.1L619.3 311.6M645.4 309.1L633.2 308.6M638.0 306.4L633.2 308.6L637.8 311.2M663.6 309.1L652.6 308.2M657.0 306.4L652.6 308.2L656.6 310.7M681.8 309.1L672.4 307.5M676.3 306.3L672.4 307.5L675.6 309.9M699.9 309.1L691.2 306.8M695.0 306.0L691.2 306.8L694.1 309.4M718.1 309.1L709.3 306.1M713.3 305.5L709.3 306.1L712.1 309.0M736.3 309.1L727.3 305.3M731.5 305.0L727.3 305.3L730.0 308.5M754.5 309.1L744.9 304.8M749.4 304.6L744.9 304.8L747.7 308.3M772.6 309.1L762.3 304.1M767.2 304.0L762.3 304.1L765.3 308.1M790.8 309.1L779.9 303.6M785.2 303.6L779.9 303.6L783.0 307.8M263.8 327.3L248.1 318.3M255.9 318.7L248.1 318.3L252.3 324.8M281.9 327.3L265.2 319.5M273.1 319.2L265.2 319.5L270.1 325.8M300.1 327.3L282.5 320.9M290.5 319.9L282.5 320.9L288.0 326.8M318.3 327.3L299.8 322.3M307.8 320.6L299.8 322.3L305.9 327.9M336.5 327.3L316.7 323.8M325.0 321.3L316.7 323.8L323.6 329.0M354.6 327.3L334.3 324.4M342.6 321.6L334.3 324.4L341.5 329.5M372.8 327.3L351.8 325.5M360.2 322.1L351.8 325.5L359.5 330.3M391.0 327.3L369.6 325.8M378.1 322.2L369.6 325.8L377.5 330.5M409.2 327.3L388.1 326.2M396.4 322.5L388.1 326.2L396.0 330.7M427.3 327.3L408.2 326.4M415.7 323.0L408.2 326.4L415.3 330.5M445.5 327.3L427.6 326.5M434.6 323.3L427.6 326.5L434.3 330.3M463.7 327.3L445.8 326.6M452.7 323.4L445.8 326.6L452.5 330.4M481.9 327.3L464.1 326.7M471.0 323.5L464.1 326.7L470.8 330.4M500.0 327.3L482.5 326.8M489.3 323.6L482.5 326.8L489.2 330.4M518.2 327.3L501.2 326.9M507.8 323.8L501.2 326.9L507.6 330.4M536.4 327.3L519.8 327.0M526.2 323.9L519.8 327.0L526.1 330.4M554.5 327.3L538.4 327.1M544.6 324.0L538.4 327.1L544.6 330.3M572.7 327.3L557.0 327.2M563.1 324.2L557.0 327.2L563.0 330.3M590.9 327.3L575.7 327.3M581.5 324.3L575.7 327.3L581.5 330.3M609.1 327.3L593.9 326.9M599.8 324.1L593.9 326.9L599.6 330.0M627.2 327.3L612.0 326.4M618.0 323.8L612.0 326.4L617.7 329.7M645.4 327.3L630.5 326.0M636.5 323.6L630.5 326.0L636.0 329.4M663.6 327.3L649.0 325.2M655.0 323.1L649.0 325.2L654.2 328.8M681.8 327.3L667.8 324.4M673.7 322.8L667.8 324.4L672.6 328.3M699.9 327.3L686.3 323.7M692.3 322.4L686.3 323.7L690.8 327.7M718.1 327.3L704.6 322.6M710.7 321.8L704.6 322.6L708.9 327.1M736.3 327.3L722.7 321.5M729.0 321.1L722.7 321.5L726.8 326.4M754.5 327.3L740.2 320.8M746.9 320.5L740.2 320.8L744.4 326.1M772.6 327.3L757.7 320.1M764.8 319.9L757.7 320.1L762.0 325.8M790.8 327.3L775.2 319.4M782.8 319.4L775.2 319.4L779.7 325.4M300.1 345.5L282.3 340.7M290.1 339.1L282.3 340.7L288.2 346.0M318.3 345.5L298.6 342.0M306.8 339.5L298.6 342.0L305.4 347.2M336.5 345.5L314.8 343.6M323.5 340.1L314.8 343.6L322.7 348.5M354.6 345.5L331.6 344.7M340.6 340.5L331.6 344.7L340.2 349.5M372.8 345.5L348.9 345.5M358.1 340.8L348.9 345.5L358.1 350.1M391.0 345.5L367.1 345.4M376.2 340.8L367.1 345.4L376.2 350.1M409.2 345.5L386.4 345.4M395.1 341.0L386.4 345.4L395.1 349.9M427.3 345.5L406.6 345.3M414.6 341.3L406.6 345.3L414.5 349.4M445.5 345.5L426.3 345.3M433.7 341.6L426.3 345.3L433.7 349.1M463.7 345.5L445.0 345.3M452.2 341.7L445.0 345.3L452.1 349.0M481.9 345.5L463.4 345.2M470.5 341.7L463.4 345.2L470.4 348.9M500.0 345.5L482.0 345.2M488.9 341.8L482.0 345.2L488.8 348.8M518.2 345.5L499.8 345.2M506.9 341.7L499.8 345.2L506.8 348.9M536.4 345.5L518.4 345.1M525.4 341.8L518.4 345.1L525.2 348.8M554.5 345.5L537.1 345.1M543.8 341.8L537.1 345.1L543.7 348.7M572.7 345.5L555.7 345.1M562.3 341.9L555.7 345.1L562.1 348.5M590.9 345.5L574.1 345.0M580.6 341.9L574.1 345.0L580.4 348.5M609.1 345.5L592.7 345.0M599.1 342.0L592.7 345.0L598.9 348.4M627.2 345.5L610.4 345.0M617.0 341.9L610.4 345.0L616.8 348.4M645.4 345.5L627.9 344.9M634.8 341.7L627.9 344.9L634.5 348.5M663.6 345.5L645.2 344.8M652.4 341.5L645.2 344.8L652.1 348.7M681.8 345.5L663.6 344.0M670.8 341.0L663.6 344.0L670.3 348.1M699.9 345.5L681.6 343.2M689.1 340.5L681.6 343.2L688.2 347.7M718.1 345.5L699.7 342.4M707.3 340.0L699.7 342.4L706.1 347.2M736.3 345.5L716.9 341.3M725.1 339.1L716.9 341.3L723.5 346.7M754.5 345.5L735.0 340.7M743.4 338.8L735.0 340.7L741.5 346.4M772.6 345.5L753.0 340.1M761.6 338.3L753.0 340.1L759.5 346.0M790.8 345.5L771.2 339.5M779.9 337.9L771.2 339.5L777.5 345.6M300.1 363.7L282.6 359.9M290.0 357.9L282.6 359.9L288.5 364.8M318.3 363.7L299.3 361.0M307.1 358.3L299.3 361.0L306.1 365.7M336.5 363.7L315.5 362.2M323.8 358.6L315.5 362.2L323.2 366.8M354.6 363.7L331.6 363.7M340.4 359.1L331.6 363.7L340.4 368.2M372.8 363.7L348.6 363.6M357.9 358.9L348.6 363.6L357.8 368.4M391.0 363.7L366.9 363.6M376.1 358.9L366.9 363.6L376.1 368.3M409.2 363.7L386.7 363.6M395.4 359.2L386.7 363.6L395.3 368.0M427.3 363.7L406.6 363.5M414.6 359.5L406.6 363.5L414.5 367.6M445.5 363.7L426.3 363.5M433.7 359.8L426.3 363.5L433.7 367.3M463.7 363.7L445.0 363.5M452.2 359.9L445.0 363.5L452.1 367.2M481.9 363.7L463.4 363.5M470.5 359.9L463.4 363.5L470.4 367.1M500.0 363.7L481.8 363.4M488.8 360.0L481.8 363.4L488.7 367.1M518.2 363.7L500.2 363.4M507.1 360.0L500.2 363.4L507.0 367.0M536.4 363.7L518.4 363.4M525.4 360.0L518.4 363.4L525.3 367.0M554.5 363.7L537.1 363.4M543.8 360.1L537.1 363.4L543.7 366.9M572.7 363.7L555.7 363.4M562.3 360.1L555.7 363.4L562.2 366.8M590.9 363.7L573.9 363.3M580.5 360.1L573.9 363.3L580.3 366.8M609.1 363.7L592.9 363.3M599.2 360.3L592.9 363.3L599.1 366.6M627.2 363.7L611.1 363.3M617.4 360.3L611.1 363.3L617.2 366.6M645.4 363.7L627.9 363.2M634.7 360.0L627.9 363.2L634.6 366.8M663.6 363.7L645.3 363.2M652.4 359.8L645.3 363.2L652.2 366.9M681.8 363.7L662.8 363.2M670.2 359.6L662.8 363.2L670.0 367.0M699.9 363.7L680.1 363.1M687.8 359.4L680.1 363.1L687.6 367.2M718.1 363.7L698.1 363.1M705.9 359.4L698.1 363.1L705.7 367.2M736.3 363.7L716.3 363.0M724.1 359.4L716.3 363.0L723.8 367.2M754.5 363.7L732.8 363.0M741.2 359.0L732.8 363.0L740.9 367.5M772.6 363.7L749.6 362.9M758.6 358.7L749.6 362.9L758.3 367.7M790.8 363.7L768.1 362.9M777.0 358.7L768.1 362.9L776.7 367.6M281.9 381.8L266.8 373.1M274.3 373.5L266.8 373.1L270.9 379.4M300.1 381.8L283.5 375.1M291.2 374.4L283.5 375.1L288.5 380.9M318.3 381.8L300.2 377.0M308.1 375.3L300.2 377.0L306.2 382.4M336.5 381.8L316.4 378.3M324.8 375.7L316.4 378.3L323.4 383.6M354.6 381.8L333.0 379.6M341.7 376.2L333.0 379.6L340.9 384.6M372.8 381.8L350.6 380.3M359.4 376.5L350.6 380.3L358.8 385.2M391.0 381.8L368.9 380.7M377.6 376.8L368.9 380.7L377.2 385.4M409.2 381.8L387.8 381.1M396.1 377.2L387.8 381.1L395.8 385.5M427.3 381.8L407.0 381.3M414.9 377.5L407.0 381.3L414.7 385.5M445.5 381.8L426.6 381.5M433.9 377.9L426.6 381.5L433.8 385.3M463.7 381.8L445.4 381.7M452.4 378.2L445.4 381.7L452.4 385.3M481.9 381.8L463.5 381.8M470.5 378.2L463.5 381.8L470.5 385.4M500.0 381.8L481.6 381.8M488.7 378.2L481.6 381.8L488.7 385.4M518.2 381.8L500.0 381.8M507.0 378.3L500.0 381.8L507.0 385.4M536.4 381.8L518.7 381.8M525.4 378.4L518.7 381.8L525.4 385.3M554.5 381.8L537.3 381.8M543.9 378.5L537.3 381.8L543.9 385.2M572.7 381.8L555.7 381.8M562.2 378.5L555.7 381.8L562.2 385.2M590.9 381.8L573.9 381.8M580.4 378.5L573.9 381.8L580.4 385.2M609.1 381.8L592.9 381.8M599.1 378.7L592.9 381.8L599.1 385.0M627.2 381.8L611.1 381.8M617.3 378.7L611.1 381.8L617.3 385.0M645.4 381.8L628.4 381.8M634.9 378.5L628.4 381.8L634.9 385.2M663.6 381.8L645.6 381.8M652.5 378.3L645.6 381.8L652.5 385.3M681.8 381.8L662.8 381.8M670.1 378.1L662.8 381.8L670.1 385.5M699.9 381.8L680.1 381.8M687.7 377.9L680.1 381.8L687.7 385.7M718.1 381.8L697.9 381.8M705.7 377.9L697.9 381.8L705.7 385.8M736.3 381.8L716.3 381.8M723.9 377.9L716.3 381.8L723.9 385.7M754.5 381.8L732.6 381.8M741.0 377.6L732.6 381.8L741.0 386.1M772.6 381.8L746.8 381.8M756.7 376.8L746.8 381.8L756.7 386.9M790.8 381.8L764.9 381.8M774.9 376.8L764.9 381.8L774.9 386.9M281.9 400.0L267.2 391.5M274.5 391.9L267.2 391.5L271.2 397.6M300.1 400.0L284.0 392.5M291.7 392.2L284.0 392.5L288.7 398.5M318.3 400.0L301.1 394.4M308.8 393.2L301.1 394.4L306.6 399.9M336.5 400.0L318.1 395.4M326.0 393.6L318.1 395.4L324.2 400.8M354.6 400.0L334.9 396.5M343.1 394.0L334.9 396.5L341.8 401.7M372.8 400.0L352.6 397.2M360.9 394.3L352.6 397.2L359.8 402.2M391.0 400.0L370.7 397.9M378.9 394.7L370.7 397.9L378.1 402.6M409.2 400.0L389.2 398.6M397.1 395.2L389.2 398.6L396.6 403.0M427.3 400.0L408.4 399.0M415.9 395.7L408.4 399.0L415.5 403.1M445.5 400.0L427.5 399.4M434.5 396.1L427.5 399.4L434.3 403.1M463.7 400.0L446.0 399.5M452.8 396.3L446.0 399.5L452.7 403.2M481.9 400.0L464.4 399.7M471.1 396.4L464.4 399.7L471.0 403.2M500.0 400.0L482.3 399.8M489.1 396.4L482.3 399.8L489.1 403.4M518.2 400.0L500.5 400.0M507.3 396.5L500.5 400.0L507.3 403.5M536.4 400.0L518.9 400.0M525.6 396.6L518.9 400.0L525.6 403.4M554.5 400.0L537.5 400.0M544.0 396.7L537.5 400.0L544.0 403.3M572.7 400.0L555.9 400.0M562.4 396.7L555.9 400.0L562.4 403.3M590.9 400.0L574.3 400.0M580.7 396.8L574.3 400.0L580.7 403.2M609.1 400.0L592.7 400.0M599.0 396.8L592.7 400.0L599.0 403.2M627.2 400.0L610.9 400.0M617.2 396.8L610.9 400.0L617.2 403.2M645.4 400.0L628.6 400.0M635.1 396.7L628.6 400.0L635.1 403.3M663.6 400.0L645.7 400.0M652.5 396.5L645.7 400.0L652.5 403.5M681.8 400.0L663.3 400.0M670.4 396.4L663.3 400.0L670.4 403.6M699.9 400.0L680.8 400.0M688.1 396.3L680.8 400.0L688.1 403.7M718.1 400.0L697.9 400.0M705.7 396.1L697.9 400.0L705.7 403.9M736.3 400.0L716.4 400.0M724.0 396.1L716.4 400.0L724.0 403.9M754.5 400.0L733.4 400.0M741.5 395.9L733.4 400.0L741.5 404.1M772.6 400.0L747.4 400.0M757.1 395.1L747.4 400.0L757.1 404.9M790.8 400.0L763.3 400.0M773.8 394.6L763.3 400.0L773.8 405.4M300.1 418.2L285.1 412.1M292.0 411.5L285.1 412.1L289.7 417.4M318.3 418.2L301.6 412.8M309.1 411.6L301.6 412.8L307.0 418.1M336.5 418.2L318.6 413.7M326.3 411.9L318.6 413.7L324.6 418.9M354.6 418.2L336.4 415.0M344.0 412.6L336.4 415.0L342.8 419.7M372.8 418.2L354.0 415.5M361.7 412.9L354.0 415.5L360.7 420.2M391.0 418.2L371.9 416.0M379.7 413.1L371.9 416.0L378.8 420.6M409.2 418.2L390.1 416.5M397.7 413.4L390.1 416.5L397.1 420.9M427.3 418.2L408.4 416.8M416.0 413.6L408.4 416.8L415.4 421.0M445.5 418.2L427.0 417.0M434.3 413.9L427.0 417.0L433.9 421.1M463.7 418.2L445.6 417.3M452.7 414.1L445.6 417.3L452.4 421.2M481.9 418.2L463.5 417.5M470.6 414.2L463.5 417.5L470.4 421.4M500.0 418.2L481.6 417.7M488.8 414.3L481.6 417.7L488.6 421.5M518.2 418.2L500.2 417.9M507.1 414.5L500.2 417.9L507.0 421.5M536.4 418.2L518.3 418.0M525.3 414.6L518.3 418.0L525.2 421.6M554.5 418.2L536.2 418.2M543.2 414.6L536.2 418.2L543.2 421.8M572.7 418.2L554.8 418.2M561.7 414.7L554.8 418.2L561.7 421.7M590.9 418.2L573.2 418.2M580.0 414.7L573.2 418.2L580.0 421.6M609.1 418.2L591.6 418.2M598.3 414.8L591.6 418.2L598.3 421.6M627.2 418.2L609.3 418.2M616.2 414.7L609.3 418.2L616.2 421.7M645.4 418.2L627.0 418.2M634.1 414.6L627.0 418.2L634.1 421.8M663.6 418.2L644.9 418.2M652.1 414.5L644.9 418.2L652.1 421.8M681.8 418.2L661.1 418.2M669.0 414.1L661.1 418.2L669.0 422.2M699.9 418.2L679.2 418.2M687.2 414.1L679.2 418.2L687.2 422.2M718.1 418.2L697.6 418.2M705.5 414.2L697.6 418.2L705.5 422.2M736.3 418.2L716.3 418.2M723.9 414.3L716.3 418.2L723.9 422.1M754.5 418.2L733.3 418.2M741.4 414.0L733.3 418.2L741.4 422.3M772.6 418.2L747.4 418.2M757.1 413.2L747.4 418.2L757.1 423.1M790.8 418.2L763.1 418.2M773.7 412.8L763.1 418.2L773.7 423.6M336.5 436.4L319.5 434.6M326.3 431.9L319.5 434.6L325.6 438.6M354.6 436.4L336.3 434.9M343.6 431.9L336.3 434.9L343.0 439.0M372.8 436.4L354.1 435.4M361.5 432.1L354.1 435.4L361.1 439.4M391.0 436.4L372.1 435.5M379.5 432.1L372.1 435.5L379.1 439.5M409.2 436.4L390.0 435.7M397.5 432.2L390.0 435.7L397.2 439.7M427.3 436.4L408.2 435.8M415.6 432.3L408.2 435.8L415.4 439.8M445.5 436.4L426.6 436.0M433.9 432.5L426.6 436.0L433.8 439.8M463.7 436.4L445.0 436.0M452.2 432.5L445.0 436.0L452.1 439.8M481.9 436.4L463.1 436.1M470.4 432.5L463.1 436.1L470.2 439.8M500.0 436.4L481.1 436.1M488.4 432.5L481.1 436.1L488.3 439.9M518.2 436.4L498.3 436.1M506.0 432.3L498.3 436.1L505.9 440.1M536.4 436.4L516.0 436.1M523.9 432.2L516.0 436.1L523.8 440.2M554.5 436.4L533.7 436.1M541.7 432.1L533.7 436.1L541.6 440.3M572.7 436.4L551.7 436.1M559.8 432.1L551.7 436.1L559.7 440.3M590.9 436.4L569.9 436.1M578.0 432.1L569.9 436.1L577.9 440.3M609.1 436.4L587.9 436.2M596.0 432.1L587.9 436.2L595.9 440.4M627.2 436.4L605.9 436.2M614.1 432.1L605.9 436.2L614.0 440.4M645.4 436.4L623.9 436.2M632.2 432.0L623.9 436.2L632.1 440.5M663.6 436.4L641.9 436.2M650.2 432.0L641.9 436.2L650.2 440.5M681.8 436.4L659.9 436.2M668.3 432.0L659.9 436.2L668.2 440.5M699.9 436.4L678.1 436.2M686.5 432.0L678.1 436.2L686.4 440.6M718.1 436.4L696.4 436.3M704.7 432.1L696.4 436.3L704.7 440.5M736.3 436.4L716.1 436.3M723.9 432.4L716.1 436.3L723.8 440.3M754.5 436.4L732.9 436.3M741.2 432.1L732.9 436.3L741.2 440.5M772.6 436.4L746.8 436.3M756.7 431.3L746.8 436.3L756.7 441.4M790.8 436.4L763.3 436.4M773.8 431.0L763.3 436.4L773.8 441.7M336.5 454.5L319.5 453.0M326.3 450.3L319.5 453.0L325.7 456.9M354.6 454.5L336.3 453.2M343.6 450.1L336.3 453.2L343.1 457.3M372.8 454.5L354.1 453.5M361.5 450.2L354.1 453.5L361.1 457.5M391.0 454.5L371.8 453.6M379.4 450.2L371.8 453.6L379.0 457.7M409.2 454.5L390.0 453.7M397.5 450.3L390.0 453.7L397.2 457.7M427.3 454.5L408.2 453.8M415.7 450.3L408.2 453.8L415.4 457.8M445.5 454.5L426.4 453.9M433.8 450.4L426.4 453.9L433.6 457.9M463.7 454.5L444.5 453.9M452.0 450.4L444.5 453.9L451.7 457.9M481.9 454.5L462.7 453.9M470.2 450.4L462.7 453.9L469.9 457.9M500.0 454.5L480.0 453.9M487.8 450.2L480.0 453.9L487.5 458.0M518.2 454.5L497.5 454.1M505.5 450.2L497.5 454.1L505.3 458.3M536.4 454.5L514.6 454.4M523.0 450.2L514.6 454.4L522.9 458.7M554.5 454.5L531.8 454.4M540.6 450.0L531.8 454.4L540.5 458.9M572.7 454.5L549.5 454.4M558.4 449.9L549.5 454.4L558.4 459.0M590.9 454.5L567.5 454.4M576.5 449.9L567.5 454.4L576.4 459.0M609.1 454.5L586.0 454.4M594.9 450.0L586.0 454.4L594.8 459.0M627.2 454.5L604.3 454.4M613.1 450.0L604.3 454.4L613.1 458.9M645.4 454.5L622.7 454.4M631.4 450.0L622.7 454.4L631.4 458.9M663.6 454.5L641.0 454.5M649.7 450.1L641.0 454.5L649.7 458.9M681.8 454.5L659.7 454.5M668.2 450.2L659.7 454.5L668.2 458.8M699.9 454.5L677.9 454.5M686.3 450.2L677.9 454.5L686.3 458.8M718.1 454.5L696.1 454.5M704.5 450.2L696.1 454.5L704.5 458.8M736.3 454.5L714.2 454.5M722.7 450.2L714.2 454.5L722.7 458.8M754.5 454.5L732.6 454.5M741.0 450.2L732.6 454.5L741.0 458.8M772.6 454.5L748.2 454.5M757.6 449.8L748.2 454.5L757.6 459.3M790.8 454.5L765.3 454.5M775.1 449.5L765.3 454.5L775.1 459.5M336.5 472.7L318.6 471.4M325.7 468.4L318.6 471.4L325.2 475.4M354.6 472.7L336.2 471.5M343.5 468.4L336.2 471.5L343.0 475.6M372.8 472.7L353.7 471.5M361.2 468.2L353.7 471.5L360.8 475.7M391.0 472.7L371.2 471.6M379.0 468.1L371.2 471.6L378.5 475.9M409.2 472.7L390.0 471.7M397.5 468.3L390.0 471.7L397.2 475.8M427.3 472.7L408.2 471.7M415.7 468.3L408.2 471.7L415.3 475.8M445.5 472.7L426.4 471.7M433.9 468.3L426.4 471.7L433.5 475.8M463.7 472.7L444.5 471.7M452.1 468.3L444.5 471.7L451.7 475.8M481.9 472.7L462.0 471.7M469.8 468.2L462.0 471.7L469.4 475.9M500.0 472.7L479.7 471.6M487.7 468.1L479.7 471.6L487.3 476.0M518.2 472.7L496.8 472.1M505.1 468.2L496.8 472.1L504.9 476.5M536.4 472.7L513.8 472.7M522.5 468.3L513.8 472.7L522.5 477.1M554.5 472.7L531.1 472.7M540.1 468.1L531.1 472.7L540.1 477.3M572.7 472.7L548.8 472.7M558.0 468.0L548.8 472.7L558.0 477.4M590.9 472.7L567.0 472.7M576.2 468.0L567.0 472.7L576.2 477.4M609.1 472.7L585.7 472.7M594.6 468.1L585.7 472.7L594.6 477.3M627.2 472.7L604.2 472.7M613.0 468.2L604.2 472.7L613.0 477.2M645.4 472.7L622.7 472.7M631.4 468.3L622.7 472.7L631.4 477.1M663.6 472.7L641.2 472.7M649.8 468.3L641.2 472.7L649.8 477.1M681.8 472.7L659.7 472.7M668.2 468.4L659.7 472.7L668.2 477.0M699.9 472.7L678.1 472.7M686.4 468.4L678.1 472.7L686.4 477.0M718.1 472.7L696.2 472.7M704.6 468.4L696.2 472.7L704.6 477.0M736.3 472.7L714.4 472.7M722.8 468.4L714.4 472.7L722.8 477.0M754.5 472.7L732.6 472.7M741.0 468.4L732.6 472.7L741.0 477.0M772.6 472.7L750.8 472.7M759.1 468.4L750.8 472.7L759.1 477.0M790.8 472.7L768.8 472.7M777.2 468.4L768.8 472.7L777.2 477.0M318.3 490.9L300.1 489.5M307.3 486.5L300.1 489.5L306.8 493.6M336.5 490.9L317.3 489.4M325.0 486.2L317.3 489.4L324.4 493.7M354.6 490.9L334.7 489.4M342.6 486.0L334.7 489.4L342.0 493.8M372.8 490.9L352.8 489.4M360.8 486.0L352.8 489.4L360.2 493.8M391.0 490.9L371.0 489.2M379.0 485.9L371.0 489.2L378.3 493.7M409.2 490.9L389.4 489.0M397.3 485.9L389.4 489.0L396.6 493.6M427.3 490.9L408.2 489.1M415.9 486.1L408.2 489.1L415.2 493.5M445.5 490.9L426.4 489.2M434.1 486.1L426.4 489.2L433.4 493.5M463.7 490.9L444.6 489.2M452.2 486.1L444.6 489.2L451.6 493.6M481.9 490.9L462.1 489.3M469.9 486.0L462.1 489.3L469.3 493.8M500.0 490.9L479.7 489.5M487.8 486.0L479.7 489.5L487.2 494.0M518.2 490.9L496.8 490.1M505.2 486.2L496.8 490.1L504.9 494.5M536.4 490.9L513.8 490.7M522.5 486.4L513.8 490.7L522.4 495.2M554.5 490.9L531.1 490.7M540.1 486.2L531.1 490.7L540.1 495.4M572.7 490.9L549.0 490.8M558.1 486.2L549.0 490.8L558.1 495.4M590.9 490.9L567.2 490.8M576.3 486.2L567.2 490.8L576.2 495.4M609.1 490.9L585.7 490.8M594.7 486.2L585.7 490.8L594.6 495.4M627.2 490.9L604.5 490.8M613.2 486.4L604.5 490.8L613.2 495.3M645.4 490.9L623.2 490.8M631.7 486.5L623.2 490.8L631.7 495.2M663.6 490.9L641.9 490.8M650.2 486.6L641.9 490.8L650.2 495.1M681.8 490.9L660.4 490.8M668.6 486.7L660.4 490.8L668.6 495.0M699.9 490.9L678.7 490.8M686.9 486.7L678.7 490.8L686.9 495.0M718.1 490.9L697.1 490.8M705.1 486.7L697.1 490.8L705.1 495.0M736.3 490.9L715.4 490.8M723.4 486.8L715.4 490.8L723.4 494.9M754.5 490.9L733.8 490.9M741.7 486.8L733.8 490.9L741.7 494.9M772.6 490.9L752.1 490.9M760.0 486.9L752.1 490.9L760.0 494.9M790.8 490.9L770.5 490.9M778.3 486.9L770.5 490.9L778.3 494.9M300.1 509.1L282.2 507.7M289.3 504.7L282.2 507.7L288.8 511.7M318.3 509.1L299.2 507.5M306.8 504.4L299.2 507.5L306.2 511.8M336.5 509.1L316.2 507.3M324.3 504.0L316.2 507.3L323.6 512.0M354.6 509.1L334.2 507.3M342.4 504.0L334.2 507.3L341.7 511.9M372.8 509.1L352.5 507.2M360.6 504.0L352.5 507.2L359.9 511.9M391.0 509.1L371.1 506.8M379.1 503.8L371.1 506.8L378.3 511.6M409.2 509.1L389.5 506.4M397.5 503.6L389.5 506.4L396.5 511.3M427.3 509.1L408.3 506.6M416.1 503.8L408.3 506.6L415.1 511.2M445.5 509.1L426.7 506.7M434.4 503.9L426.7 506.7L433.4 511.2M463.7 509.1L444.9 506.7M452.5 504.0L444.9 506.7L451.6 511.3M481.9 509.1L462.8 507.0M470.5 504.1L462.8 507.0L469.7 511.5M500.0 509.1L480.1 507.3M488.1 504.1L480.1 507.3L487.4 511.9M518.2 509.1L497.3 508.0M505.5 504.3L497.3 508.0L505.1 512.5M536.4 509.1L514.5 508.8M522.9 504.6L514.5 508.8L522.8 513.2M554.5 509.1L532.0 508.8M540.7 504.5L532.0 508.8L540.6 513.3M572.7 509.1L549.8 508.8M558.6 504.4L549.8 508.8L558.6 513.4M590.9 509.1L568.2 508.8M576.9 504.5L568.2 508.8L576.8 513.4M609.1 509.1L586.7 508.9M595.3 504.6L586.7 508.9L595.2 513.3M627.2 509.1L605.4 508.9M613.8 504.7L605.4 508.9L613.7 513.2M645.4 509.1L624.0 508.9M632.3 504.8L624.0 508.9L632.2 513.1M663.6 509.1L642.7 508.9M650.7 504.9L642.7 508.9L650.7 513.1M681.8 509.1L661.2 508.9M669.1 505.0L661.2 508.9L669.1 513.0M699.9 509.1L679.6 509.0M687.4 505.0L679.6 509.0L687.4 513.0M718.1 509.1L697.9 509.0M705.7 505.1L697.9 509.0L705.7 513.0M736.3 509.1L716.3 509.0M724.0 505.1L716.3 509.0L723.9 512.9M754.5 509.1L734.6 509.0M742.2 505.2L734.6 509.0L742.2 512.9M772.6 509.1L753.7 509.0M761.0 505.3L753.7 509.0L761.0 512.7M790.8 509.1L772.3 509.1M779.4 505.4L772.3 509.1L779.4 512.7M281.9 527.2L263.6 525.9M270.9 522.9L263.6 525.9L270.4 530.0M300.1 527.2L281.0 525.8M288.6 522.6L281.0 525.8L288.0 530.0M318.3 527.2L297.8 525.5M306.0 522.2L297.8 525.5L305.3 530.2M336.5 527.2L315.7 525.3M324.0 522.0L315.7 525.3L323.3 530.1M354.6 527.2L334.3 525.2M342.5 522.0L334.3 525.2L341.7 530.0M372.8 527.2L353.1 525.1M361.0 522.1L353.1 525.1L360.2 529.8M391.0 527.2L371.7 524.5M379.6 521.8L371.7 524.5L378.5 529.3M409.2 527.2L390.9 524.0M398.5 521.7L390.9 524.0L397.3 528.8M427.3 527.2L409.3 524.2M416.8 521.8L409.3 524.2L415.6 528.8M445.5 527.2L427.7 524.3M435.1 521.9L427.7 524.3L433.9 528.9M463.7 527.2L445.8 524.4M453.2 522.0L445.8 524.4L452.1 529.0M481.9 527.2L463.7 524.8M471.1 522.2L463.7 524.8L470.2 529.3M500.0 527.2L481.6 525.3M489.1 522.4L481.6 525.3L488.3 529.6M518.2 527.2L498.3 526.0M506.2 522.6L498.3 526.0L505.7 530.4M536.4 527.2L515.5 526.9M523.6 522.9L515.5 526.9L523.4 531.1M554.5 527.2L533.2 526.9M541.4 522.8L533.2 526.9L541.3 531.2M572.7 527.2L551.0 526.9M559.4 522.8L551.0 526.9L559.3 531.3M590.9 527.2L569.3 526.9M577.7 522.8L569.3 526.9L577.5 531.3M609.1 527.2L587.7 527.0M595.9 522.9L587.7 527.0L595.8 531.2M627.2 527.2L606.2 527.0M614.3 523.0L606.2 527.0L614.2 531.2M645.4 527.2L624.7 527.0M632.7 523.1L624.7 527.0L632.6 531.1M663.6 527.2L643.2 527.0M651.1 523.1L643.2 527.0L651.0 531.1M681.8 527.2L661.7 527.1M669.5 523.2L661.7 527.1L669.4 531.0M699.9 527.2L680.1 527.1M687.7 523.3L680.1 527.1L687.7 531.0M718.1 527.2L699.0 527.1M706.3 523.4L699.0 527.1L706.3 530.9M736.3 527.2L717.6 527.2M724.8 523.5L717.6 527.2L724.7 530.8M754.5 527.2L736.2 527.2M743.2 523.6L736.2 527.2L743.2 530.8M772.6 527.2L754.5 527.2M761.5 523.7L754.5 527.2L761.4 530.8M790.8 527.2L773.3 527.2M780.0 523.8L773.3 527.2L780.0 530.6M263.8 545.4L246.8 543.6M253.6 541.0L246.8 543.6L252.9 547.6M281.9 545.4L263.8 543.5M271.1 540.7L263.8 543.5L270.3 547.8M300.1 545.4L280.2 543.2M288.2 540.2L280.2 543.2L287.4 548.0M318.3 545.4L297.9 543.1M306.1 540.0L297.9 543.1L305.2 548.0M336.5 545.4L316.1 542.9M324.4 539.9L316.1 542.9L323.4 547.8M354.6 545.4L334.7 542.7M342.9 539.9L334.7 542.7L341.8 547.6M372.8 545.4L353.6 542.6M361.5 540.0L353.6 542.6L360.4 547.4M391.0 545.4L372.1 542.2M379.9 539.7L372.1 542.2L378.7 547.1M409.2 545.4L391.3 541.9M398.8 539.8L391.3 541.9L397.5 546.7M427.3 545.4L409.7 542.0M417.1 539.9L409.7 542.0L415.8 546.8M445.5 545.4L427.9 542.1M435.3 539.9L427.9 542.1L434.0 546.8M463.7 545.4L446.0 542.1M453.4 539.9L446.0 542.1L452.2 546.8M481.9 545.4L464.0 542.3M471.4 540.0L464.0 542.3L470.2 547.0M500.0 545.4L481.9 542.5M489.4 540.1L481.9 542.5L488.3 547.2M518.2 545.4L499.2 543.6M506.8 540.6L499.2 543.6L506.1 548.0M536.4 545.4L516.5 544.7M524.3 541.1L516.5 544.7L524.0 548.8M554.5 545.4L534.5 544.8M542.3 541.1L534.5 544.8L542.1 548.9M572.7 545.4L552.5 544.8M560.4 541.1L552.5 544.8L560.2 549.0M590.9 545.4L570.7 544.9M578.5 541.2L570.7 544.9L578.3 549.0M609.1 545.4L588.9 545.0M596.7 541.2L588.9 545.0L596.5 549.1M627.2 545.4L607.2 545.0M615.0 541.2L607.2 545.0L614.8 549.1M645.4 545.4L625.6 545.0M633.2 541.3L625.6 545.0L633.1 549.1M663.6 545.4L644.1 545.1M651.6 541.4L644.1 545.1L651.5 549.0M681.8 545.4L662.6 545.1M670.0 541.5L662.6 545.1L669.9 549.0M699.9 545.4L681.2 545.2M688.4 541.6L681.2 545.2L688.4 548.9M718.1 545.4L699.9 545.2M706.9 541.7L699.9 545.2L706.8 548.9M736.3 545.4L717.9 545.3M725.0 541.7L717.9 545.3L724.9 548.9M754.5 545.4L736.8 545.3M743.6 541.9L736.8 545.3L743.5 548.8M772.6 545.4L755.6 545.4M762.1 542.0L755.6 545.4L762.1 548.7M790.8 545.4L774.7 545.4M780.9 542.2L774.7 545.4L780.9 548.6M245.6 563.6L228.7 561.2M235.6 558.8L228.7 561.2L234.7 565.4M263.8 563.6L245.5 561.0M253.0 558.4L245.5 561.0L252.0 565.6M281.9 563.6L263.0 560.9M270.7 558.2L263.0 560.9L269.7 565.6M300.1 563.6L280.1 560.8M288.3 557.9L280.1 560.8L287.2 565.7M318.3 563.6L298.1 560.7M306.4 557.9L298.1 560.7L305.3 565.8M336.5 563.6L316.5 560.5M324.7 557.8L316.5 560.5L323.5 565.6M354.6 563.6L335.4 560.3M343.4 557.8L335.4 560.3L342.1 565.3M372.8 563.6L354.5 560.2M362.2 557.9L354.5 560.2L360.9 565.1M391.0 563.6L373.7 560.2M381.0 558.1L373.7 560.2L379.7 564.8M409.2 563.6L392.2 560.0M399.4 558.0L392.2 560.0L398.0 564.7M427.3 563.6L410.5 560.0M417.7 558.1L410.5 560.0L416.3 564.7M445.5 563.6L428.7 560.0M435.8 558.1L428.7 560.0L434.5 564.7M463.7 563.6L446.9 560.0M454.0 558.1L446.9 560.0L452.6 564.7M481.9 563.6L464.9 560.0M472.1 558.0L464.9 560.0L470.7 564.7M500.0 563.6L482.8 559.9M490.1 558.0L482.8 559.9L488.7 564.7M518.2 563.6L499.9 561.2M507.4 558.5L499.9 561.2L506.4 565.7M536.4 563.6L516.8 562.5M524.5 559.1L516.8 562.5L524.1 566.8M554.5 563.6L534.8 562.7M542.5 559.2L534.8 562.7L542.2 566.9M572.7 563.6L552.8 562.8M560.6 559.2L552.8 562.8L560.3 567.0M590.9 563.6L571.0 562.9M578.7 559.3L571.0 562.9L578.5 567.0M609.1 563.6L589.1 562.9M596.9 559.3L589.1 562.9L596.7 567.1M627.2 563.6L607.5 563.0M615.2 559.4L607.5 563.0L614.9 567.1M645.4 563.6L626.1 563.1M633.6 559.5L626.1 563.1L633.4 567.1M663.6 563.6L645.2 563.2M652.3 559.7L645.2 563.2L652.2 566.9M681.8 563.6L663.1 563.2M670.3 559.7L663.1 563.2L670.2 567.0M699.9 563.6L681.7 563.3M688.7 559.8L681.7 563.3L688.6 567.0M718.1 563.6L700.0 563.3M707.0 559.9L700.0 563.3L706.9 567.0M736.3 563.6L718.8 563.4M725.5 560.1L718.8 563.4L725.5 566.9M754.5 563.6L737.7 563.5M744.1 560.2L737.7 563.5L744.1 566.8M772.6 563.6L756.5 563.5M762.7 560.4L756.5 563.5L762.7 566.7M790.8 563.6L775.6 563.6M781.4 560.6L775.6 563.6L781.4 566.5M209.2 581.8L193.2 581.8M199.3 578.6L193.2 581.8L199.3 584.9M227.4 581.8L210.5 581.6M217.0 578.3L210.5 581.6L216.9 584.9M245.6 581.8L227.8 581.3M234.7 578.0L227.8 581.3L234.5 585.0M263.8 581.8L245.6 581.1M252.7 577.8L245.6 581.1L252.4 584.9M281.9 581.8L263.1 580.8M270.5 577.5L263.1 580.8L270.1 584.8M300.1 581.8L281.1 580.4M288.6 577.2L281.1 580.4L288.1 584.6M318.3 581.8L299.3 580.1M306.9 577.0L299.3 580.1L306.2 584.4M336.5 581.8L317.7 579.8M325.3 576.9L317.7 579.8L324.5 584.2M354.6 581.8L336.9 579.2M344.2 576.7L336.9 579.2L343.2 583.6M372.8 581.8L356.1 578.6M363.1 576.5L356.1 578.6L361.9 583.1M391.0 581.8L374.6 578.0M381.6 576.2L374.6 578.0L380.1 582.6M409.2 581.8L393.0 577.9M399.9 576.2L393.0 577.9L398.4 582.5M427.3 581.8L410.9 577.8M418.0 576.1L410.9 577.8L416.4 582.5M445.5 581.8L429.1 577.7M436.2 576.0L429.1 577.7L434.6 582.4M463.7 581.8L447.3 577.6M454.4 576.0L447.3 577.6L452.7 582.4M481.9 581.8L465.3 577.4M472.5 575.8L465.3 577.4L470.8 582.3M500.0 581.8L483.2 577.3M490.5 575.7L483.2 577.3L488.8 582.3M518.2 581.8L500.6 579.0M507.9 576.6L500.6 579.0L506.8 583.5M536.4 581.8L517.1 580.7M524.7 577.4L517.1 580.7L524.3 584.9M554.5 581.8L535.1 580.8M542.7 577.4L535.1 580.8L542.4 585.0M572.7 581.8L553.3 580.8M560.9 577.4L553.3 580.8L560.5 585.0M590.9 581.8L571.4 580.9M579.1 577.4L571.4 580.9L578.7 585.0M609.1 581.8L589.6 580.9M597.2 577.4L589.6 580.9L596.9 585.0M627.2 581.8L608.8 581.0M616.0 577.7L608.8 581.0L615.7 584.9M645.4 581.8L627.4 581.1M634.4 577.8L627.4 581.1L634.2 584.9M663.6 581.8L646.0 581.1M652.9 577.9L646.0 581.1L652.6 584.8M681.8 581.8L663.4 581.2M670.6 577.8L663.4 581.2L670.3 585.0M699.9 581.8L682.0 581.2M689.0 577.9L682.0 581.2L688.8 584.9M718.1 581.8L700.9 581.3M707.6 578.1L700.9 581.3L707.4 584.8M736.3 581.8L719.7 581.3M726.1 578.3L719.7 581.3L726.0 584.7M754.5 581.8L738.6 581.4M744.7 578.4L738.6 581.4L744.6 584.6M772.6 581.8L757.4 581.4M763.3 578.6L757.4 581.4L763.2 584.5M790.8 581.8L776.3 581.5M781.9 578.8L776.3 581.5L781.8 584.4M136.5 599.9L120.3 604.3M125.7 599.4L120.3 604.3L127.4 605.8M154.7 599.9L138.6 604.2M143.9 599.4L138.6 604.2L145.6 605.7M172.9 599.9L156.3 604.4M161.8 599.4L156.3 604.4L163.5 605.9M191.1 599.9L173.7 601.4M180.1 597.5L173.7 601.4L180.7 604.2M209.2 599.9L191.4 601.0M198.0 597.1L191.4 601.0L198.5 604.1M227.4 599.9L209.5 600.6M216.2 596.8L209.5 600.6L216.5 603.8M245.6 599.9L227.2 600.2M234.2 596.5L227.2 600.2L234.3 603.7M263.8 599.9L245.1 599.9M252.3 596.3L245.1 599.9L252.3 603.6M281.9 599.9L263.1 599.3M270.4 595.8L263.1 599.3L270.2 603.2M300.1 599.9L281.3 598.6M288.8 595.4L281.3 598.6L288.3 602.8M318.3 599.9L299.6 598.0M307.1 595.1L299.6 598.0L306.3 602.4M336.5 599.9L318.0 597.3M325.6 594.7L318.0 597.3L324.6 601.9M354.6 599.9L337.5 595.3M345.0 593.8L337.5 595.3L343.2 600.4M372.8 599.9L356.6 595.4M363.7 594.0L356.6 595.4L361.9 600.3M391.0 599.9L375.0 595.4M382.0 594.0L375.0 595.4L380.2 600.2M409.2 599.9L392.9 595.1M400.1 593.8L392.9 595.1L398.2 600.1M427.3 599.9L412.5 595.4M419.1 594.3L412.5 595.4L417.3 600.0M445.5 599.9L430.9 595.5M437.4 594.4L430.9 595.5L435.6 600.1M463.7 599.9L448.9 595.5M455.4 594.3L448.9 595.5L453.7 600.1M481.9 599.9L466.4 595.4M473.2 594.1L466.4 595.4L471.4 600.2M500.0 599.9L483.9 595.3M491.0 593.9L483.9 595.3L489.1 600.2M518.2 599.9L500.2 599.0M507.3 595.8L500.2 599.0L506.9 602.9M536.4 599.9L517.5 599.1M524.9 595.7L517.5 599.1L524.5 603.1M554.5 599.9L535.6 599.2M543.0 595.8L535.6 599.2L542.7 603.2M572.7 599.9L554.0 599.4M561.3 595.9L554.0 599.4L561.1 603.2M590.9 599.9L572.6 599.5M579.7 596.1L572.6 599.5L579.6 603.2M609.1 599.9L590.7 599.7M597.8 596.2L590.7 599.7L597.7 603.3M627.2 599.9L609.2 599.8M616.1 596.3L609.2 599.8L616.1 603.4M645.4 599.9L627.3 599.9M634.2 596.4L627.3 599.9L634.2 603.5M663.6 599.9L645.9 599.2M652.8 596.0L645.9 599.2L652.5 602.9M681.8 599.9L664.6 598.4M671.5 595.6L664.6 598.4L670.9 602.4M699.9 599.9L683.3 597.5M690.2 595.2L683.3 597.5L689.2 601.7M718.1 599.9L702.3 596.7M709.0 594.8L702.3 596.7L707.7 601.0M736.3 599.9L721.4 595.9M727.9 594.5L721.4 595.9L726.3 600.4M754.5 599.9L740.3 595.9M746.5 594.7L740.3 595.9L744.9 600.2M772.6 599.9L759.1 596.0M765.1 594.8L759.1 596.0L763.5 600.1M790.8 599.9L778.0 596.0M783.7 595.0L778.0 596.0L782.2 600.0M27.5 618.1L14.0 625.2M17.8 619.9L14.0 625.2L20.6 625.1M45.7 618.1L31.3 625.5M35.4 619.9L31.3 625.5L38.2 625.5M63.8 618.1L48.6 625.7M52.9 619.8L48.6 625.7L55.9 625.8M82.0 618.1L66.0 625.8M70.7 619.7L66.0 625.8L73.7 626.0M100.2 618.1L83.9 625.7M88.7 619.6L83.9 625.7L91.6 625.9M118.4 618.1L102.0 625.4M106.8 619.4L102.0 625.4L109.7 625.8M136.5 618.1L120.0 625.1M125.0 619.2L120.0 625.1L127.7 625.6M154.7 618.1L138.1 623.2M143.5 618.0L138.1 623.2L145.4 624.5M172.9 618.1L155.4 621.8M161.4 617.0L155.4 621.8L162.8 623.8M191.1 618.1L173.1 621.3M179.3 616.5L173.1 621.3L180.6 623.6M209.2 618.1L191.2 620.3M197.7 615.9L191.2 620.3L198.5 623.0M227.4 618.1L209.5 619.5M216.1 615.5L209.5 619.5L216.6 622.5M245.6 618.1L227.6 618.7M234.4 615.0L227.6 618.7L234.6 622.0M263.8 618.1L245.8 618.4M252.6 614.8L245.8 618.4L252.7 621.8M281.9 618.1L264.0 618.0M270.9 614.5L264.0 618.0L270.8 621.5M300.1 618.1L282.2 617.6M289.1 614.3L282.2 617.6L288.9 621.3M318.3 618.1L300.0 617.2M307.2 614.0L300.0 617.2L306.8 621.1M336.5 618.1L318.4 616.8M325.6 613.8L318.4 616.8L325.1 620.8M354.6 618.1L337.4 615.1M344.6 612.9L337.4 615.1L343.4 619.6M372.8 618.1L356.5 614.6M363.4 612.8L356.5 614.6L362.0 619.1M391.0 618.1L375.2 614.2M382.0 612.6L375.2 614.2L380.5 618.8M409.2 618.1L394.0 613.7M400.6 612.4L394.0 613.7L398.9 618.4M427.3 618.1L412.5 613.7M419.0 612.5L412.5 613.7L417.3 618.3M445.5 618.1L431.1 613.8M437.5 612.6L431.1 613.8L435.8 618.2M463.7 618.1L449.3 613.7M455.7 612.6L449.3 613.7L454.0 618.2M481.9 618.1L466.9 613.4M473.6 612.3L466.9 613.4L471.7 618.1M500.0 618.1L484.5 613.0M491.4 611.9L484.5 613.0L489.4 618.0M518.2 618.1L500.2 617.2M507.3 614.0L500.2 617.2L506.9 621.0M536.4 618.1L518.1 617.3M525.3 614.0L518.1 617.3L525.0 621.2M554.5 618.1L536.3 617.4M543.4 614.1L536.3 617.4L543.2 621.2M572.7 618.1L554.7 617.6M561.7 614.2L554.7 617.6L561.5 621.3M590.9 618.1L572.7 617.7M579.8 614.3L572.7 617.7L579.6 621.4M609.1 618.1L591.4 617.8M598.2 614.5L591.4 617.8L598.1 621.4M627.2 618.1L610.2 618.0M616.8 614.7L610.2 618.0L616.7 621.3M645.4 618.1L628.8 618.1M635.2 614.9L628.8 618.1L635.2 621.3M663.6 618.1L647.5 616.7M654.0 614.1L647.5 616.7L653.4 620.4M681.8 618.1L666.3 615.4M672.8 613.4L666.3 615.4L671.7 619.4M699.9 618.1L685.1 614.6M691.5 613.0L685.1 614.6L690.1 618.8M718.1 618.1L704.2 613.9M710.3 612.8L704.2 613.9L708.7 618.2M736.3 618.1L723.3 613.4M729.2 612.6L723.3 613.4L727.3 617.7M754.5 618.1L742.2 613.5M747.8 612.8L742.2 613.5L746.0 617.6M772.6 618.1L761.1 613.6M766.4 613.0L761.1 613.6L764.6 617.6M790.8 618.1L779.7 613.6M784.9 613.2L779.7 613.6L783.1 617.5M9.3 636.3L-3.0 644.0M0.2 638.6L-3.0 644.0L3.2 643.4M27.5 636.3L14.3 644.3M17.8 638.6L14.3 644.3L20.9 643.8M45.7 636.3L31.5 644.6M35.3 638.6L31.5 644.6L38.6 644.1M63.8 636.3L48.8 644.8M52.9 638.6L48.8 644.8L56.2 644.5M82.0 636.3L66.3 644.9M70.6 638.5L66.3 644.9L74.0 644.7M100.2 636.3L84.1 644.8M88.6 638.4L84.1 644.8L91.9 644.7M118.4 636.3L102.0 644.6M106.6 638.2L102.0 644.6L109.9 644.6M136.5 636.3L120.0 644.3M124.8 638.0L120.0 644.3L127.9 644.5M154.7 636.3L137.7 642.4M143.0 636.8L137.7 642.4L145.4 643.4M172.9 636.3L155.0 640.1M161.1 635.1L155.0 640.1L162.6 642.1M191.1 636.3L173.1 639.4M179.3 634.7L173.1 639.4L180.6 641.7M209.2 636.3L191.5 638.8M197.8 634.3L191.5 638.8L198.8 641.3M227.4 636.3L209.2 637.9M215.9 633.7L209.2 637.9L216.5 640.8M245.6 636.3L227.5 636.9M234.3 633.1L227.5 636.9L234.6 640.2M263.8 636.3L245.9 636.7M252.7 633.1L245.9 636.7L252.8 640.0M281.9 636.3L264.3 636.6M271.0 633.0L264.3 636.6L271.1 639.9M300.1 636.3L282.7 636.4M289.4 633.0L282.7 636.4L289.4 639.8M318.3 636.3L301.3 636.3M307.8 633.0L301.3 636.3L307.8 639.6M336.5 636.3L320.0 635.6M326.4 632.6L320.0 635.6L326.2 639.0M354.6 636.3L338.7 634.9M345.0 632.3L338.7 634.9L344.5 638.5M372.8 636.3L357.4 634.2M363.7 632.0L357.4 634.2L362.9 638.0M391.0 636.3L376.1 633.7M382.3 631.7L376.1 633.7L381.3 637.6M409.2 636.3L395.2 631.2M401.5 630.4L395.2 631.2L399.5 635.9M427.3 636.3L413.1 631.0M419.6 630.2L413.1 631.0L417.5 635.8M445.5 636.3L431.9 631.1M438.1 630.4L431.9 631.1L436.1 635.7M463.7 636.3L450.1 631.0M456.3 630.4L450.1 631.0L454.3 635.7M481.9 636.3L467.9 630.8M474.3 630.1L467.9 630.8L472.2 635.6M500.0 636.3L485.5 630.4M492.2 629.8L485.5 630.4L489.9 635.5M518.2 636.3L501.2 635.1M507.9 632.2L501.2 635.1L507.5 638.9M536.4 636.3L518.7 635.2M525.7 632.2L518.7 635.2L525.3 639.1M554.5 636.3L536.6 635.4M543.7 632.2L536.6 635.4L543.3 639.2M572.7 636.3L555.0 635.6M561.9 632.4L555.0 635.6L561.7 639.3M590.9 636.3L573.6 635.8M580.4 632.6L573.6 635.8L580.2 639.3M609.1 636.3L592.3 635.9M598.8 632.8L592.3 635.9L598.6 639.4M627.2 636.3L610.9 636.1M617.2 633.0L610.9 636.1L617.2 639.4M645.4 636.3L629.8 636.3M635.8 633.2L629.8 636.3L635.8 639.3M663.6 636.3L648.9 635.0M654.8 632.6L648.9 635.0L654.3 638.3M681.8 636.3L668.1 633.9M673.8 632.1L668.1 633.9L672.9 637.5M699.9 636.3L687.2 633.2M692.6 631.9L687.2 633.2L691.5 636.9M718.1 636.3L706.2 632.7M711.5 631.7L706.2 632.7L710.1 636.4M736.3 636.3L725.3 632.3M730.3 631.6L725.3 632.3L728.7 636.0M754.5 636.3L744.2 632.4M748.9 631.9L744.2 632.4L747.4 635.9M772.6 636.3L762.8 632.4M767.3 632.0L762.8 632.4L765.8 635.8M790.8 636.3L781.3 632.4M785.7 632.0L781.3 632.4L784.2 635.8M9.3 654.5L-2.4 662.7M0.5 657.2L-2.4 662.7L3.7 661.8M27.5 654.5L14.9 663.0M18.0 657.3L14.9 663.0L21.4 662.2M45.7 654.5L32.4 663.2M35.7 657.3L32.4 663.2L39.2 662.4M63.8 654.5L49.7 663.5M53.3 657.3L49.7 663.5L56.9 662.8M82.0 654.5L67.1 663.7M71.0 657.2L67.1 663.7L74.6 663.0M100.2 654.5L85.0 663.6M89.0 657.1L85.0 663.6L92.6 663.0M118.4 654.5L102.8 663.4M107.0 656.9L102.8 663.4L110.5 663.0M136.5 654.5L120.6 663.3M125.0 656.8L120.6 663.3L128.4 663.0M154.7 654.5L138.4 661.7M143.2 655.7L138.4 661.7L146.1 662.1M172.9 654.5L155.8 659.7M161.3 654.3L155.8 659.7L163.4 661.0M191.1 654.5L173.6 659.1M179.4 653.9L173.6 659.1L181.2 660.7M209.2 654.5L191.6 658.5M197.6 653.5L191.6 658.5L199.2 660.4M227.4 654.5L209.8 657.5M216.0 652.9L209.8 657.5L217.2 659.8M245.6 654.5L228.3 656.3M234.6 652.2L228.3 656.3L235.3 658.9M263.8 654.5L246.9 655.8M253.1 652.0L246.9 655.8L253.6 658.6M281.9 654.5L265.5 655.3M271.6 651.8L265.5 655.3L271.9 658.2M300.1 654.5L284.1 654.9M290.1 651.6L284.1 654.9L290.3 657.8M318.3 654.5L302.7 654.5M308.7 651.4L302.7 654.5L308.7 657.5M336.5 654.5L321.3 654.3M327.2 651.4L321.3 654.3L327.1 657.3M354.6 654.5L340.0 654.2M345.6 651.4L340.0 654.2L345.5 657.2M372.8 654.5L358.6 654.1M364.1 651.5L358.6 654.1L364.0 657.0M391.0 654.5L377.0 654.0M382.5 651.4L377.0 654.0L382.3 656.9M409.2 654.5L395.9 650.9M401.7 649.7L395.9 650.9L400.3 654.8M427.3 654.5L413.9 650.2M419.9 649.2L413.9 650.2L418.2 654.5M445.5 654.5L432.9 649.9M438.6 649.2L432.9 649.9L436.8 654.1M463.7 654.5L451.3 650.1M456.9 649.3L451.3 650.1L455.2 654.2M481.9 654.5L469.2 650.2M474.9 649.3L469.2 650.2L473.2 654.3M500.0 654.5L486.6 650.1M492.6 649.2L486.6 650.1L490.9 654.4M518.2 654.5L502.8 653.9M508.8 651.1L502.8 653.9L508.6 657.1M536.4 654.5L520.2 654.0M526.5 651.0L520.2 654.0L526.3 657.3M554.5 654.5L538.2 654.0M544.5 651.0L538.2 654.0L544.4 657.4M572.7 654.5L556.4 654.1M562.7 651.1L556.4 654.1L562.6 657.4M590.9 654.5L574.8 654.2M581.0 651.2L574.8 654.2L580.9 657.5M609.1 654.5L593.4 654.3M599.4 651.3L593.4 654.3L599.4 657.4M627.2 654.5L612.2 654.4M618.0 651.5L612.2 654.4L617.9 657.3M645.4 654.5L631.2 654.5M636.6 651.7L631.2 654.5L636.6 657.2M663.6 654.5L650.5 652.7M655.9 650.8L650.5 652.7L655.2 655.9M681.8 654.5L669.9 651.3M675.1 650.2L669.9 651.3L673.8 654.8M699.9 654.5L689.1 650.5M694.1 649.9L689.1 650.5L692.5 654.1M718.1 654.5L708.4 649.9M713.0 649.7L708.4 649.9L711.2 653.5M736.3 654.5L727.4 649.3M731.8 649.5L727.4 649.3L729.8 653.0M754.5 654.5L746.0 649.4M750.2 649.7L746.0 649.4L748.3 653.0M772.6 654.5L764.5 649.5M768.6 649.8L764.5 649.5L766.6 653.0M790.8 654.5L782.9 649.5M786.9 649.9L782.9 649.5L785.0 652.9M9.3 672.6L-1.2 680.9M1.2 675.6L-1.2 680.9L4.4 679.8M27.5 672.6L16.1 681.3M18.8 675.7L16.1 681.3L22.1 680.2M45.7 672.6L33.4 681.7M36.3 675.8L33.4 681.7L39.9 680.6M63.8 672.6L50.7 682.0M53.9 675.9L50.7 682.0L57.6 681.0M82.0 672.6L68.2 682.2M71.6 675.8L68.2 682.2L75.4 681.2M100.2 672.6L86.0 682.2M89.6 675.7L86.0 682.2L93.3 681.3M118.4 672.6L103.9 682.0M107.6 675.6L103.9 682.0L111.3 681.3M136.5 672.6L121.7 681.9M125.6 675.4L121.7 681.9L129.2 681.2M154.7 672.6L138.9 680.7M143.4 674.5L138.9 680.7L146.5 680.7M172.9 672.6L156.5 679.3M161.4 673.5L156.5 679.3L164.0 679.9M191.1 672.6L174.2 678.8M179.5 673.1L174.2 678.8L181.9 679.7M209.2 672.6L192.2 678.2M197.6 672.7L192.2 678.2L199.8 679.4M227.4 672.6L210.4 676.9M216.1 671.9L210.4 676.9L217.8 678.5M245.6 672.6L228.8 675.6M234.6 671.2L228.8 675.6L235.8 677.7M263.8 672.6L247.2 674.4M253.2 670.5L247.2 674.4L253.9 676.9M281.9 672.6L265.8 673.8M271.8 670.2L265.8 673.8L272.2 676.5M300.1 672.6L284.4 673.2M290.3 669.9L284.4 673.2L290.5 676.0M318.3 672.6L303.0 672.9M308.8 669.8L303.0 672.9L308.9 675.8M336.5 672.6L321.9 672.6M327.5 669.8L321.9 672.6L327.5 675.5M354.6 672.6L340.5 672.6M345.9 669.8L340.5 672.6L345.9 675.3M372.8 672.6L359.2 672.5M364.4 669.9L359.2 672.5L364.4 675.2M391.0 672.6L377.6 672.5M382.7 669.9L377.6 672.5L382.7 675.1M409.2 672.6L396.0 672.4M401.1 669.9L396.0 672.4L401.0 675.1M427.3 672.6L414.4 672.4M419.4 669.9L414.4 672.4L419.3 675.0M445.5 672.6L433.5 672.3M438.2 670.1L433.5 672.3L438.1 674.8M463.7 672.6L452.2 672.3M456.6 670.2L452.2 672.3L456.5 674.7M481.9 672.6L470.1 672.3M474.7 670.1L470.1 672.3L474.5 674.7M500.0 672.6L487.6 672.2M492.4 669.9L487.6 672.2L492.3 674.8M518.2 672.6L504.6 672.2M509.9 669.7L504.6 672.2L509.7 675.0M536.4 672.6L522.1 672.3M527.6 669.6L522.1 672.3L527.5 675.2M554.5 672.6L539.8 672.3M545.5 669.5L539.8 672.3L545.4 675.3M572.7 672.6L558.0 672.4M563.7 669.6L558.0 672.4L563.6 675.3M590.9 672.6L576.1 672.4M581.8 669.6L576.1 672.4L581.8 675.4M609.1 672.6L594.8 672.5M600.3 669.8L594.8 672.5L600.2 675.3M627.2 672.6L613.5 672.6M618.8 669.9L613.5 672.6L618.8 675.3M645.4 672.6L632.6 672.6M637.5 670.1L632.6 672.6L637.5 675.1M663.6 672.6L651.9 671.1M656.7 669.4L651.9 671.1L656.1 674.0M681.8 672.6L671.3 669.8M675.9 668.8L671.3 669.8L674.8 672.9M699.9 672.6L690.4 669.2M694.7 668.6L690.4 669.2L693.4 672.3M718.1 672.6L709.5 668.6M713.6 668.4L709.5 668.6L712.0 671.8M736.3 672.6L728.4 668.1M732.3 668.3L728.4 668.1L730.6 671.4M754.5 672.6L747.5 667.2M751.2 667.9L747.5 667.2L749.1 670.6M772.6 672.6L766.1 667.1M769.7 667.9L766.1 667.1L767.5 670.5M790.8 672.6L784.4 666.9M788.0 667.8L784.4 666.9L785.8 670.3M9.3 690.8L0.0 699.1M2.0 694.1L0.0 699.1L5.2 697.7M27.5 690.8L17.3 699.5M19.5 694.2L17.3 699.5L22.9 698.2M45.7 690.8L34.6 699.8M37.0 694.2L34.6 699.8L40.6 698.5M63.8 690.8L51.8 700.1M54.6 694.2L51.8 700.1L58.2 698.9M82.0 690.8L69.2 700.2M72.3 694.1L69.2 700.2L75.9 699.1M100.2 690.8L86.8 700.2M90.1 694.0L86.8 700.2L93.7 699.2M118.4 690.8L104.6 700.1M108.1 693.8L104.6 700.1L111.7 699.2M136.5 690.8L122.6 699.8M126.2 693.7L122.6 699.8L129.7 699.1M154.7 690.8L140.0 699.0M144.0 693.0L140.0 699.0L147.2 698.7M172.9 690.8L157.5 697.6M162.1 692.0L157.5 697.6L164.7 698.0M191.1 690.8L175.2 697.2M180.1 691.7L175.2 697.2L182.5 697.8M209.2 690.8L193.1 696.3M198.2 691.1L193.1 696.3L200.4 697.4M227.4 690.8L211.2 695.4M216.5 690.5L211.2 695.4L218.3 696.8M245.6 690.8L229.6 694.5M235.0 690.0L229.6 694.5L236.5 696.2M263.8 690.8L248.1 693.6M253.5 689.4L248.1 693.6L254.6 695.6M281.9 690.8L266.6 692.7M272.1 689.0L266.6 692.7L272.8 695.0M300.1 690.8L285.1 691.8M290.7 688.5L285.1 691.8L291.1 694.4M318.3 690.8L304.0 691.4M309.3 688.4L304.0 691.4L309.6 694.0M336.5 690.8L322.8 691.0M328.0 688.3L322.8 691.0L328.1 693.6M354.6 690.8L341.5 691.1M346.5 688.4L341.5 691.1L346.6 693.5M372.8 690.8L360.1 691.1M364.9 688.5L360.1 691.1L365.0 693.4M391.0 690.8L378.8 691.1M383.4 688.6L378.8 691.1L383.5 693.4M409.2 690.8L397.2 691.1M401.7 688.6L397.2 691.1L401.8 693.3M427.3 690.8L415.8 691.1M420.2 688.7L415.8 691.1L420.3 693.2M445.5 690.8L435.0 691.1M438.9 688.9L435.0 691.1L439.1 693.0M463.7 690.8L453.6 691.1M457.4 689.0L453.6 691.1L457.5 693.0M481.9 690.8L471.8 691.1M475.6 689.0L471.8 691.1L475.7 693.0M500.0 690.8L489.2 691.2M493.3 688.9L489.2 691.2L493.5 693.1M518.2 690.8L506.2 691.1M510.7 688.7L506.2 691.1L510.9 693.4M536.4 690.8L523.7 691.1M528.5 688.5L523.7 691.1L528.6 693.5M554.5 690.8L541.4 691.0M546.4 688.4L541.4 691.0L546.5 693.5M572.7 690.8L559.3 691.0M564.4 688.3L559.3 691.0L564.5 693.5M590.9 690.8L577.5 690.9M582.6 688.2L577.5 690.9L582.7 693.5M609.1 690.8L596.0 690.8M601.0 688.3L596.0 690.8L601.0 693.3M627.2 690.8L614.7 690.3M619.6 688.0L614.7 690.3L619.4 692.9M645.4 690.8L633.8 689.8M638.5 687.9L633.8 689.8L638.1 692.4M663.6 690.8L653.1 689.0M657.5 687.6L653.1 689.0L656.8 691.7M681.8 690.8L672.4 688.3M676.5 687.4L672.4 688.3L675.5 691.1M699.9 690.8L691.3 688.1M695.1 687.4L691.3 688.1L694.1 690.8M718.1 690.8L710.1 687.9M713.7 687.4L710.1 687.9L712.6 690.6M736.3 690.8L729.3 686.3M732.9 686.6L729.3 686.3L731.1 689.4M754.5 690.8L747.8 686.2M751.3 686.7L747.8 686.2L749.5 689.3M772.6 690.8L766.1 686.0M769.6 686.6L766.1 686.0L767.7 689.1M790.8 690.8L784.3 685.7M787.8 686.4L784.3 685.7L785.8 688.9M9.3 709.0L1.0 717.6M2.5 712.7L1.0 717.6L5.8 715.9M27.5 709.0L18.4 717.8M20.1 712.6L18.4 717.8L23.6 716.2M45.7 709.0L35.5 718.1M37.6 712.6L35.5 718.1L41.2 716.6M63.8 709.0L52.7 718.3M55.1 712.6L52.7 718.3L58.8 716.9M82.0 709.0L70.0 718.4M72.8 712.4L70.0 718.4L76.4 717.1M100.2 709.0L87.5 718.2M90.5 712.2L87.5 718.2L94.1 717.1M118.4 709.0L105.3 718.1M108.5 712.1L105.3 718.1L112.1 717.1M136.5 709.0L123.3 717.9M126.6 711.9L123.3 717.9L130.1 717.0M154.7 709.0L140.7 717.0M144.5 711.2L140.7 717.0L147.7 716.7M172.9 709.0L158.2 715.8M162.5 710.3L158.2 715.8L165.2 716.0M191.1 709.0L176.0 715.4M180.5 710.0L176.0 715.4L183.0 715.9M209.2 709.0L193.8 714.3M198.6 709.2L193.8 714.3L200.7 715.3M227.4 709.0L212.0 713.7M217.0 708.9L212.0 713.7L218.8 714.9M245.6 709.0L230.4 712.9M235.4 708.4L230.4 712.9L237.0 714.4M263.8 709.0L248.9 712.1M253.9 708.0L248.9 712.1L255.2 713.8M281.9 709.0L267.3 711.3M272.5 707.6L267.3 711.3L273.4 713.2M300.1 709.0L285.9 710.5M291.0 707.1L285.9 710.5L291.6 712.7M318.3 709.0L304.7 709.9M309.7 706.9L304.7 709.9L310.1 712.2M336.5 709.0L323.5 709.4M328.4 706.7L323.5 709.4L328.6 711.8M354.6 709.0L342.2 709.3M346.9 706.8L342.2 709.3L347.0 711.6M372.8 709.0L360.8 709.2M365.4 706.8L360.8 709.2L365.5 711.5M391.0 709.0L379.5 709.1M383.8 706.8L379.5 709.1L383.9 711.3M409.2 709.0L398.1 709.1M402.3 706.9L398.1 709.1L402.4 711.2M427.3 709.0L417.0 709.0M421.0 707.0L417.0 709.0L421.0 711.0M445.5 709.0L437.0 712.1M439.6 709.2L437.0 712.1L440.8 712.6M463.7 709.0L455.6 711.8M458.1 709.2L455.6 711.8L459.2 712.3M481.9 709.0L473.7 711.7M476.3 709.1L473.7 711.7L477.4 712.3M500.0 709.0L491.2 711.9M494.0 709.1L491.2 711.9L495.1 712.5M518.2 709.0L508.2 712.2M511.4 709.0L508.2 712.2L512.6 712.9M536.4 709.0L525.6 712.3M529.1 708.9L525.6 712.3L530.4 713.1M554.5 709.0L543.3 712.3M547.0 708.8L543.3 712.3L548.3 713.2M572.7 709.0L561.2 712.3M565.0 708.8L561.2 712.3L566.3 713.3M590.9 709.0L578.7 709.4M583.3 706.9L578.7 709.4L583.5 711.6M609.1 709.0L597.2 709.1M601.7 706.7L597.2 709.1L601.8 711.4M627.2 709.0L615.9 708.8M620.3 706.7L615.9 708.8L620.2 711.1M645.4 709.0L634.9 708.6M639.0 706.7L634.9 708.6L638.8 710.8M663.6 709.0L654.3 706.5M658.3 705.6L654.3 706.5L657.4 709.3M681.8 709.0L674.7 703.4M678.5 704.2L674.7 703.4L676.3 706.9M699.9 709.0L693.4 703.4M697.0 704.3L693.4 703.4L694.8 706.9M718.1 709.0L711.9 703.4M715.4 704.3L711.9 703.4L713.2 706.7M736.3 709.0L731.5 702.4M734.6 704.0L731.5 702.4L732.1 705.9M754.5 709.0L749.9 702.3M752.9 704.0L749.9 702.3L750.3 705.8M772.6 709.0L768.2 702.2M771.2 703.9L768.2 702.2L768.6 705.7M790.8 709.0L786.4 701.9M789.5 703.8L786.4 701.9L786.7 705.5M9.3 727.1L1.9 736.0M3.0 731.1L1.9 736.0L6.5 734.0M27.5 727.1L19.2 736.1M20.6 731.1L19.2 736.1L24.1 734.3M45.7 727.1L36.3 736.4M38.1 731.0L36.3 736.4L41.7 734.7M63.8 727.1L53.4 736.6M55.5 730.9L53.4 736.6L59.2 735.0M82.0 727.1L70.6 736.6M73.1 730.7L70.6 736.6L76.8 735.2M100.2 727.1L88.2 736.2M91.0 730.4L88.2 736.2L94.5 735.1M118.4 727.1L106.0 736.1M109.0 730.3L106.0 736.1L112.5 735.1M136.5 727.1L124.0 735.9M127.1 730.1L124.0 735.9L130.5 735.0M154.7 727.1L141.4 735.1M145.0 729.5L141.4 735.1L148.1 734.6M172.9 727.1L159.0 733.9M163.0 728.6L159.0 733.9L165.6 734.0M191.1 727.1L176.7 733.5M181.0 728.3L176.7 733.5L183.5 733.9M209.2 727.1L194.6 732.8M199.1 727.8L194.6 732.8L201.3 733.5M227.4 727.1L212.7 731.9M217.4 727.2L212.7 731.9L219.3 733.0M245.6 727.1L230.9 731.2M235.7 726.8L230.9 731.2L237.3 732.5M263.8 727.1L249.4 730.5M254.2 726.4L249.4 730.5L255.5 732.0M281.9 727.1L267.8 729.6M272.7 725.9L267.8 729.6L273.7 731.4M300.1 727.1L286.4 728.8M291.3 725.5L286.4 728.8L291.9 730.9M318.3 727.1L305.2 728.3M310.0 725.3L305.2 728.3L310.4 730.4M336.5 727.1L324.0 727.8M328.7 725.1L324.0 727.8L328.9 730.0M354.6 727.1L342.7 727.7M347.1 725.1L342.7 727.7L347.3 729.8M372.8 727.1L361.1 727.5M365.5 725.1L361.1 727.5L365.6 729.7M391.0 727.1L380.0 727.4M384.1 725.1L380.0 727.4L384.2 729.4M409.2 727.1L398.9 727.3M402.8 725.2L398.9 727.3L402.8 729.2M427.3 727.1L417.8 727.1M421.4 725.3L417.8 727.1L421.4 729.0M445.5 727.1L437.9 730.7M440.2 727.8L437.9 730.7L441.5 730.8M463.7 727.1L456.5 730.4M458.6 727.7L456.5 730.4L459.9 730.5M481.9 727.1L474.4 730.4M476.6 727.7L474.4 730.4L477.9 730.6M500.0 727.1L491.9 730.6M494.3 727.7L491.9 730.6L495.7 730.9M518.2 727.1L508.9 730.9M511.7 727.7L508.9 730.9L513.2 731.3M536.4 727.1L526.6 731.0M529.6 727.6L526.6 731.0L531.1 731.4M554.5 727.1L544.2 731.0M547.4 727.5L544.2 731.0L549.0 731.6M572.7 727.1L562.1 731.0M565.4 727.5L562.1 731.0L566.9 731.6M590.9 727.1L579.4 728.0M583.7 725.4L579.4 728.0L584.0 729.9M609.1 727.1L597.9 727.5M602.1 725.2L597.9 727.5L602.3 729.6M627.2 727.1L616.6 727.1M620.7 725.1L616.6 727.1L620.7 729.2M645.4 727.1L635.4 726.8M639.3 725.0L635.4 726.8L639.2 728.9M663.6 727.1L655.5 722.5M659.5 722.7L655.5 722.5L657.7 725.8M681.8 727.1L675.4 721.0M679.0 722.1L675.4 721.0L676.6 724.6M699.9 727.1L694.0 721.0M697.5 722.2L694.0 721.0L695.1 724.5M718.1 727.1L712.5 721.0M715.9 722.2L712.5 721.0L713.5 724.4M736.3 727.1L732.1 719.9M735.1 721.9L732.1 719.9L732.3 723.5M754.5 727.1L750.4 719.9M753.4 721.9L750.4 719.9L750.5 723.5M772.6 727.1L768.7 719.8M771.6 721.9L768.7 719.8L768.8 723.4M790.8 727.1L786.8 719.6M789.8 721.7L786.8 719.6L786.9 723.3M9.3 745.3L2.4 754.2M3.3 749.4L2.4 754.2L6.8 752.2M27.5 745.3L19.6 754.4M20.9 749.4L19.6 754.4L24.4 752.4M45.7 745.3L36.8 754.4M38.4 749.2L36.8 754.4L42.0 752.7M63.8 745.3L53.9 754.6M55.9 749.1L53.9 754.6L59.5 753.0M82.0 745.3L71.2 754.4M73.6 748.8L71.2 754.4L77.1 753.0M100.2 745.3L88.7 753.9M91.4 748.4L88.7 753.9L94.8 752.9M118.4 745.3L106.6 753.9M109.4 748.3L106.6 753.9L112.8 752.9M136.5 745.3L124.6 753.7M127.5 748.1L124.6 753.7L130.8 752.8M154.7 745.3L142.2 753.2M145.4 747.7L142.2 753.2L148.5 752.6M172.9 745.3L159.7 752.0M163.4 746.9L159.7 752.0L166.1 752.0M191.1 745.3L177.5 751.7M181.4 746.6L177.5 751.7L183.9 751.9M209.2 745.3L195.4 751.2M199.6 746.2L195.4 751.2L201.9 751.6M227.4 745.3L213.2 750.2M217.7 745.6L213.2 750.2L219.6 751.1M245.6 745.3L231.4 749.5M236.0 745.1L231.4 749.5L237.7 750.7M263.8 745.3L249.9 748.8M254.5 744.7L249.9 748.8L255.9 750.2M281.9 745.3L268.3 748.0M273.0 744.3L268.3 748.0L274.1 749.6M300.1 745.3L286.8 747.2M291.6 743.9L286.8 747.2L292.3 749.1M318.3 745.3L305.6 746.5M310.2 743.6L305.6 746.5L310.7 748.5M336.5 745.3L324.3 746.0M328.8 743.3L324.3 746.0L329.1 748.1M354.6 745.3L342.7 745.8M347.1 743.3L342.7 745.8L347.3 748.0M372.8 745.3L361.1 745.7M365.5 743.3L361.1 745.7L365.6 747.8M391.0 745.3L380.0 745.6M384.1 743.3L380.0 745.6L384.2 747.6M409.2 745.3L398.9 745.4M402.8 743.4L398.9 745.4L402.8 747.4M427.3 745.3L418.0 745.3M421.6 743.5L418.0 745.3L421.6 747.1M445.5 745.3L437.7 748.2M440.1 745.6L437.7 748.2L441.2 748.6M463.7 745.3L456.1 748.0M458.4 745.5L456.1 748.0L459.5 748.5M481.9 745.3L474.2 747.9M476.6 745.4L474.2 747.9L477.6 748.4M500.0 745.3L491.9 748.0M494.5 745.4L491.9 748.0L495.5 748.6M518.2 745.3L508.9 748.3M511.9 745.3L508.9 748.3L513.0 749.0M536.4 745.3L526.5 748.4M529.7 745.3L526.5 748.4L530.9 749.1M554.5 745.3L544.2 748.4M547.6 745.2L544.2 748.4L548.8 749.2M572.7 745.3L562.1 748.4M565.6 745.1L562.1 748.4L566.8 749.3M590.9 745.3L579.6 745.7M583.9 743.4L579.6 745.7L584.0 747.8M609.1 745.3L598.1 745.3M602.3 743.2L598.1 745.3L602.3 747.5M627.2 745.3L616.7 745.0M620.8 743.0L616.7 745.0L620.7 747.1M645.4 745.3L635.5 744.6M639.4 742.9L635.5 744.6L639.1 746.8M663.6 745.3L655.8 739.9M659.9 740.4L655.8 739.9L657.7 743.5M681.8 745.3L675.8 738.5M679.4 739.9L675.8 738.5L676.7 742.3M699.9 745.3L694.3 738.5M697.8 740.0L694.3 738.5L695.2 742.2M718.1 745.3L712.8 738.6M716.2 740.1L712.8 738.6L713.5 742.2M736.3 745.3L732.5 737.6M735.5 739.8L732.5 737.6L732.5 741.3M754.5 745.3L750.8 737.5M753.8 739.8L750.8 737.5L750.7 741.2M772.6 745.3L769.2 737.5M772.0 739.8L769.2 737.5L769.0 741.2M790.8 745.3L787.4 737.2M790.3 739.6L787.4 737.2L787.1 741.0M9.3 763.5L2.8 772.4M3.6 767.7L2.8 772.4L7.0 770.3M27.5 763.5L20.1 772.6M21.1 767.7L20.1 772.6L24.7 770.6M45.7 763.5L37.3 772.7M38.7 767.5L37.3 772.7L42.3 770.8M63.8 763.5L54.4 772.7M56.2 767.3L54.4 772.7L59.8 771.0M82.0 763.5L71.8 772.5M73.9 767.0L71.8 772.5L77.4 771.0M100.2 763.5L89.3 772.0M91.8 766.6L89.3 772.0L95.1 770.9M118.4 763.5L107.1 772.0M109.8 766.5L107.1 772.0L113.1 770.9M136.5 763.5L125.1 771.8M127.9 766.4L125.1 771.8L131.1 770.8M154.7 763.5L142.6 771.1M145.7 765.8L142.6 771.1L148.7 770.5M172.9 763.5L160.1 770.0M163.7 765.0L160.1 770.0L166.3 770.0M191.1 763.5L177.9 769.6M181.7 764.7L177.9 769.6L184.1 769.9M209.2 763.5L195.8 769.2M199.9 764.4L195.8 769.2L202.1 769.6M227.4 763.5L213.7 768.5M218.0 763.9L213.7 768.5L219.9 769.2M245.6 763.5L231.9 767.8M236.3 763.5L231.9 767.8L238.0 768.8M263.8 763.5L250.1 767.1M254.6 763.1L250.1 767.1L256.1 768.4M281.9 763.5L268.6 766.3M273.2 762.6L268.6 766.3L274.3 767.8M300.1 763.5L287.1 765.6M291.7 762.2L287.1 765.6L292.5 767.3M318.3 763.5L305.9 764.9M310.4 762.0L305.9 764.9L310.9 766.8M336.5 763.5L324.5 764.3M328.9 761.7L324.5 764.3L329.2 766.3M354.6 763.5L342.7 764.2M347.1 761.6L342.7 764.2L347.4 766.2M372.8 763.5L360.8 764.0M365.3 761.5L360.8 764.0L365.5 766.1M391.0 763.5L379.7 763.8M384.0 761.5L379.7 763.8L384.1 765.9M409.2 763.5L398.9 763.6M402.8 761.6L398.9 763.6L402.8 765.6M427.3 763.5L417.8 763.5M421.4 761.6L417.8 763.5L421.4 765.4M445.5 763.5L437.2 765.7M440.0 763.3L437.2 765.7L440.8 766.5M463.7 763.5L455.6 765.5M458.3 763.2L455.6 765.5L459.1 766.3M481.9 763.5L473.5 765.4M476.3 763.1L473.5 765.4L477.1 766.3M500.0 763.5L491.4 765.3M494.3 762.9L491.4 765.3L495.1 766.3M518.2 763.5L508.6 765.4M511.9 762.8L508.6 765.4L512.6 766.5M536.4 763.5L526.2 765.3M529.8 762.6L526.2 765.3L530.5 766.6M554.5 763.5L543.9 765.2M547.7 762.5L543.9 765.2L548.3 766.6M572.7 763.5L561.8 765.0M565.7 762.3L561.8 765.0L566.3 766.6M590.9 763.5L580.1 761.2M584.7 760.0L580.1 761.2L583.8 764.2M609.1 763.5L598.6 760.8M603.1 759.8L598.6 760.8L602.1 763.9M627.2 763.5L617.2 760.4M621.7 759.6L617.2 760.4L620.4 763.5M645.4 763.5L636.0 760.1M640.3 759.5L636.0 760.1L638.9 763.2M663.6 763.5L656.8 756.7M660.7 758.0L656.8 756.7L658.1 760.6M681.8 763.5L676.3 755.9M679.9 757.8L676.3 755.9L676.9 759.9M699.9 763.5L694.9 756.0M698.3 757.9L694.9 756.0L695.3 759.8M718.1 763.5L713.4 756.0M716.7 758.0L713.4 756.0L713.8 759.8M736.3 763.5L733.1 755.3M736.0 757.8L733.1 755.3L732.7 759.0M754.5 763.5L751.5 755.2M754.2 757.8L751.5 755.2L751.0 759.0M772.6 763.5L769.8 755.2M772.5 757.8L769.8 755.2L769.2 758.9M790.8 763.5L788.0 754.9M790.8 757.6L788.0 754.9L787.4 758.7" fill="none" stroke="#fff" stroke-width="1" shape-rendering="crispEdges"/>
<g fill="#808080" shape-rendering="crispEdges">
<rect x="9" y="27" width="1" height="746"/>
<rect x="81" y="27" width="1" height="746"/>
<rect x="154" y="27" width="1" height="746"/>
<rect x="227" y="27" width="1" height="746"/>
<rect x="299" y="27" width="1" height="746"/>
<rect x="372" y="27" width="1" height="746"/>
<rect x="445" y="27" width="1" height="746"/>
<rect x="518" y="27" width="1" height="746"/>
<rect x="590" y="27" width="1" height="746"/>
<rect x="663" y="27" width="1" height="746"/>
<rect x="736" y="27" width="1" height="746"/>
<rect x="0" y="36" width="800" height="1"/>
<rect x="0" y="109" width="800" height="1"/>
<rect x="0" y="181" width="800" height="1"/>
<rect x="0" y="254" width="800" height="1"/>
<rect x="0" y="327" width="800" height="1"/>
<rect x="0" y="400" width="800" height="1"/>
<rect x="0" y="472" width="800" height="1"/>
<rect x="0" y="545" width="800" height="1"/>
<rect x="0" y="618" width="800" height="1"/>
<rect x="0" y="690" width="800" height="1"/>
<rect x="0" y="763" width="800" height="1"/>
</g>
<g fill="none" stroke="#000" stroke-width="1" stroke-linejoin="round" clip-path="url(#pc)">
<polyline points="241.0,28.0 234.4,31.6 237.0,35.0 235.0,50.0 229.0,60.0 224.0,68.0 229.0,76.0 227.0,86.0 224.0,95.0 217.0,97.0 212.4,101.0 217.0,107.0 216.6,114.0 213.4,120.0 220.6,130.0 212.4,142.0"/>
<polyline points="212.4,142.0 211.6,152.0 213.6,166.0 215.6,170.0 217.6,175.0 216.0,180.0 216.6,185.0 211.0,189.0 197.0,188.0 196.0,190.0 197.6,196.0 196.4,202.0 192.0,207.0 189.0,216.0 187.4,228.0 188.0,236.0 193.0,244.0 195.0,254.0 199.0,260.0 200.0,267.0 193.0,274.0 185.6,275.0 194.0,281.0 190.4,286.0 193.0,292.0 201.0,297.0 207.0,303.0 218.0,308.0 228.0,312.0 240.0,315.0 255.0,322.0 270.0,332.5 282.0,343.0 289.5,353.5 291.0,361.0 283.5,370.0 274.5,379.0 271.5,389.5 274.5,400.0 283.5,412.0 296.0,421.5 305.0,426.5 315.5,423.5 320.0,425.0 322.4,435.0 324.5,453.0 323.0,466.0 314.0,477.5 305.0,489.5 297.5,501.5 287.0,512.0 275.0,521.0 264.5,533.0 261.0,543.5 261.0,552.5 254.0,557.0 239.0,564.5 224.0,572.0 212.0,577.5 199.7,581.5 182.7,587.0 156.0,593.5 129.0,599.5 106.0,603.5 82.0,607.8 42.5,613.5 18.0,615.5 0.0,617.0"/>
<polyline points="212.4,143.0 217.0,158.0 218.0,168.0 223.0,172.0 223.6,175.0 221.0,184.0 215.0,189.0 203.0,189.4 201.0,191.0 201.6,204.0 197.0,211.0 198.6,215.0 195.6,221.0 197.0,236.0 198.0,247.0 203.0,253.0 209.0,259.0 213.0,264.0 220.0,268.0 228.0,275.0 235.0,281.0 239.0,289.0 244.0,289.0 254.0,285.0 260.0,288.0 272.0,285.6 288.0,286.6 296.0,292.0 300.0,295.0 308.0,302.4 318.0,306.0 327.0,308.0 334.0,309.6 342.0,309.0 345.6,312.0 342.6,315.0 348.0,319.0 354.0,320.0 357.0,318.6 360.0,321.6 366.0,319.6 373.0,317.0 380.0,312.4 388.0,310.0 394.0,309.6 400.0,309.6 406.0,312.0 418.0,312.4 422.0,314.4 425.0,318.0 430.0,320.0 440.0,318.5 445.0,320.0 449.0,325.0 460.0,321.0 470.0,317.0 480.0,313.0 492.0,308.0 498.0,304.0 494.0,303.0 493.6,300.0 497.0,299.6 499.6,296.6 495.0,295.4 500.0,296.0 500.0,300.0 499.6,303.6 507.0,303.4 509.0,300.0 520.0,292.0 528.0,286.0 535.0,281.0 534.0,278.0 538.0,271.0 544.0,265.0 552.0,259.0 555.0,246.0 558.0,240.0 562.0,236.0 570.0,231.0 580.0,224.0 590.0,216.0 598.0,211.0 606.0,204.0 614.0,196.0 620.0,188.0 624.0,178.0 628.0,170.0 631.0,162.0 634.0,152.0 638.0,140.0 644.0,132.0 650.0,125.0 656.0,120.0 664.0,113.0 672.0,106.0 684.0,97.0 696.0,88.0 708.0,80.0 720.0,71.0 730.0,63.0 740.0,53.0 752.0,40.0 764.0,28.0"/>
<polyline points="408.8,27.5 417.5,36.0 421.0,45.0 427.5,54.0 437.5,59.0 444.0,56.0 452.5,65.0 465.0,69.0 475.0,72.5 484.0,79.0 490.0,87.5 500.0,96.0 508.0,102.0 512.5,100.0 519.0,104.0 525.0,105.0 529.0,110.5 536.0,113.0 537.5,120.0 542.5,125.0 544.0,134.0 551.0,142.0 560.0,149.0 570.0,153.0 577.0,155.0 583.0,162.0 577.0,167.0 570.0,173.0 568.0,179.0 560.0,183.0 554.0,188.0 551.6,196.0 552.4,206.0 552.0,220.0 551.6,228.0 554.0,232.0 559.0,233.0 562.0,236.0"/>
<polyline points="701.0,28.0 700.0,34.0 703.6,39.0 703.0,42.0 697.0,44.0 691.0,46.0 689.0,53.0 687.0,56.0 676.0,57.0 668.0,60.0 664.0,65.0 661.0,70.0 659.0,75.0 661.0,77.0 660.0,80.0 657.0,80.0 657.0,77.0 659.0,75.0"/>
<polyline points="657.0,80.0 656.0,88.0 649.0,89.0 647.0,94.0 648.0,99.0 645.0,102.0 649.0,106.0 645.0,109.0 645.0,113.0 652.0,115.0 658.0,120.0 660.0,116.0 657.0,112.0 654.0,112.0 656.0,116.0"/>
<polyline points="738.0,28.0 737.0,40.0 739.0,45.0 735.0,41.0 728.0,41.0 725.0,45.0 725.0,52.0 722.0,63.0 716.0,70.0 709.0,74.0 705.0,72.0 704.0,75.0 700.0,78.0 702.0,81.0 698.0,80.0 694.0,86.0 686.0,93.0 680.0,95.0 676.0,94.4 677.0,96.0 668.0,97.0 660.0,95.6 657.6,98.0 659.0,100.0 672.0,100.0 670.0,104.0 664.0,110.0 660.0,116.0"/>
<polyline points="366.0,43.0 374.4,42.1 380.0,42.5 383.0,41.0 387.0,38.4 390.0,34.6 392.5,32.5 397.0,32.0 398.0,30.0 397.0,28.0"/>
</g>
<g fill="#000" shape-rendering="crispEdges">
<rect x="0" y="27" width="800" height="1"/>
<rect x="0" y="27" width="1" height="746"/>
<rect x="1" y="27" width="1" height="746" fill-opacity="0.45"/>
<rect x="2" y="27" width="1" height="4"/>
<rect x="2" y="769" width="1" height="4"/>
<rect x="9" y="27" width="1" height="18"/>
<rect x="9" y="757" width="1" height="16"/>
<rect x="16" y="27" width="1" height="4"/>
<rect x="16" y="769" width="1" height="4"/>
<rect x="23" y="27" width="1" height="4"/>
<rect x="23" y="769" width="1" height="4"/>
<rect x="31" y="27" width="1" height="4"/>
<rect x="31" y="769" width="1" height="4"/>
<rect x="38" y="27" width="1" height="4"/>
<rect x="38" y="769" width="1" height="4"/>
<rect x="45" y="27" width="1" height="9"/>
<rect x="45" y="764" width="1" height="9"/>
<rect x="52" y="27" width="1" height="4"/>
<rect x="52" y="769" width="1" height="4"/>
<rect x="60" y="27" width="1" height="4"/>
<rect x="60" y="769" width="1" height="4"/>
<rect x="67" y="27" width="1" height="4"/>
<rect x="67" y="769" width="1" height="4"/>
<rect x="74" y="27" width="1" height="4"/>
<rect x="74" y="769" width="1" height="4"/>
<rect x="81" y="27" width="1" height="18"/>
<rect x="81" y="757" width="1" height="16"/>
<rect x="89" y="27" width="1" height="4"/>
<rect x="89" y="769" width="1" height="4"/>
<rect x="96" y="27" width="1" height="4"/>
<rect x="96" y="769" width="1" height="4"/>
<rect x="103" y="27" width="1" height="4"/>
<rect x="103" y="769" width="1" height="4"/>
<rect x="111" y="27" width="1" height="4"/>
<rect x="111" y="769" width="1" height="4"/>
<rect x="118" y="27" width="1" height="9"/>
<rect x="118" y="764" width="1" height="9"/>
<rect x="125" y="27" width="1" height="4"/>
<rect x="125" y="769" width="1" height="4"/>
<rect x="132" y="27" width="1" height="4"/>
<rect x="132" y="769" width="1" height="4"/>
<rect x="140" y="27" width="1" height="4"/>
<rect x="140" y="769" width="1" height="4"/>
<rect x="147" y="27" width="1" height="4"/>
<rect x="147" y="769" width="1" height="4"/>
<rect x="154" y="27" width="1" height="18"/>
<rect x="154" y="757" width="1" height="16"/>
<rect x="161" y="27" width="1" height="4"/>
<rect x="161" y="769" width="1" height="4"/>
<rect x="169" y="27" width="1" height="4"/>
<rect x="169" y="769" width="1" height="4"/>
<rect x="176" y="27" width="1" height="4"/>
<rect x="176" y="769" width="1" height="4"/>
<rect x="183" y="27" width="1" height="4"/>
<rect x="183" y="769" width="1" height="4"/>
<rect x="191" y="27" width="1" height="9"/>
<rect x="191" y="764" width="1" height="9"/>
<rect x="198" y="27" width="1" height="4"/>
<rect x="198" y="769" width="1" height="4"/>
<rect x="205" y="27" width="1" height="4"/>
<rect x="205" y="769" width="1" height="4"/>
<rect x="212" y="27" width="1" height="4"/>
<rect x="212" y="769" width="1" height="4"/>
<rect x="220" y="27" width="1" height="4"/>
<rect x="220" y="769" width="1" height="4"/>
<rect x="227" y="27" width="1" height="18"/>
<rect x="227" y="757" width="1" height="16"/>
<rect x="234" y="27" width="1" height="4"/>
<rect x="234" y="769" width="1" height="4"/>
<rect x="241" y="27" width="1" height="4"/>
<rect x="241" y="769" width="1" height="4"/>
<rect x="249" y="27" width="1" height="4"/>
<rect x="249" y="769" width="1" height="4"/>
<rect x="256" y="27" width="1" height="4"/>
<rect x="256" y="769" width="1" height="4"/>
<rect x="263" y="27" width="1" height="9"/>
<rect x="263" y="764" width="1" height="9"/>
<rect x="271" y="27" width="1" height="4"/>
<rect x="271" y="769" width="1" height="4"/>
<rect x="278" y="27" width="1" height="4"/>
<rect x="278" y="769" width="1" height="4"/>
<rect x="285" y="27" width="1" height="4"/>
<rect x="285" y="769" width="1" height="4"/>
<rect x="292" y="27" width="1" height="4"/>
<rect x="292" y="769" width="1" height="4"/>
<rect x="299" y="27" width="1" height="18"/>
<rect x="299" y="757" width="1" height="16"/>
<rect x="307" y="27" width="1" height="4"/>
<rect x="307" y="769" width="1" height="4"/>
<rect x="314" y="27" width="1" height="4"/>
<rect x="314" y="769" width="1" height="4"/>
<rect x="321" y="27" width="1" height="4"/>
<rect x="321" y="769" width="1" height="4"/>
<rect x="329" y="27" width="1" height="4"/>
<rect x="329" y="769" width="1" height="4"/>
<rect x="336" y="27" width="1" height="9"/>
<rect x="336" y="764" width="1" height="9"/>
<rect x="343" y="27" width="1" height="4"/>
<rect x="343" y="769" width="1" height="4"/>
<rect x="350" y="27" width="1" height="4"/>
<rect x="350" y="769" width="1" height="4"/>
<rect x="358" y="27" width="1" height="4"/>
<rect x="358" y="769" width="1" height="4"/>
<rect x="365" y="27" width="1" height="4"/>
<rect x="365" y="769" width="1" height="4"/>
<rect x="372" y="27" width="1" height="18"/>
<rect x="372" y="757" width="1" height="16"/>
<rect x="380" y="27" width="1" height="4"/>
<rect x="380" y="769" width="1" height="4"/>
<rect x="387" y="27" width="1" height="4"/>
<rect x="387" y="769" width="1" height="4"/>
<rect x="394" y="27" width="1" height="4"/>
<rect x="394" y="769" width="1" height="4"/>
<rect x="401" y="27" width="1" height="4"/>
<rect x="401" y="769" width="1" height="4"/>
<rect x="409" y="27" width="1" height="9"/>
<rect x="409" y="764" width="1" height="9"/>
<rect x="416" y="27" width="1" height="4"/>
<rect x="416" y="769" width="1" height="4"/>
<rect x="423" y="27" width="1" height="4"/>
<rect x="423" y="769" width="1" height="4"/>
<rect x="430" y="27" width="1" height="4"/>
<rect x="430" y="769" width="1" height="4"/>
<rect x="438" y="27" width="1" height="4"/>
<rect x="438" y="769" width="1" height="4"/>
<rect x="445" y="27" width="1" height="18"/>
<rect x="445" y="757" width="1" height="16"/>
<rect x="452" y="27" width="1" height="4"/>
<rect x="452" y="769" width="1" height="4"/>
<rect x="460" y="27" width="1" height="4"/>
<rect x="460" y="769" width="1" height="4"/>
<rect x="467" y="27" width="1" height="4"/>
<rect x="467" y="769" width="1" height="4"/>
<rect x="474" y="27" width="1" height="4"/>
<rect x="474" y="769" width="1" height="4"/>
<rect x="481" y="27" width="1" height="9"/>
<rect x="481" y="764" width="1" height="9"/>
<rect x="489" y="27" width="1" height="4"/>
<rect x="489" y="769" width="1" height="4"/>
<rect x="496" y="27" width="1" height="4"/>
<rect x="496" y="769" width="1" height="4"/>
<rect x="503" y="27" width="1" height="4"/>
<rect x="503" y="769" width="1" height="4"/>
<rect x="510" y="27" width="1" height="4"/>
<rect x="510" y="769" width="1" height="4"/>
<rect x="518" y="27" width="1" height="18"/>
<rect x="518" y="757" width="1" height="16"/>
<rect x="525" y="27" width="1" height="4"/>
<rect x="525" y="769" width="1" height="4"/>
<rect x="532" y="27" width="1" height="4"/>
<rect x="532" y="769" width="1" height="4"/>
<rect x="540" y="27" width="1" height="4"/>
<rect x="540" y="769" width="1" height="4"/>
<rect x="547" y="27" width="1" height="4"/>
<rect x="547" y="769" width="1" height="4"/>
<rect x="554" y="27" width="1" height="9"/>
<rect x="554" y="764" width="1" height="9"/>
<rect x="561" y="27" width="1" height="4"/>
<rect x="561" y="769" width="1" height="4"/>
<rect x="569" y="27" width="1" height="4"/>
<rect x="569" y="769" width="1" height="4"/>
<rect x="576" y="27" width="1" height="4"/>
<rect x="576" y="769" width="1" height="4"/>
<rect x="583" y="27" width="1" height="4"/>
<rect x="583" y="769" width="1" height="4"/>
<rect x="590" y="27" width="1" height="18"/>
<rect x="590" y="757" width="1" height="16"/>
<rect x="598" y="27" width="1" height="4"/>
<rect x="598" y="769" width="1" height="4"/>
<rect x="605" y="27" width="1" height="4"/>
<rect x="605" y="769" width="1" height="4"/>
<rect x="612" y="27" width="1" height="4"/>
<rect x="612" y="769" width="1" height="4"/>
<rect x="619" y="27" width="1" height="4"/>
<rect x="619" y="769" width="1" height="4"/>
<rect x="627" y="27" width="1" height="9"/>
<rect x="627" y="764" width="1" height="9"/>
<rect x="634" y="27" width="1" height="4"/>
<rect x="634" y="769" width="1" height="4"/>
<rect x="641" y="27" width="1" height="4"/>
<rect x="641" y="769" width="1" height="4"/>
<rect x="649" y="27" width="1" height="4"/>
<rect x="649" y="769" width="1" height="4"/>
<rect x="656" y="27" width="1" height="4"/>
<rect x="656" y="769" width="1" height="4"/>
<rect x="663" y="27" width="1" height="18"/>
<rect x="663" y="757" width="1" height="16"/>
<rect x="670" y="27" width="1" height="4"/>
<rect x="670" y="769" width="1" height="4"/>
<rect x="678" y="27" width="1" height="4"/>
<rect x="678" y="769" width="1" height="4"/>
<rect x="685" y="27" width="1" height="4"/>
<rect x="685" y="769" width="1" height="4"/>
<rect x="692" y="27" width="1" height="4"/>
<rect x="692" y="769" width="1" height="4"/>
<rect x="699" y="27" width="1" height="9"/>
<rect x="699" y="764" width="1" height="9"/>
<rect x="707" y="27" width="1" height="4"/>
<rect x="707" y="769" width="1" height="4"/>
<rect x="714" y="27" width="1" height="4"/>
<rect x="714" y="769" width="1" height="4"/>
<rect x="721" y="27" width="1" height="4"/>
<rect x="721" y="769" width="1" height="4"/>
<rect x="729" y="27" width="1" height="4"/>
<rect x="729" y="769" width="1" height="4"/>
<rect x="736" y="27" width="1" height="18"/>
<rect x="736" y="757" width="1" height="16"/>
<rect x="743" y="27" width="1" height="4"/>
<rect x="743" y="769" width="1" height="4"/>
<rect x="750" y="27" width="1" height="4"/>
<rect x="750" y="769" width="1" height="4"/>
<rect x="758" y="27" width="1" height="4"/>
<rect x="758" y="769" width="1" height="4"/>
<rect x="765" y="27" width="1" height="4"/>
<rect x="765" y="769" width="1" height="4"/>
<rect x="772" y="27" width="1" height="9"/>
<rect x="772" y="764" width="1" height="9"/>
<rect x="779" y="27" width="1" height="4"/>
<rect x="779" y="769" width="1" height="4"/>
<rect x="787" y="27" width="1" height="4"/>
<rect x="787" y="769" width="1" height="4"/>
<rect x="794" y="27" width="1" height="4"/>
<rect x="794" y="769" width="1" height="4"/>
<rect x="0" y="29" width="4" height="1"/>
<rect x="795" y="29" width="5" height="1"/>
<rect x="0" y="36" width="18" height="1"/>
<rect x="782" y="36" width="18" height="1"/>
<rect x="0" y="43" width="4" height="1"/>
<rect x="795" y="43" width="5" height="1"/>
<rect x="0" y="51" width="4" height="1"/>
<rect x="795" y="51" width="5" height="1"/>
<rect x="0" y="58" width="4" height="1"/>
<rect x="795" y="58" width="5" height="1"/>
<rect x="0" y="65" width="4" height="1"/>
<rect x="795" y="65" width="5" height="1"/>
<rect x="0" y="72" width="9" height="1"/>
<rect x="791" y="72" width="9" height="1"/>
<rect x="0" y="80" width="4" height="1"/>
<rect x="795" y="80" width="5" height="1"/>
<rect x="0" y="87" width="4" height="1"/>
<rect x="795" y="87" width="5" height="1"/>
<rect x="0" y="94" width="4" height="1"/>
<rect x="795" y="94" width="5" height="1"/>
<rect x="0" y="101" width="4" height="1"/>
<rect x="795" y="101" width="5" height="1"/>
<rect x="0" y="109" width="18" height="1"/>
<rect x="782" y="109" width="18" height="1"/>
<rect x="0" y="116" width="4" height="1"/>
<rect x="795" y="116" width="5" height="1"/>
<rect x="0" y="123" width="4" height="1"/>
<rect x="795" y="123" width="5" height="1"/>
<rect x="0" y="131" width="4" height="1"/>
<rect x="795" y="131" width="5" height="1"/>
<rect x="0" y="138" width="4" height="1"/>
<rect x="795" y="138" width="5" height="1"/>
<rect x="0" y="145" width="9" height="1"/>
<rect x="791" y="145" width="9" height="1"/>
<rect x="0" y="152" width="4" height="1"/>
<rect x="795" y="152" width="5" height="1"/>
<rect x="0" y="160" width="4" height="1"/>
<rect x="795" y="160" width="5" height="1"/>
<rect x="0" y="167" width="4" height="1"/>
<rect x="795" y="167" width="5" height="1"/>
<rect x="0" y="174" width="4" height="1"/>
<rect x="795" y="174" width="5" height="1"/>
<rect x="0" y="181" width="18" height="1"/>
<rect x="782" y="181" width="18" height="1"/>
<rect x="0" y="189" width="4" height="1"/>
<rect x="795" y="189" width="5" height="1"/>
<rect x="0" y="196" width="4" height="1"/>
<rect x="795" y="196" width="5" height="1"/>
<rect x="0" y="203" width="4" height="1"/>
<rect x="795" y="203" width="5" height="1"/>
<rect x="0" y="210" width="4" height="1"/>
<rect x="795" y="210" width="5" height="1"/>
<rect x="0" y="218" width="9" height="1"/>
<rect x="791" y="218" width="9" height="1"/>
<rect x="0" y="225" width="4" height="1"/>
<rect x="795" y="225" width="5" height="1"/>
<rect x="0" y="232" width="4" height="1"/>
<rect x="795" y="232" width="5" height="1"/>
<rect x="0" y="240" width="4" height="1"/>
<rect x="795" y="240" width="5" height="1"/>
<rect x="0" y="247" width="4" height="1"/>
<rect x="795" y="247" width="5" height="1"/>
<rect x="0" y="254" width="18" height="1"/>
<rect x="782" y="254" width="18" height="1"/>
<rect x="0" y="261" width="4" height="1"/>
<rect x="795" y="261" width="5" height="1"/>
<rect x="0" y="269" width="4" height="1"/>
<rect x="795" y="269" width="5" height="1"/>
<rect x="0" y="276" width="4" height="1"/>
<rect x="795" y="276" width="5" height="1"/>
<rect x="0" y="283" width="4" height="1"/>
<rect x="795" y="283" width="5" height="1"/>
<rect x="0" y="290" width="9" height="1"/>
<rect x="791" y="290" width="9" height="1"/>
<rect x="0" y="298" width="4" height="1"/>
<rect x="795" y="298" width="5" height="1"/>
<rect x="0" y="305" width="4" height="1"/>
<rect x="795" y="305" width="5" height="1"/>
<rect x="0" y="312" width="4" height="1"/>
<rect x="795" y="312" width="5" height="1"/>
<rect x="0" y="320" width="4" height="1"/>
<rect x="795" y="320" width="5" height="1"/>
<rect x="0" y="327" width="18" height="1"/>
<rect x="782" y="327" width="18" height="1"/>
<rect x="0" y="334" width="4" height="1"/>
<rect x="795" y="334" width="5" height="1"/>
<rect x="0" y="341" width="4" height="1"/>
<rect x="795" y="341" width="5" height="1"/>
<rect x="0" y="349" width="4" height="1"/>
<rect x="795" y="349" width="5" height="1"/>
<rect x="0" y="356" width="4" height="1"/>
<rect x="795" y="356" width="5" height="1"/>
<rect x="0" y="363" width="9" height="1"/>
<rect x="791" y="363" width="9" height="1"/>
<rect x="0" y="370" width="4" height="1"/>
<rect x="795" y="370" width="5" height="1"/>
<rect x="0" y="378" width="4" height="1"/>
<rect x="795" y="378" width="5" height="1"/>
<rect x="0" y="385" width="4" height="1"/>
<rect x="795" y="385" width="5" height="1"/>
<rect x="0" y="392" width="4" height="1"/>
<rect x="795" y="392" width="5" height="1"/>
<rect x="0" y="400" width="18" height="1"/>
<rect x="782" y="400" width="18" height="1"/>
<rect x="0" y="407" width="4" height="1"/>
<rect x="795" y="407" width="5" height="1"/>
<rect x="0" y="414" width="4" height="1"/>
<rect x="795" y="414" width="5" height="1"/>
<rect x="0" y="421" width="4" height="1"/>
<rect x="795" y="421" width="5" height="1"/>
<rect x="0" y="429" width="4" height="1"/>
<rect x="795" y="429" width="5" height="1"/>
<rect x="0" y="436" width="9" height="1"/>
<rect x="791" y="436" width="9" height="1"/>
<rect x="0" y="443" width="4" height="1"/>
<rect x="795" y="443" width="5" height="1"/>
<rect x="0" y="450" width="4" height="1"/>
<rect x="795" y="450" width="5" height="1"/>
<rect x="0" y="458" width="4" height="1"/>
<rect x="795" y="458" width="5" height="1"/>
<rect x="0" y="465" width="4" height="1"/>
<rect x="795" y="465" width="5" height="1"/>
<rect x="0" y="472" width="18" height="1"/>
<rect x="782" y="472" width="18" height="1"/>
<rect x="0" y="479" width="4" height="1"/>
<rect x="795" y="479" width="5" height="1"/>
<rect x="0" y="487" width="4" height="1"/>
<rect x="795" y="487" width="5" height="1"/>
<rect x="0" y="494" width="4" height="1"/>
<rect x="795" y="494" width="5" height="1"/>
<rect x="0" y="501" width="4" height="1"/>
<rect x="795" y="501" width="5" height="1"/>
<rect x="0" y="509" width="9" height="1"/>
<rect x="791" y="509" width="9" height="1"/>
<rect x="0" y="516" width="4" height="1"/>
<rect x="795" y="516" width="5" height="1"/>
<rect x="0" y="523" width="4" height="1"/>
<rect x="795" y="523" width="5" height="1"/>
<rect x="0" y="530" width="4" height="1"/>
<rect x="795" y="530" width="5" height="1"/>
<rect x="0" y="538" width="4" height="1"/>
<rect x="795" y="538" width="5" height="1"/>
<rect x="0" y="545" width="18" height="1"/>
<rect x="782" y="545" width="18" height="1"/>
<rect x="0" y="552" width="4" height="1"/>
<rect x="795" y="552" width="5" height="1"/>
<rect x="0" y="559" width="4" height="1"/>
<rect x="795" y="559" width="5" height="1"/>
<rect x="0" y="567" width="4" height="1"/>
<rect x="795" y="567" width="5" height="1"/>
<rect x="0" y="574" width="4" height="1"/>
<rect x="795" y="574" width="5" height="1"/>
<rect x="0" y="581" width="9" height="1"/>
<rect x="791" y="581" width="9" height="1"/>
<rect x="0" y="589" width="4" height="1"/>
<rect x="795" y="589" width="5" height="1"/>
<rect x="0" y="596" width="4" height="1"/>
<rect x="795" y="596" width="5" height="1"/>
<rect x="0" y="603" width="4" height="1"/>
<rect x="795" y="603" width="5" height="1"/>
<rect x="0" y="610" width="4" height="1"/>
<rect x="795" y="610" width="5" height="1"/>
<rect x="0" y="618" width="18" height="1"/>
<rect x="782" y="618" width="18" height="1"/>
<rect x="0" y="625" width="4" height="1"/>
<rect x="795" y="625" width="5" height="1"/>
<rect x="0" y="632" width="4" height="1"/>
<rect x="795" y="632" width="5" height="1"/>
<rect x="0" y="639" width="4" height="1"/>
<rect x="795" y="639" width="5" height="1"/>
<rect x="0" y="647" width="4" height="1"/>
<rect x="795" y="647" width="5" height="1"/>
<rect x="0" y="654" width="9" height="1"/>
<rect x="791" y="654" width="9" height="1"/>
<rect x="0" y="661" width="4" height="1"/>
<rect x="795" y="661" width="5" height="1"/>
<rect x="0" y="668" width="4" height="1"/>
<rect x="795" y="668" width="5" height="1"/>
<rect x="0" y="676" width="4" height="1"/>
<rect x="795" y="676" width="5" height="1"/>
<rect x="0" y="683" width="4" height="1"/>
<rect x="795" y="683" width="5" height="1"/>
<rect x="0" y="690" width="18" height="1"/>
<rect x="782" y="690" width="18" height="1"/>
<rect x="0" y="698" width="4" height="1"/>
<rect x="795" y="698" width="5" height="1"/>
<rect x="0" y="705" width="4" height="1"/>
<rect x="795" y="705" width="5" height="1"/>
<rect x="0" y="712" width="4" height="1"/>
<rect x="795" y="712" width="5" height="1"/>
<rect x="0" y="719" width="4" height="1"/>
<rect x="795" y="719" width="5" height="1"/>
<rect x="0" y="727" width="9" height="1"/>
<rect x="791" y="727" width="9" height="1"/>
<rect x="0" y="734" width="4" height="1"/>
<rect x="795" y="734" width="5" height="1"/>
<rect x="0" y="741" width="4" height="1"/>
<rect x="795" y="741" width="5" height="1"/>
<rect x="0" y="748" width="4" height="1"/>
<rect x="795" y="748" width="5" height="1"/>
<rect x="0" y="756" width="4" height="1"/>
<rect x="795" y="756" width="5" height="1"/>
<rect x="0" y="763" width="18" height="1"/>
<rect x="782" y="763" width="18" height="1"/>
<rect x="0" y="770" width="4" height="1"/>
<rect x="795" y="770" width="5" height="1"/>
</g>
<defs><linearGradient id="cb" x1="0" y1="1" x2="0" y2="0">
<stop offset="0.0000" stop-color="#0000ff"/>
<stop offset="0.2627" stop-color="#00ffff"/>
<stop offset="0.4000" stop-color="#00f200"/>
<stop offset="0.5333" stop-color="#ffff00"/>
<stop offset="0.8333" stop-color="#ff0000"/>
<stop offset="1.0000" stop-color="#be0082"/>
</linearGradient></defs>
<g shape-rendering="crispEdges"><rect x="32" y="160" width="49" height="608" fill="#000"/><rect x="33" y="161" width="47" height="606" fill="#fff"/><rect x="34" y="162" width="45" height="604" fill="url(#cb)"/></g>
<text class="n" x="86.5" y="164.8" textLength="17.7" lengthAdjust="spacing">30</text>
<text class="n" x="86.5" y="316.8" textLength="17.7" lengthAdjust="spacing">22</text>
<text class="n" x="86.5" y="468.9" textLength="17.2" lengthAdjust="spacing">15</text>
<text class="n" x="86.5" y="621.0" textLength="8.6" lengthAdjust="spacing">8</text>
<text class="n" x="86.5" y="773.0" textLength="8.6" lengthAdjust="spacing">0</text>
<text class="n" style="font-size:16.5px" x="34.2" y="148" textLength="43.5" lengthAdjust="spacing">[m/s]</text>
<text class="t" y="49.7" x="5 31 48 66 83 92 109 118 139 156 173 191 201 229 248 267 284 293 304 325 343 360 378">modelo GEFS-WAVE (NCEP)</text>
<text class="t" y="72.4" x="5 16 33 45 62 77 94 109 121 130 148 165 177 194 204 213 230 247 264 281 291 308 325 335 352 369 378 395 412 422 439 456 466 483">forecast date: 2023-07-26 00:00:00</text>
<text class="t" y="95.2" x="41 57 74 83 92 110 119 137 154 166 183 193 202 219 236 253 270 280 297 314 324 341 358 367 384 401 411 428 445 455 472">valid date: 2023-08-05 06:00:00</text>
</svg></body></html>
